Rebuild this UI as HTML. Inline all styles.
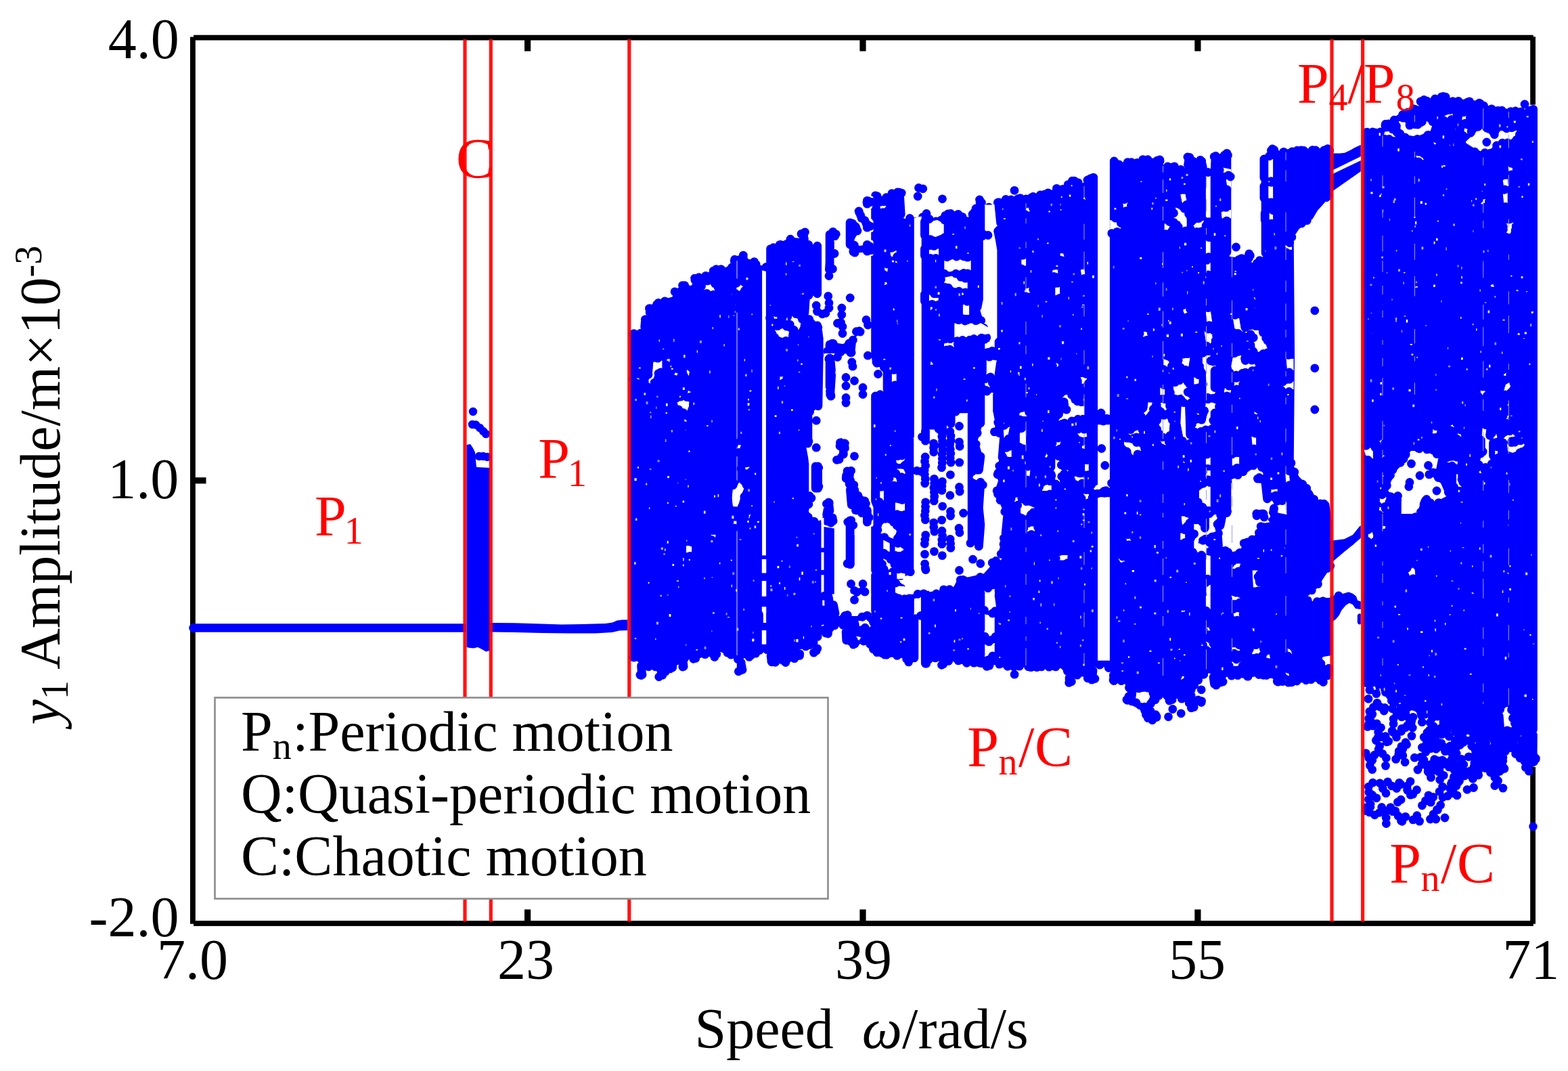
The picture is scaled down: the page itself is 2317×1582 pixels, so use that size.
<!DOCTYPE html>
<html lang="en"><head><meta charset="utf-8"><title>Bifurcation diagram</title>
<style>
html,body{margin:0;padding:0;background:#fff;}
svg{display:block;filter:blur(0.55px);}
text{font-family:"Liberation Serif","DejaVu Serif",serif;}
</style></head>
<body>
<svg width="2317" height="1582" viewBox="0 0 2317 1582">
<rect width="2317" height="1582" fill="#fff"/>
<g id="axes-frame">
<rect x="286" y="51.7" width="1979.8" height="7.8" fill="#000"/>
<rect x="286" y="1360" width="1979.8" height="7.9" fill="#000"/>
<rect x="281" y="54.5" width="7.8" height="1310.2" fill="#000"/>
<rect x="2261.2" y="54.3" width="7.8" height="1310.4" fill="#000"/>
<rect x="775.0" y="59" width="9.2" height="16.6" fill="#000"/>
<rect x="775.0" y="1343.4" width="9.2" height="17" fill="#000"/>
<rect x="1270.4" y="59" width="9.2" height="16.6" fill="#000"/>
<rect x="1270.4" y="1343.4" width="9.2" height="17" fill="#000"/>
<rect x="1765.3" y="59" width="9.2" height="16.6" fill="#000"/>
<rect x="1765.3" y="1343.4" width="9.2" height="17" fill="#000"/>
<rect x="288" y="705.2" width="16.5" height="9.2" fill="#000"/>
<rect x="2245" y="705.2" width="17" height="9.2" fill="#000"/>
</g>
<g id="scatter">
<path fill="#0000ff" d="M285 921.2L689 921.2L689 933.8L285 933.8Z"/>
<path fill="none" stroke="#0000ff" stroke-width="12.6" stroke-linecap="round" d="M285.5 927.5h0"/>
<path fill="#0000ff" d="M724 920L760 920.3L800 921.5L830 922.5L860 922L895 921L905 919.5L912 916.5L920 915.5L931 915.5L931 931L915 931.5L905 934L880 935.5L840 935.5L800 935L760 934L724 933.5ZM689.5 657L695 656L699 662L702 668L704 690L724 691L724 961L718 962.5L712 959L706 956L700 957.5L694 957L689.5 956Z"/>
<path fill="none" stroke="#0000ff" stroke-width="12.4" stroke-linecap="round" d="M699 608h0M698 627h0M703 627.5h0M709 632h0M714 637h0M718 641h0M708 674h0M714 674h0M720 675h0"/>
<path fill="#0000ff" stroke="#fff" stroke-width="6" stroke-linejoin="round" d="M930.5 488.8L946.2 486.2L948 467.5L953.8 465L955 451.2L970 442.5L980 438.8L991.2 436.2L992.5 427.5L1003.8 423.8L1007.5 416.2L1020 418.8L1023.8 406.2L1045 400L1055 391.2L1070 392.5L1078.8 388.8L1080 378.8L1092.5 377.5L1100 371.2L1107.5 380L1117.5 381.2L1127.5 395L1132.5 402.5L1132.5 363.8L1150 356.2L1167.5 347.5L1180 348.8L1183.8 340L1192.5 341.2L1195 356.2L1207.5 360L1215 366.2L1287.5 330L1287.5 285L1295 283.8L1305 287.5L1315 280L1330 277.5L1335 280L1337.5 320L1350 322.5L1362.5 320L1362.5 315L1370 316.2L1377.5 322.5L1387.5 316.2L1395 312.5L1405 308.8L1417.5 310L1430 317.5L1437.5 305L1447.5 292.5L1452.5 295L1455 305L1470 305L1470 295L1480 290L1499.2 287.5L1499 287.5L1514 287.5L1517.8 286.2L1554 277.5L1556.5 273.8L1571.5 272.5L1574 266.2L1581.5 261.2L1594 260L1599 267.5L1604 260L1611.5 257.5L1621.5 258.8L1640.2 240L1644 237.5L1661.5 236.2L1665.2 233.8L1684 233.8L1686.5 230L1719 231.2L1721.5 241.2L1731.5 237.5L1739 240L1749 246.2L1751.5 230L1756.5 226.2L1764 230L1767.8 233.8L1776.5 231.2L1781.5 237.5L1784 250L1789 252.5L1790.2 226.2L1804 223.8L1819 222.5L1819 376.2L1831.5 377.5L1844 370L1851.5 372.5L1851.5 385L1859 380L1864 377.5L1864 235L1869 232.5L1876.5 237.5L1876.5 217.5L1881.5 216.2L1889 220L1899 217.5L1911.5 217L1941.5 216.2L1968 215.8L1968 1000L1959 1011.2L1944 1010L1924 1011.2L1909 1013.8L1884 1012.5L1879 1005L1854 1002.5L1844 1005L1824 1003.8L1814 1002.5L1811.5 1010L1796.5 1017.5L1789 1015L1786.5 997.5L1774 1010L1764 1022.5L1767.8 1027.5L1781.5 1030L1781.5 1038.8L1769 1040L1770.2 1045L1764 1051.2L1754 1047.5L1751.5 1040L1739 1035L1734 1040L1724 1040L1719 1030L1709 1040L1699 1042.5L1706.5 1047.5L1714 1055L1711.5 1063.8L1696.5 1067.5L1684 1055L1679 1042.5L1674 1041.2L1664 1041.2L1659 1035L1661.5 1027.5L1664 1020L1659 1011.2L1640.2 1010L1639 993.8L1629 987.5L1621.5 987.5L1619 1008.8L1604 1007.5L1601.5 1002.5L1590.2 1002.5L1589 1010L1581.5 1013.8L1574 1007.5L1574 997.5L1566.5 990L1516.5 991.2L1514 988.8L1499 990L1499.2 990L1480 988.8L1470 985L1460 990L1447.5 988.8L1435 985L1420 983.8L1407.5 980L1397.5 985L1392.5 988.8L1387.5 980L1377.5 977.5L1370 983.8L1363.8 982.5L1362.5 975L1350 975L1348.8 980L1342.5 982.5L1332.5 975L1320 973.8L1300 973.8L1290 967.5L1280 955L1275 945L1268.8 952.5L1262.5 957.5L1255 952.5L1245 950L1243.8 930L1240 926.2L1232.5 935L1225 942.5L1215 940L1207.5 952.5L1212.5 960L1206.2 967.5L1200 957.5L1192.5 960L1182.5 962.5L1188.8 967.5L1182.5 976.2L1170 980L1163.8 983.8L1155 981.2L1145 983.8L1135 982.5L1132.5 966.2L1126.2 965L1122.5 967.5L1115 976.2L1101.2 975L1101.2 990L1095 996.2L1090 990L1090 980L1082.5 975L1075 971.2L1065 966.2L1057.5 976.2L1045 972.5L1035 975L1027.5 981.2L1020 976.2L1015 985L1008.8 991.2L1002.5 985L992.5 995L982.5 998.8L978.8 1003.8L973.8 1000L970 990L955 990L952.5 997.5L947.5 1003.8L942.5 997.5L941.2 980L930.5 975Z"/>
<path fill="none" stroke="#0000ff" stroke-width="12.8" stroke-linecap="round" d="M935 494.1h0M946.6 492.1h0M952.7 483L953.7 471.9M953.3 471.8h0M960.2 461.7L960.7 455.6M959.4 455.6h0M970.5 449.7h0M972.9 447.3h0M982.4 444.8h0M997.1 430.9h0M1005.7 430.2h0M1011.7 421.6h0M1008.5 421.6h0M1026.9 413.6h0M1026.6 411.1h0M1032.7 409.7h0M1042.9 407.4h0M1054.2 400.1h0M1058.2 397.7h0M1065.5 397.6h0M1081.4 395h0M1085.3 385.7L1085.6 383.3M1091.1 383.9h0M1098.3 379.7h0M1098.3 377.1h0M1114.5 386.6h0M1117.1 390.4h0M1122 398.5h0M1123 398h0M1138.6 398.7L1138.6 367.6M1142.8 365.7h0M1152.1 361.6h0M1153.4 361.4h0M1168 353.4h0M1168 353.2h0M1189.5 342.8h0M1184 345.5h0M1187.1 346L1188.4 353.5M1194.8 361.5h0M1210.1 369.1h0M1221.3 369.6h0M1225.7 368h0M1231.8 364.7h0M1238.1 361.1h0M1245.2 357.3h0M1257.2 352.3h0M1259.5 351.4h0M1265.1 347.6h0M1276.1 342.6h0M1278 342.3h0M1284.8 337.5h0M1293.6 326.2L1293.6 288.8M1294.2 289.6h0M1296.2 289.7h0M1309.5 291.7h0M1317.8 285.7h0M1326.2 284h0M1332.2 285.1h0M1329.2 284.2L1331.2 316.5M1343.4 327.9h0M1353.3 327.2h0M1369 315.5h0M1363.5 320.6h0M1371.3 326h0M1383 327h0M1396.8 318.4h0M1401 315.8h0M1404.8 315.5h0M1415.8 316.3h0M1422 320.3h0M1437 316.6h0M1439.8 313.4h0M1442.1 308h0M1450.4 299.3h0M1448.1 299h0M1449.6 305.5h0M1455.1 310.5h0M1465.8 310.1h0M1476.1 301.2L1476.1 298.8M1474.3 299.2h0M1486.2 294.5h0M1494 294.8h0M1499 281.3h0M1504.2 293.6h0M1507.6 292.6h0M1516.2 293.8h0M1524.4 291.6h0M1526.6 290.4h0M1537.2 288h0M1543.4 287.1h0M1548.7 284.9h0M1561.4 278.4h0M1562.5 279.5h0M1570.5 279.3h0M1578.2 272.6h0M1584.4 267.2h0M1587.4 267.1h0M1593.3 269.8h0M1606.9 266h0M1610.3 264.3h0M1611.5 263.7h0M1632.4 257.2h0M1636.3 252h0M1642.9 245.9h0M1645.5 244.3h0M1645.2 243.8h0M1653.4 242.9h0M1666.3 239.6h0M1671.8 239.6h0M1680.4 240.4h0M1688.8 235.6h0M1688.7 236.3h0M1696.1 235.7h0M1709.9 237.1h0M1714.2 237.7h0M1713.8 236h0M1725.5 245.9h0M1735.4 245.8h0M1744.8 250.3h0M1755.6 243.4L1756.9 234.7M1757.8 232.3h0M1754.9 232h0M1762.5 237.8h0M1775.8 238.4h0M1773.7 236.3h0M1776.3 242.5L1777.3 247.4M1783.8 256h0M1795.3 249L1796.2 230.4M1794.2 231.4h0M1809.2 229.2h0M1814.4 229.4h0M1812.9 226.3L1812.9 372.4M1830.7 383.3h0M1834.6 381.6h0M1845.8 374.8h0M1847.4 377.5h0M1845.4 376.3L1845.4 381.2M1857.4 388.8h0M1861.4 384.6h0M1870.1 373.7L1870.1 238.8M1868.5 238.4h0M1872.2 241.2h0M1882.6 233.7L1882.6 221.3M1878.4 222.3h0M1883.6 223.8h0M1896.8 224.4h0M1909.4 223.8h0M1916.8 222.2h0M1922.7 222h0M1926.7 222.5h0M1939.5 221.6h0M1944 221.8h0M1956.6 221.9h0M1964.7 222.2h0M1961.9 219.6L1961.9 996.2M1961.2 998.2h0M1955.4 1007.5h0M1952.5 1004.4h0M1951 1004.7h0M1937.3 1003.8h0M1929.9 1004.8h0M1916.3 1006h0M1908.5 1007.9h0M1903.8 1008.1h0M1895 1006.6h0M1887.3 1006.4h0M1888.4 1007.2h0M1871.5 997.5h0M1866.8 997.3h0M1860.3 996.5h0M1844.1 999.2h0M1843.5 999.2h0M1828.9 997.7h0M1819.8 998.1h0M1807.1 1007h0M1803.1 1008.2h0M1798.6 1009.3h0M1797.1 1012.2h0M1794.5 1010.3L1793.1 1000.4M1778.8 996.3h0M1770.6 1004.6h0M1764.7 1012.2h0M1760.2 1019h0M1760.1 1027.2h0M1770.6 1034.4h0M1775.6 1035.6h0M1770.4 1033.8h0M1763.9 1042.9h0M1760.3 1045.6h0M1764.2 1044.4h0M1757.2 1038.4h0M1746.3 1032.2h0M1732.1 1033.5h0M1727.9 1035h0M1724.5 1027.7h0M1712.4 1027.4h0M1707 1033.7h0M1700.8 1036.8h0M1699.9 1050h0M1709 1059.4h0M1707.7 1055.7h0M1709.1 1058.4h0M1696.3 1060.7h0M1697.5 1060.6h0M1693.4 1055.7h0M1684.2 1041.5h0M1676.3 1036.6h0M1672.1 1035.8h0M1664.9 1033.5h0M1665.7 1034.3h0M1667.8 1028.7h0M1668.5 1016h0M1657 1005.7h0M1645 1004.5h0M1646 1005.7L1645.4 997.1M1638.3 986.5h0M1625 982.2h0M1615 990.6L1613.4 1004.2M1618 1002.5h0M1607.2 1001.8h0M1607.3 1000.5h0M1591.9 997.1h0M1583 1007h0M1579.7 1008.4h0M1583.4 1006.7h0M1580.1 1003.7L1580.1 1001.3M1577.2 991.1h0M1560 984.9h0M1557.5 983.9h0M1550.2 985.2h0M1539 984.9h0M1532.2 985.6h0M1527.8 984.7h0M1523.4 985.7h0M1519.5 984.8h0M1506.3 984.2h0M1502.2 983.3h0M1499.1 996.2h0M1497.8 984.8h0M1488.9 984.3h0M1476.6 981.1h0M1462 983.1h0M1458.2 984.4h0M1438.9 979.1h0M1428.5 979.3h0M1427.6 977.6h0M1416.1 975.9h0M1401.6 976.4h0M1391.5 982.3h0M1393.9 981h0M1382.1 971.9h0M1372.4 974.2h0M1366.5 977.2h0M1368.7 980.2h0M1356.1 970h0M1342.6 977.9h0M1341.9 975.7h0M1339.6 973.2h0M1325.6 968.4h0M1310.2 967.3h0M1307.4 967.1h0M1295.9 963.7h0M1290.4 958.8h0M1285.7 951.5h0M1282.2 945.2h0M1265.8 947.1h0M1261 952.1h0M1263.2 950.9h0M1256.3 947h0M1250.8 945.8L1250.1 933.5M1245.7 923.3h0M1233.2 923.9h0M1223.5 936h0M1219.9 935h0M1208.1 940.4h0M1202.2 949.3h0M1205.7 961.3h0M1202.5 964.1h0M1207.8 958h0M1196.3 952.7h0M1190.7 954.9h0M1181.6 968.4h0M1181.8 965.8h0M1173.9 972.6h0M1160.9 978.5h0M1156.7 975.4h0M1145.7 978.3h0M1139.8 976.7h0M1140.4 977.8L1139.1 969.1M1133.5 959.6h0M1122.4 960.5h0M1116.8 965.1h0M1107.1 970.4h0M1095.2 978.8L1095.2 986.2M1091.3 991.8h0M1097.1 989.2h0M1096.1 986.2L1096.1 983.8M1090.3 973.6h0M1080.3 967.2h0M1075 964.2h0M1058.8 966.2h0M1055.9 970.5h0M1041.9 966.7h0M1027.8 972.4h0M1024.7 973.3h0M1009.2 981.6h0M1009.9 980.8h0M1010.2 984.4h0M993.8 986h0M990.2 987.9h0M983.2 992.2h0M973.7 999.8h0M978.9 997.3h0M976.9 991.7h0M968.5 984.9h0M958.5 984.8h0M948 991.4h0M945.9 996.9h0M949.1 996.5h0M948.3 993.2L947.6 983.4M935.4 970.7h0M936.6 971.2L936.6 492.6M1726.5 1058.8h0M1745.2 1053.8h0M1732.8 1047.5h0M1775.2 1037.5h0M1775.2 1018.8h0M1702.8 1063.8h0M1682.8 1040h0M1581.5 1007.5h0M1008.8 985h0M1095 990h0M947.5 997.5h0M977.5 997.5h0M1206.2 961.2h0M1262.5 951.2h0M1357.5 277.5h0M1356.2 290h0M1363.8 278.8h0M1392.5 293.8h0M1447.5 295h0M1461.2 306.2h0M1826.5 365h0M1880.2 220h0M1869 237.5h0"/>
<path fill="#0000ff" d="M1966 226.4L1980 226.5L1987 225.7L1995 222L2002 218L2014 212.5L2014 229.5L1966 253ZM1966 258.5L2014 235.5L2014 251L1966 284.5ZM1966.5 798.8L1986.5 796.2L1999 790L2009 777.5L2014.5 774L2014.5 791.5L1999 805L1986.5 815L1966.5 832ZM1966 880.7L1976.7 880.2L1984.8 876.7L1992.9 874.6L1998.9 876.7L2004 880.7L2006 886.8L2014.1 889.8L2014.1 900.4L2003 898.9L1998.9 892.9L1993.9 890.8L1988.8 893.9L1982.7 900.9L1978.7 909L1973.6 915.1L1966 920.2ZM2005.8 909L2007.2 906.8L2009.5 906.2L2011.6 907L2011.6 921.7L2009.5 922.4L2007.2 922L2005.8 919.7Z"/>
<path fill="#0000ff" stroke="#fff" stroke-width="6" stroke-linejoin="round" d="M2013.8 191.2L2020.5 190L2040.5 188.8L2041.8 178.8L2053 176.2L2063 167.5L2073 162.5L2088 155L2095.5 153.8L2098 145L2113 142.5L2123 140L2133 136.2L2140.5 137.5L2143 143.8L2163 143.8L2188 146.2L2191.8 150L2198 152.5L2208 156.2L2225.5 157.5L2245.5 158.8L2259.2 158L2271.8 157.5L2271.5 1081.6L2271.1 1130.1L2261.4 1130.1L2257.4 1109.9L2239.1 1113.9L2241.2 1101.8L2245.2 1085.6L2235.1 1079.6L2231.1 1065.4L2227 1047.2L2220.9 1053.3L2223 1079.6L2218.9 1085.6L2204.8 1095.7L2192.6 1099.8L2186.6 1093.7L2176.4 1087.7L2160.3 1081.6L2144.1 1077.5L2129.9 1071.5L2125.9 1065.4L2111.7 1059.3L2097.6 1061.4L2089.5 1053.3L2077.3 1049.2L2063.2 1047.2L2053.1 1041.1L2045 1031L2038.9 1020.9L2024.7 1013.8L2013.8 1012.8Z"/>
<path fill="none" stroke="#0000ff" stroke-width="12.8" stroke-linecap="round" d="M2021.7 196.6h0M2028.2 195h0M2032.1 195.9h0M2047 185.7L2047.3 183.3M2051.9 182.8h0M2060.2 177.2h0M2072.5 169.5h0M2080.2 165.8h0M2088.5 160.7h0M2091 161.4h0M2104.1 147.5h0M2099.1 150h0M2108.5 149.1h0M2120.5 146h0M2130.2 142.8h0M2132.6 142.5h0M2136.2 143.2h0M2146.7 149.6h0M2155.1 149.4h0M2168.6 150.8h0M2171.4 149.8h0M2185.8 152.2h0M2187.1 152.9h0M2192.4 156.1h0M2204.1 160.8h0M2213.2 163.4h0M2219.2 163.1h0M2232.5 164.6h0M2239.4 164h0M2247.2 165.2h0M2260.4 163.1h0M2265.6 161.3L2265.4 1077.7M2265.4 1085.4L2265 1126.2M2265.6 1124.3h0M2266.6 1125.2L2264.1 1112.5M2249.9 1105.9h0M2240.1 1108.5h0M2245.8 1111.2L2246.6 1106.6M2247.6 1101.6h0M2248.7 1094.4h0M2241.1 1075.9h0M2239.6 1076.1h0M2238.4 1068.2h0M2235.4 1060.9h0M2233.5 1048.5h0M2216.7 1048h0M2215.2 1057.6L2216.6 1076.2M2214.5 1081.9h0M2210 1085.2h0M2206.3 1087.6h0M2191.3 1093.3h0M2195.1 1094.3h0M2185.8 1086.7h0M2175.2 1081.1h0M2168.9 1078.4h0M2155.3 1074.2h0M2146.9 1072h0M2145.3 1071.2h0M2132.9 1066.8h0M2134.8 1068h0M2124.4 1058.2h0M2114.4 1053.8h0M2105.3 1055.1h0M2099.9 1054.5h0M2100.5 1057h0M2082.6 1044h0M2077.6 1043.1h0M2070.1 1041.8h0M2059.4 1038.6h0M2056.3 1034.9h0M2047.3 1022.5h0M2038.6 1014.5h0M2027.7 1008.4h0M2019.9 1007.4h0M2019.9 1009L2019.9 195.1M2253 154h0"/>
<path fill="none" stroke="#0000ff" stroke-width="12.4" stroke-linecap="round" d="M2265.5 1221h0"/>
<path fill="#ffffff" stroke="#fff" stroke-width="5" stroke-linejoin="round" d="M1213.8 330L1213.8 433.8L1196.2 442.5L1195 462.5L1201.2 467.5L1213.8 480L1216.2 500L1216.2 525.5L1216.2 525L1215 600L1200 612.5L1200 655L1191.2 661.2L1193.8 675L1195 685L1195 725L1202.5 732.5L1197.5 755L1202.5 765L1215 767.5L1232.5 775L1232.5 895L1240 907.5L1287.5 907.5L1287.5 850L1295 847.5L1287.5 842.5L1287.5 775L1287.5 675L1287.5 585L1305 575L1305 550L1290 537.5L1287.5 525L1287.5 525.5L1287.5 380L1287.5 330Z"/>
<path fill="none" stroke="#0000ff" stroke-width="12.8" stroke-linecap="round" d="M1207.7 363.2L1207.7 433.8M1190.2 442.1L1188.9 462.1M1207.7 480.8L1210.2 500.8M1210.2 500L1210.2 525.5M1210.2 524.9L1208.9 599.9M1193.9 612.5L1193.9 655M1185.2 662.3L1187.7 676.1M1187.7 675.8L1188.9 685.8M1188.9 685L1188.9 725M1226.4 775L1226.4 895M1293.6 907.5L1293.6 850M1293.6 842.5L1293.6 775M1293.6 775L1293.6 675M1293.6 675L1293.6 585M1311.1 575L1311.1 550M1296 536.3L1293.5 523.8M1293.6 525.5L1293.6 380M1293.6 380L1293.6 330M1204.5 430.8h0M1195 436.2h0M1195.9 471.7h0M1208.9 483.8h0M1222.8 525.1h0M1208.7 598.9h0M1196.6 608.3h0M1195 651.8h0M1199 735.6h0M1196.2 732.5h0M1195 744.8h0M1194.4 763.9h0M1202.9 770.1h0M1214.6 774.2h0M1223.8 776.7h0M1228.3 900.4h0M1245.2 914h0M1252 914.2h0M1273.7 914.4h0M1280.1 912.1h0M1295.3 840.7h0M1293.4 589.7h0M1300.6 582.7h0M1306.4 542.7h0M1296.1 536.2h0M1282.4 525.2h0"/>
<path fill="#0000ff" stroke="#fff" stroke-width="6" stroke-linejoin="round" d="M1220 342.5L1230 336.2L1238.8 342.5L1238.8 350L1232.5 353.8L1232.5 370L1238.8 376.2L1232.5 382.5L1231.2 402.5L1220 402.5Z"/>
<path fill="none" stroke="#0000ff" stroke-width="12.8" stroke-linecap="round" d="M1230.8 342.3h0M1235.3 345.8h0M1233.7 348.7h0M1232.4 347.1h0M1226.4 357.6L1226.4 366.2M1228.8 375.6h0M1233.1 374.5h0M1226.2 386L1225.4 398.3M1230.4 397.2h0M1226.1 398.7L1226.1 346.3"/>
<path fill="#0000ff" stroke="#fff" stroke-width="6" stroke-linejoin="round" d="M1250 325L1260 322.5L1270 330L1272.5 342.5L1265 355L1270 360L1287.5 357.5L1287.5 375L1270 376.2L1262.5 378.8L1255 375L1250 365Z"/>
<path fill="none" stroke="#0000ff" stroke-width="12.8" stroke-linecap="round" d="M1256.2 329.9h0M1259.9 330.2h0M1264.8 335L1265.8 339.9M1267 341h0M1262.4 362.2h0M1285.4 364h0M1281.4 361.3L1281.4 371.2M1286.9 369.6h0M1263.1 373.2h0M1260.8 371.6h0M1261.2 371.8h0M1256.1 361.2L1256.1 328.8"/>
<path fill="#0000ff" stroke="#fff" stroke-width="6" stroke-linejoin="round" d="M1263.8 310L1270 308.8L1287.5 327.5L1287.5 340L1277.5 337.5L1263.8 317.5Z"/>
<path fill="none" stroke="#0000ff" stroke-width="12.8" stroke-linecap="round" d="M1269.7 313.9h0M1271.6 318.1h0M1277.8 325.6h0M1281.4 331.3L1281.4 336.2M1285.8 334.1h0M1279.9 330.1h0M1273 322.1h0M1269.1 312h0"/>
<path fill="#0000ff" stroke="#fff" stroke-width="6" stroke-linejoin="round" d="M1276.2 293.8L1287.5 292.5L1287.5 305L1277.5 303.8Z"/>
<path fill="none" stroke="#0000ff" stroke-width="12.8" stroke-linecap="round" d="M1287.5 298.4h0M1281.4 296.3L1281.4 301.2M1280.9 298.8h0M1283.1 299.2L1282.8 296.8"/>
<path fill="#0000ff" stroke="#fff" stroke-width="6" stroke-linejoin="round" d="M1220 505L1230 502.5L1245 505L1255 500L1267.5 485L1275 490L1265 502.5L1262.5 525.5L1220 525.5Z"/>
<path fill="none" stroke="#0000ff" stroke-width="12.8" stroke-linecap="round" d="M1229.4 507.5h0M1231.3 507.5h0M1254.6 507.2h0M1260.4 502.2h0M1271.1 490.1h0M1265.4 489.7h0M1269.7 489h0M1258.5 505.7L1256.9 521M1258.2 520.8h0M1242.1 519.9h0M1235.8 519.4h0M1222.5 518.9h0M1226.1 521.7L1226.1 508.8M1225 407.5h0M1223.8 437.5h0M1225 447.5h0M1206.2 451.2h0M1207.5 460h0M1220 462.5h0M1225 455h0M1215 463.8h0M1256.2 440h0M1243.8 455h0M1243.8 465h0M1242.5 476.2h0M1237.5 477.5h0M1245 482.5h0M1245 492.5h0M1280 472.5h0M1282.5 480h0"/>
<path fill="#0000ff" stroke="#fff" stroke-width="6" stroke-linejoin="round" d="M1220 525L1232.5 525L1235 550L1232.5 587.5L1222.5 590L1220 575Z"/>
<path fill="none" stroke="#0000ff" stroke-width="12.8" stroke-linecap="round" d="M1224.8 530.3h0M1226.8 529.4L1228.5 546.8M1228.7 553.4L1226.7 583.3M1227.3 584.1h0M1227.9 585.2L1226.6 577.8M1226.1 571.2L1226.1 528.8"/>
<path fill="#0000ff" stroke="#fff" stroke-width="6" stroke-linejoin="round" d="M1232.5 655L1242.5 642.5L1252.5 650L1255 665L1250 675L1237.5 685L1231.2 677.5L1237.5 667.5Z"/>
<path fill="none" stroke="#0000ff" stroke-width="12.8" stroke-linecap="round" d="M1241.4 653.9h0M1248.4 655h0M1247.1 654.8L1248.4 662.2M1246.3 668.9h0M1246.4 671h0M1240.1 678.5h0M1236.5 679.3h0M1241 658.7h0"/>
<path fill="#0000ff" stroke="#fff" stroke-width="6" stroke-linejoin="round" d="M1202.5 685L1211.2 685L1211.2 725L1202.5 725Z"/>
<path fill="none" stroke="#0000ff" stroke-width="12.8" stroke-linecap="round" d="M1209.7 691h0M1205.2 688.8L1205.2 721.2M1209.9 718.6h0M1208.6 721.2L1208.6 688.8"/>
<path fill="#0000ff" stroke="#fff" stroke-width="6" stroke-linejoin="round" d="M1245 697.5L1255 690L1265 705L1270 725L1280 732.5L1287.5 750L1287.5 775L1275 765L1265 762.5L1252.5 750L1250 720L1243.8 710Z"/>
<path fill="none" stroke="#0000ff" stroke-width="12.8" stroke-linecap="round" d="M1257.6 695.4h0M1252 695.8h0M1255.5 702h0M1261.8 716.3h0M1262.9 723.8h0M1267.9 732h0M1277.8 740h0M1279.4 744h0M1281.4 753.8L1281.4 771.2M1284.2 764.4h0M1273.4 757.6h0M1264.5 754h0M1258.3 745.7L1256.4 723.3M1255.1 715.1h0M1250.2 706.8L1250.7 701.9"/>
<path fill="#0000ff" stroke="#fff" stroke-width="6" stroke-linejoin="round" d="M1220 737.5L1230 737.5L1232.5 757.5L1237.5 765L1235 775L1232.5 777.5L1217.5 775L1215 762.5Z"/>
<path fill="none" stroke="#0000ff" stroke-width="12.8" stroke-linecap="round" d="M1221.4 744.3h0M1224.4 742.1L1226 754.4M1230.3 764.8h0M1231.1 769.4h0M1227.8 772.3h0M1221.2 769.5h0M1222.7 770L1221.7 765.1M1221.7 759.9L1225.2 742.5"/>
<path fill="#0000ff" stroke="#fff" stroke-width="6" stroke-linejoin="round" d="M1250 765L1262.5 762.5L1267.5 775L1262.5 787.5L1262.5 837.5L1250 837.5Z"/>
<path fill="none" stroke="#0000ff" stroke-width="12.8" stroke-linecap="round" d="M1252.8 771.1h0M1257.7 768.6h0M1260.8 775.8h0M1256.4 791.3L1256.4 833.7M1252.1 832.5h0M1256.1 833.7L1256.1 768.8M1237.5 527.5h0M1258.8 535h0M1260 541.2h0M1250 557.5h0M1250 570h0M1262.5 562.5h0M1275 572.5h0M1275 582.5h0M1250 587.5h0M1250 595h0M1295 535h0M1297.5 552.5h0M1262.5 673.8h0M1206.2 661.2h0M1206.2 621.2h0M1257.5 862.5h0M1275 862.5h0M1262.5 872.5h0M1275 872.5h0M1262.5 885h0"/>
<path fill="#ffffff" d="M1213.5 765h4v44.2h-4zM1213.5 815.8h4v26.1h-4zM1213.5 849.3h4v50.7h-4z"/>
<path fill="#ffffff" stroke="#fff" stroke-width="5" stroke-linejoin="round" d="M1230 880L1287.5 880L1287.5 902.5L1275 905L1252.5 902.5L1240 905L1237.5 892.5L1231.2 890Z"/>
<path fill="none" stroke="#0000ff" stroke-width="12.8" stroke-linecap="round" d="M1293.6 880L1293.6 902.5M1234 906.2L1231.5 893.7M1225.2 890.8L1223.9 880.8M1266.1 874.5h0M1278 874.2h0M1281.4 909.1h0M1273.9 911.1h0M1252.3 908.5h0M1248.5 909.5h0M1230.4 896.5h0M1262.5 886.2h0"/>
<path fill="#ffffff" stroke="#fff" stroke-width="0.8" stroke-linejoin="round" d="M1125.8 400L1132.2 400L1132.2 820L1125.8 820Z"/>
<path fill="none" stroke="#0000ff" stroke-width="12.8" stroke-linecap="round" d="M1138.3 400L1138.3 820M1119.7 820L1119.7 400M1132.2 394.4h0"/>
<path fill="#ffffff" d="M1125.8 826h6.5v20.5h-6.5zM1125.8 858h6.5v23.1h-6.5zM1125.8 896.3h6.5v22.4h-6.5zM1125.8 930.9h6.5v20.9h-6.5z"/>
<path fill="#b4b4ff" d="M1088.4 385h1.2v583h-1.2z"/>
<path fill="#ffffff" stroke="#fff" stroke-width="1" stroke-linejoin="round" d="M1350.5 322.5L1362 320L1362 525.5L1350.5 525.5Z"/>
<path fill="none" stroke="#0000ff" stroke-width="12.8" stroke-linecap="round" d="M1368.1 320L1368.1 525.5M1344.4 525.5L1344.4 322.5"/>
<path fill="#ffffff" stroke="#fff" stroke-width="1" stroke-linejoin="round" d="M1350.5 525L1362 525L1362 650L1380 652.5L1380 665L1362.5 667.5L1361.2 687.5L1350.5 695Z"/>
<path fill="none" stroke="#0000ff" stroke-width="12.8" stroke-linecap="round" d="M1368.1 525L1368.1 650M1386.1 652.5L1386.1 665M1368.6 667.9L1367.3 687.9M1344.4 695L1344.4 525M1373.2 647.8h0M1372.9 670.8h0M1363.7 692.2h0"/>
<path fill="#ffffff" stroke="#fff" stroke-width="1" stroke-linejoin="round" d="M1350.5 705L1362 710L1363 825L1350.5 825Z"/>
<path fill="none" stroke="#0000ff" stroke-width="12.8" stroke-linecap="round" d="M1368.1 709.9L1369.1 824.9M1344.4 825L1344.4 705M1355 702.3h0M1360.1 828.7h0"/>
<path fill="#ffffff" stroke="#fff" stroke-width="5" stroke-linejoin="round" d="M1350.5 880L1361.2 880L1361.2 905L1350.5 905Z"/>
<path fill="none" stroke="#0000ff" stroke-width="12.8" stroke-linecap="round" d="M1367.3 880L1367.3 905M1344.4 905L1344.4 880"/>
<path fill="#ffffff" stroke="#fff" stroke-width="5" stroke-linejoin="round" d="M1357 915L1361.2 915L1361.2 980L1357 980Z"/>
<path fill="none" stroke="#0000ff" stroke-width="12.8" stroke-linecap="round" d="M1367.3 915L1367.3 980M1350.9 971.9L1350.9 915M1360.7 909.4h0"/>
<path fill="#ffffff" stroke="#fff" stroke-width="5" stroke-linejoin="round" d="M1350 648.8L1360.9 651.2L1373.6 651.2L1373.6 637L1386.2 637L1386.2 640.3L1398.7 640.3L1398.7 625.7L1411.2 625.7L1411.2 612.8L1430.1 612.8L1430.1 812.6L1411.4 840.9L1409.4 867.2L1360.9 873.2L1350 873.2Z"/>
<path fill="none" stroke="#0000ff" stroke-width="12.8" stroke-linecap="round" d="M1367.5 651.2L1367.5 637M1392.6 640.3L1392.6 625.7M1405.1 625.7L1405.1 612.8M1436.2 612.8L1436.2 812.6M1417.5 841.3L1415.5 867.6M1343.9 873.2L1343.9 648.8M1362.5 645.3h0M1391.4 637.8h0M1387 633.5h0M1403.7 620.3h0M1412.1 608.2h0M1432.9 818.6h0M1407.6 872.7h0M1383.6 877h0M1367.9 877.3h0M1350 878.2h0M1367.2 675h0M1366.5 681.5h0M1367.6 688h0M1366.2 694.5h0M1366.3 701h0M1367.3 707.5h0M1366.7 714h0M1367.6 741.8h0M1367.5 748.3h0M1367.3 754.8h0M1366.4 761.3h0M1367.3 767.8h0M1367.7 790.3h0M1366.9 796.8h0M1366.3 803.3h0M1366.5 818.6h0M1366.6 832.8h0M1367.3 839.3h0M1379.6 654.8h0M1379.6 661.3h0M1379.7 667.8h0M1380.4 707.4h0M1380.6 713.9h0M1379.9 720.4h0M1380.4 726.9h0M1380.7 733.4h0M1380.2 739.9h0M1379.7 772.1h0M1379.8 778.6h0M1380.8 785.1h0M1380.4 814.6h0M1391.9 645.1h0M1392.5 651.6h0M1391.6 658.1h0M1393 664.6h0M1392.1 671.1h0M1392.3 677.6h0M1392.3 684.1h0M1391.5 690.6h0M1392.4 711.4h0M1391.9 717.9h0M1391.8 724.4h0M1392.7 747.8h0M1391.6 768.1h0M1391.9 784.2h0M1392.6 790.7h0M1391.8 797.2h0M1391.9 803.7h0M1392.3 820.6h0M1403.9 637.6h0M1405 644.1h0M1405.1 650.6h0M1403.6 657.1h0M1404.3 663.6h0M1404.8 670.1h0M1404.2 676.6h0M1405.1 683.1h0M1404.4 701.3h0M1403.9 731.7h0M1404.5 755.5h0M1404.6 762h0M1404.1 796.4h0M1404.6 802.9h0M1404.8 809.4h0M1417.5 629.5h0M1417.5 652.8h0M1418.1 659.3h0M1417.8 683.1h0M1417.5 719.5h0M1418.2 726h0M1417 780.2h0M1418 786.7h0M1423.6 758h0M1354.8 695.3h0M1360.9 696.3h0M1435.7 825.7h0M1447.8 831.8h0M1466 831.8h0M1461 849h0M1417.5 846.9h0M1413.5 851h0M1421.6 851h0"/>
<path fill="#ffffff" stroke="#fff" stroke-width="5" stroke-linejoin="round" d="M1325 857.5L1350 850L1365 850L1395 832.5L1420 825L1432.5 807.5L1452.5 807.5L1477.5 800L1470 825L1452.5 845L1430 850L1415 850L1407.5 865L1382.5 867.5L1350 875L1345 870Z"/>
<path fill="none" stroke="#0000ff" stroke-width="12.8" stroke-linecap="round" d="M1331.1 850.3h0M1345.3 844.7h0M1367.9 841.7h0M1434 802.2h0M1445.6 801.4h0M1454.1 800.8h0M1473.8 796h0M1482.9 803.8h0M1475.3 823.7h0M1470.6 832h0M1448.4 852.5h0M1423.2 856.4h0M1419.2 856.6h0M1403.1 870.7h0M1394.5 870.9h0M1364.9 876.8h0M1341.5 874.2h0M1332 869h0M1327.7 866.4h0M1437.5 826.2h0M1448.8 832.5h0M1466.2 831.2h0M1461.2 848.8h0M1417.5 842.5h0"/>
<path fill="#ffffff" stroke="#fff" stroke-width="5" stroke-linejoin="round" d="M1455 305L1470 305L1472.5 330L1468.8 342.5L1471.2 355L1473.8 370L1473.8 505L1465 505L1450 455L1452.5 442.5L1452.5 355L1457.5 347.5L1455 340Z"/>
<path fill="none" stroke="#0000ff" stroke-width="12.8" stroke-linecap="round" d="M1476.1 304.4L1478.6 329.4M1474.7 341.3L1477.2 353.8M1477.3 354L1479.8 369M1479.8 370L1479.8 505M1444 453.8L1446.5 441.3M1446.4 442.5L1446.4 355M1448.9 340L1448.9 305M1476.7 339.3h0M1470.3 511.6h0M1457.8 498.6h0M1455.8 494.9h0M1453.6 484.4h0M1449.7 473.5h0M1452.6 345.7h0M1451.4 348.9h0M1460 347.5h0"/>
<path fill="#ffffff" stroke="#fff" stroke-width="5" stroke-linejoin="round" d="M1455 582.5L1467.5 582.5L1467.5 607.5L1470 620L1465 642.5L1477.5 645L1475 675L1467.5 700L1472.5 710L1467.5 725L1477.5 750L1482.5 762.5L1480 787.5L1470 812.5L1477.5 825L1452.5 807.5L1455 775L1452.5 750L1455 712.5L1440 705L1452.5 695L1455 675L1447.5 650L1455 625L1455 600Z"/>
<path fill="none" stroke="#0000ff" stroke-width="12.8" stroke-linecap="round" d="M1473.6 582.5L1473.6 607.5M1473.5 606.3L1476 618.8M1483.6 645.5L1481.1 675.5M1488.6 763.1L1486.1 788.1M1446.4 807L1448.9 774.5M1448.9 775.6L1446.4 750.6M1446.4 749.6L1448.9 712.1M1446.4 694.2L1448.9 674.2M1448.9 625L1448.9 600M1448.9 600L1448.9 582.5M1458.4 578h0M1474.7 624.1h0M1469.4 637.9h0M1476.7 688.3h0M1475 698.5h0M1474 700.8h0M1473.1 724.9h0M1474.4 729.8h0M1478 738.8h0M1484.7 755.7h0M1483.3 795h0M1479.2 818.3h0M1471.6 828.5h0M1452.3 716.3h0M1443 694.2h0M1442.2 656.1h0M1444.2 639.6h0"/>
<path fill="#ffffff" stroke="#fff" stroke-width="5" stroke-linejoin="round" d="M1457.5 532.5L1472.5 535L1470 552.5L1457.5 550Z"/>
<path fill="none" stroke="#0000ff" stroke-width="12.8" stroke-linecap="round" d="M1478.5 535.9L1476 553.4M1451.4 550L1451.4 532.5M1462 527.1h0M1463.6 556.8h0"/>
<path fill="#ffffff" stroke="#fff" stroke-width="5" stroke-linejoin="round" d="M1455 875L1470 872.5L1472.5 900L1457.5 897.5Z"/>
<path fill="none" stroke="#0000ff" stroke-width="12.8" stroke-linecap="round" d="M1476.1 871.9L1478.6 899.4M1451.4 898.2L1448.9 875.7M1459.9 868.8h0M1467.5 904.1h0"/>
<path fill="#ffffff" stroke="#fff" stroke-width="5" stroke-linejoin="round" d="M1455 880L1470 880L1472.5 897.5L1460 900L1455 895Z"/>
<path fill="none" stroke="#0000ff" stroke-width="12.8" stroke-linecap="round" d="M1476 879.1L1478.5 896.6M1448.9 895L1448.9 880M1470.4 902.7h0M1454.4 901.3h0"/>
<path fill="#ffffff" stroke="#fff" stroke-width="5" stroke-linejoin="round" d="M1455 910L1470 912.5L1470 935L1460 937.5L1455 930Z"/>
<path fill="none" stroke="#0000ff" stroke-width="12.8" stroke-linecap="round" d="M1476.1 912.5L1476.1 935M1448.9 930L1448.9 910M1466.5 906h0M1471.1 940.4h0M1455.1 940.1h0"/>
<path fill="#ffffff" stroke="#fff" stroke-width="5" stroke-linejoin="round" d="M1455 955L1470 952.5L1470 962.5L1455 967.5Z"/>
<path fill="none" stroke="#0000ff" stroke-width="12.8" stroke-linecap="round" d="M1476.1 952.5L1476.1 962.5M1448.9 967.5L1448.9 955M1461.5 947.9h0M1466.7 969h0"/>
<path fill="#ffffff" stroke="#fff" stroke-width="1.6" stroke-linejoin="round" d="M1621.8 234L1640.2 234L1640.2 612L1621.8 612Z"/>
<path fill="none" stroke="#0000ff" stroke-width="12.8" stroke-linecap="round" d="M1646.3 238L1646.3 612M1615.7 612L1615.7 262.1M1635.4 618.2h0"/>
<path fill="#ffffff" stroke="#fff" stroke-width="1.6" stroke-linejoin="round" d="M1621.8 628L1640.2 628L1640.2 720L1621.8 720Z"/>
<path fill="none" stroke="#0000ff" stroke-width="12.8" stroke-linecap="round" d="M1646.3 628L1646.3 720M1615.7 720L1615.7 628M1630.4 622h0"/>
<path fill="#ffffff" stroke="#fff" stroke-width="1.6" stroke-linejoin="round" d="M1621.8 735L1640.2 735L1640.2 975L1621.8 975Z"/>
<path fill="none" stroke="#0000ff" stroke-width="12.8" stroke-linecap="round" d="M1646.3 735L1646.3 975M1615.7 975L1615.7 735M1632.4 728.1h0M1627.8 662.5h0M1632.8 687.5h0M1627 610h0"/>
<path fill="#ffffff" stroke="#fff" stroke-width="5" stroke-linejoin="round" d="M1821.5 710L1836.5 705L1851.5 695L1859 692.5L1864 700L1856.5 702.5L1854 710L1864 715L1866.5 737.5L1876.5 741.2L1889 747.5L1901.5 745L1901.5 757.5L1889 755L1876.5 750L1874 765L1876.5 768.8L1861.5 771.2L1859 780L1851.5 790L1844 795L1834 800L1831.5 810L1821.5 812.5L1814 807.5L1806.5 805L1805.2 790L1809 777.5L1811.5 765L1819 757.5L1819 715Z"/>
<path fill="none" stroke="#0000ff" stroke-width="12.8" stroke-linecap="round" d="M1870.1 714.3L1872.6 736.8M1907.6 745L1907.6 757.5M1882.5 751L1880 766M1800.4 805.5L1799.2 790.5M1803 776.3L1805.5 763.8M1812.9 757.5L1812.9 715M1829.1 701.7h0M1837 696.8h0M1852.2 687.6h0M1864.5 690.3h0M1863.5 707.5h0M1860.8 705.5h0M1858.4 707.1h0M1872.2 734.2h0M1887.3 740.1h0M1894.7 739.6h0M1882.2 759.5h0M1881 764.2h0M1863.1 777.6h0M1865.5 778.3h0M1860.4 786.8h0M1850.3 796.9h0M1843 801h0M1838.2 802.4h0M1832 816.3h0M1814.5 815.6h0M1810.7 813.4h0M1800.5 787.9h0M1813.6 755.2h0M1814 710.9h0"/>
<path fill="#0000ff" stroke="#fff" stroke-width="6" stroke-linejoin="round" d="M1851.5 757.5L1859 750L1869 753.8L1874 762.5L1864 767.5L1854 768.8Z"/>
<path fill="none" stroke="#0000ff" stroke-width="12.8" stroke-linecap="round" d="M1857.7 758.8h0M1864.3 759h0M1868 763.9h0M1867 759h0M1857 761.8h0M1856.7 758.7h0"/>
<path fill="#ffffff" stroke="#fff" stroke-width="5" stroke-linejoin="round" d="M1972 287L1949 312.5L1941.5 325L1921.5 340L1911.5 355L1911.5 362.5L1912.8 525.5L1912.8 525L1911.5 680L1914 687.5L1921.5 702.5L1931.5 712.5L1941.5 725L1946.5 735L1959 740L1964 745L1967 765L1972 766.2Z"/>
<path fill="none" stroke="#0000ff" stroke-width="12.8" stroke-linecap="round" d="M1905.4 362.5L1906.7 525.5M1906.7 525L1905.4 680M1958 745.9L1961 765.9M1963.1 289.3h0M1959.8 291.6h0M1931.3 325.7h0M1923.4 330h0M1908.9 350.2h0M1905.2 357.1h0M1908 683.9h0M1912.8 697.2h0M1924.8 715.2h0M1930.7 721.2h0M1941.5 737.3h0M1950.9 743.8h0M1956.5 744.2h0M1942.8 458.8h0M1942.8 543.8h0M1942.8 605h0"/>
<path fill="#ffffff" stroke="#fff" stroke-width="5" stroke-linejoin="round" d="M1972 836.2L1966.5 842.5L1956.5 857.5L1949 870L1934 882.5L1941.5 886.2L1949 881.2L1972 880Z"/>
<path fill="none" stroke="#0000ff" stroke-width="12.8" stroke-linecap="round" d="M1965.7 836.1h0M1961.4 839.5h0M1947.4 862.6h0M1938.3 871.9h0M1932.3 886.9h0M1946.4 888.6h0M1954.9 887.9h0M1970.8 885.8h0M1978.1 880h0"/>
<path fill="#ffffff" stroke="#fff" stroke-width="5" stroke-linejoin="round" d="M1956.5 972.5L1972 970L1972 982.5L1959 980Z"/>
<path fill="none" stroke="#0000ff" stroke-width="12.8" stroke-linecap="round" d="M1963.7 987.2h0M1951.8 980.1h0"/>
<path fill="#ffffff" stroke="#fff" stroke-width="0" stroke-linejoin="round" d="M1040 422.5L1047.5 418.8L1057.5 423.8L1057.5 430L1040 430Z"/>
<path fill="none" stroke="#0000ff" stroke-width="12.8" stroke-linecap="round" d="M1045.5 414.9h0M1056.4 419h0M1061.2 424.8h0M1054.4 435.1h0M1044.3 433.4h0M1036.6 422.8h0"/>
<path fill="#ffffff" stroke="#fff" stroke-width="0" stroke-linejoin="round" d="M1092.5 420L1100 422.5L1092.5 430L1087.5 427.5Z"/>
<path fill="none" stroke="#0000ff" stroke-width="12.8" stroke-linecap="round" d="M1100.2 417.1h0M1100.7 429.1h0M1086.2 433.1h0M1088.7 418h0"/>
<path fill="#ffffff" stroke="#fff" stroke-width="0" stroke-linejoin="round" d="M1077.5 432.5L1087.5 436.2L1080 437.5Z"/>
<path fill="none" stroke="#0000ff" stroke-width="12.8" stroke-linecap="round" d="M1081.9 428.4h0M1083.8 440.8h0M1074.7 437.8h0"/>
<path fill="#ffffff" stroke="#fff" stroke-width="0" stroke-linejoin="round" d="M1082.5 447.5L1090 450L1085 452.5Z"/>
<path fill="none" stroke="#0000ff" stroke-width="12.8" stroke-linecap="round" d="M1086.8 443.9h0M1091 455.5h0M1081.1 453.9h0"/>
<path fill="#ffffff" stroke="#fff" stroke-width="0" stroke-linejoin="round" d="M1170 385L1177.5 383.8L1175 388.8L1168.8 388.8Z"/>
<path fill="none" stroke="#0000ff" stroke-width="12.8" stroke-linecap="round" d="M1170.8 379.8h0M1179.2 388.8h0M1174.1 392.9h0M1164.5 387.3h0"/>
<path fill="#ffffff" stroke="#fff" stroke-width="0" stroke-linejoin="round" d="M1181.2 432.5L1188.8 431.2L1187.5 436.2L1181.2 437Z"/>
<path fill="none" stroke="#0000ff" stroke-width="12.8" stroke-linecap="round" d="M1182.9 427.6h0M1193.7 433.6h0M1183.2 440.4h0M1175.7 435.1h0"/>
<path fill="#ffffff" stroke="#fff" stroke-width="0" stroke-linejoin="round" d="M1145 487.5L1157.5 485L1166.2 490L1165 500L1155 498.8L1146.2 495Z"/>
<path fill="none" stroke="#0000ff" stroke-width="12.8" stroke-linecap="round" d="M1172.3 490.8L1171.1 500.8M1149.1 481.6h0M1162.3 482.1h0M1161.3 503.4h0M1144.9 498.5h0M1141 493h0"/>
<path fill="#ffffff" stroke="#fff" stroke-width="0" stroke-linejoin="round" d="M1168.8 466.2L1177.5 470L1185 477.5L1180 487.5L1172.5 480L1167.5 472.5Z"/>
<path fill="none" stroke="#0000ff" stroke-width="12.8" stroke-linecap="round" d="M1176.3 463.6h0M1185.4 471.5h0M1189.1 481h0M1173.2 487.5h0M1167.3 479.3h0M1163.8 468h0"/>
<path fill="#ffffff" stroke="#fff" stroke-width="0" stroke-linejoin="round" d="M1142.5 466.2L1150 466.2L1148.8 471.2L1142.5 471.2Z"/>
<path fill="none" stroke="#0000ff" stroke-width="12.8" stroke-linecap="round" d="M1147.2 461.9h0M1154.5 470.5h0M1145.8 476.8h0M1137.5 469.7h0"/>
<path fill="#ffffff" stroke="#fff" stroke-width="0" stroke-linejoin="round" d="M1315 372.5L1325 370L1325 387.5L1317.5 385Z"/>
<path fill="none" stroke="#0000ff" stroke-width="12.8" stroke-linecap="round" d="M1331.1 370L1331.1 387.5M1311.5 386.2L1309 373.7M1317.7 366.3h0M1316.2 389.3h0"/>
<path fill="#ffffff" stroke="#fff" stroke-width="0" stroke-linejoin="round" d="M1305 395L1312.5 395L1312.5 401.2L1305 401.2Z"/>
<path fill="none" stroke="#0000ff" stroke-width="12.8" stroke-linecap="round" d="M1311.3 390.2h0M1317.7 400.2h0M1305 404.8h0M1301 396.8h0"/>
<path fill="#ffffff" stroke="#fff" stroke-width="0" stroke-linejoin="round" d="M1305 415L1312.5 415L1312.5 421.2L1305 421.2Z"/>
<path fill="none" stroke="#0000ff" stroke-width="12.8" stroke-linecap="round" d="M1308.4 410.4h0M1316.5 416.2h0M1311.9 425.9h0M1301.1 418.2h0"/>
<path fill="#ffffff" stroke="#fff" stroke-width="0" stroke-linejoin="round" d="M1300 305L1310 302.5L1307.5 310L1300 310Z"/>
<path fill="none" stroke="#0000ff" stroke-width="12.8" stroke-linecap="round" d="M1307.3 297.9h0M1312.6 310.9h0M1304.8 313.6h0M1294.7 308.3h0"/>
<path fill="#ffffff" stroke="#fff" stroke-width="0" stroke-linejoin="round" d="M1372.5 327.5L1385 325L1395 330L1395 345L1382.5 350L1372.5 347.5Z"/>
<path fill="none" stroke="#0000ff" stroke-width="12.8" stroke-linecap="round" d="M1401.1 330L1401.1 345M1366.4 347.5L1366.4 327.5M1373.2 323.5h0M1395.6 325h0M1396.2 350.5h0M1374.9 353.6h0"/>
<path fill="#ffffff" stroke="#fff" stroke-width="0" stroke-linejoin="round" d="M1372.5 367.5L1387.5 367.5L1387.5 377.5L1372.5 377.5Z"/>
<path fill="none" stroke="#0000ff" stroke-width="12.8" stroke-linecap="round" d="M1393.6 367.5L1393.6 377.5M1366.4 377.5L1366.4 367.5M1374 362.6h0M1380.1 363.4h0M1382.8 381.5h0M1374.8 381.3h0"/>
<path fill="#ffffff" stroke="#fff" stroke-width="0" stroke-linejoin="round" d="M1395 385L1410 382.5L1435 385L1435 400L1420 398.8L1410 402.5L1395 400Z"/>
<path fill="none" stroke="#0000ff" stroke-width="12.8" stroke-linecap="round" d="M1441.1 385L1441.1 400M1388.9 400L1388.9 385M1399.5 379.8h0M1402.5 378.2h0M1413.4 379h0M1424.6 378.9h0M1429.7 380.1h0M1429.9 403.9h0M1424.1 403.5h0M1412 406.2h0M1407.5 406.8h0M1395.3 404.1h0"/>
<path fill="#ffffff" stroke="#fff" stroke-width="0" stroke-linejoin="round" d="M1395 410L1407.5 407.5L1430 417.5L1430 427.5L1410 425L1395 417.5Z"/>
<path fill="none" stroke="#0000ff" stroke-width="12.8" stroke-linecap="round" d="M1436.1 417.5L1436.1 427.5M1412.5 404.2h0M1419.8 409.1h0M1426.4 411.1h0M1426.5 432h0M1417 430.2h0M1401.5 425.2h0M1397.6 424.6h0M1390.4 413.1h0"/>
<path fill="#ffffff" stroke="#fff" stroke-width="0" stroke-linejoin="round" d="M1372.5 435L1387.5 440L1387.5 445L1372.5 445Z"/>
<path fill="none" stroke="#0000ff" stroke-width="12.8" stroke-linecap="round" d="M1366.4 445L1366.4 435M1380.4 433.8h0M1384.4 433.7h0M1392.9 441.7h0M1387.3 449.8h0M1377.3 449.4h0"/>
<path fill="#ffffff" stroke="#fff" stroke-width="0" stroke-linejoin="round" d="M1422.5 450L1432.5 450L1432.5 465L1422.5 465Z"/>
<path fill="none" stroke="#0000ff" stroke-width="12.8" stroke-linecap="round" d="M1438.6 450L1438.6 465M1416.4 465L1416.4 450M1429.2 445.3h0M1422.7 470.6h0"/>
<path fill="#ffffff" stroke="#fff" stroke-width="0" stroke-linejoin="round" d="M1410 477.5L1450 477.5L1462.5 485L1465 492.5L1435 497.5L1410 500Z"/>
<path fill="none" stroke="#0000ff" stroke-width="12.8" stroke-linecap="round" d="M1403.9 500L1403.9 477.5M1416.6 472.7h0M1426 474h0M1429.2 472.7h0M1441.9 473.6h0M1443.1 473.2h0M1452 500.2h0M1450.5 499.1h0M1439.1 500.5h0M1432.9 502.2h0M1422.3 502.5h0M1414.5 503.6h0"/>
<path fill="#ffffff" stroke="#fff" stroke-width="0" stroke-linejoin="round" d="M1395 505L1410 505L1410 512.5L1395 512.5Z"/>
<path fill="none" stroke="#0000ff" stroke-width="12.8" stroke-linecap="round" d="M1396.9 500.7h0M1404.1 500.6h0M1415.3 508.4h0M1403.6 516.2h0M1398.6 516.8h0M1389.5 506h0"/>
<path fill="#ffffff" stroke="#fff" stroke-width="0" stroke-linejoin="round" d="M1455 505L1470 505L1470 515L1455 515Z"/>
<path fill="none" stroke="#0000ff" stroke-width="12.8" stroke-linecap="round" d="M1476.1 505L1476.1 515M1448.9 515L1448.9 505M1455.1 501.3h0M1466 518.5h0M1460.2 520.5h0"/>
<path fill="#ffffff" stroke="#fff" stroke-width="0" stroke-linejoin="round" d="M1322.5 382.5L1326.2 382.5L1326.2 390L1322.5 390Z"/>
<path fill="none" stroke="#0000ff" stroke-width="12.8" stroke-linecap="round" d="M1325.7 379h0M1330.2 383.1h0M1322.8 394.1h0M1317.1 385.1h0"/>
<path fill="#ffffff" stroke="#fff" stroke-width="0" stroke-linejoin="round" d="M965 535L978.8 532.5L978.8 545L970 547.5L966.2 557.5L960 570L956.2 566.2L963.8 550Z"/>
<path fill="none" stroke="#0000ff" stroke-width="12.8" stroke-linecap="round" d="M984.9 532.5L984.9 545M957.7 549.5L958.9 534.5M972 529.2h0M976.4 549.9h0M973 551.6h0M967 565.3h0M955.8 570.8h0M952.3 563.8h0M958 553.2h0"/>
<path fill="#ffffff" stroke="#fff" stroke-width="0" stroke-linejoin="round" d="M997.5 592.5L1012.5 590L1020 595L1015 607.5L1007.5 602.5L1000 597.5Z"/>
<path fill="none" stroke="#0000ff" stroke-width="12.8" stroke-linecap="round" d="M999.6 588h0M1005.9 586h0M1014.9 586.5h0M1024.3 596.8h0M1009.6 609.6h0M1002.6 604.9h0M995.2 597.9h0"/>
<path fill="#ffffff" stroke="#fff" stroke-width="0" stroke-linejoin="round" d="M1010 617.5L1016.2 617.5L1016.2 623.8L1010 623.8Z"/>
<path fill="none" stroke="#0000ff" stroke-width="12.8" stroke-linecap="round" d="M1014.7 614h0M1020.2 619.1h0M1013.6 629h0M1005.1 622h0"/>
<path fill="#ffffff" stroke="#fff" stroke-width="0" stroke-linejoin="round" d="M1013.8 806.2L1022.5 806.2L1022.5 816.2L1013.8 816.2Z"/>
<path fill="none" stroke="#0000ff" stroke-width="12.8" stroke-linecap="round" d="M1028.6 806.2L1028.6 816.2M1007.6 816.2L1007.6 806.2M1022.4 801h0M1019.7 821.5h0"/>
<path fill="#ffffff" stroke="#fff" stroke-width="0" stroke-linejoin="round" d="M1082.5 722.5L1092.5 712.5L1100 720L1095 732.5L1090 750L1082.5 747.5L1081.2 735Z"/>
<path fill="none" stroke="#0000ff" stroke-width="12.8" stroke-linecap="round" d="M1076.4 748.1L1075.2 735.6M1075.2 734.4L1076.4 721.9M1083.2 716.8h0M1084.4 713.9h0M1102.9 716.1h0M1100 733.6h0M1099.8 733.9h0M1096.2 748.7h0M1087.8 754.7h0"/>
<path fill="#ffffff" stroke="#fff" stroke-width="0" stroke-linejoin="round" d="M1081.2 767.5L1088.8 767.5L1088.8 777.5L1082.5 775Z"/>
<path fill="none" stroke="#0000ff" stroke-width="12.8" stroke-linecap="round" d="M1094.8 767.5L1094.8 777.5M1086.9 763.3h0M1084.7 779.8h0M1078.1 770.1h0"/>
<path fill="#ffffff" stroke="#fff" stroke-width="0" stroke-linejoin="round" d="M1012.5 545L1022.5 550L1017.5 555Z"/>
<path fill="none" stroke="#0000ff" stroke-width="12.8" stroke-linecap="round" d="M1023 544.8h0M1024.5 553.2h0M1008.6 547.5h0"/>
<path fill="#ffffff" stroke="#fff" stroke-width="0" stroke-linejoin="round" d="M1100 687.5L1107.5 690L1105 697.5L1100 695Z"/>
<path fill="none" stroke="#0000ff" stroke-width="12.8" stroke-linecap="round" d="M1102.9 683.9h0M1108.9 697.5h0M1101.1 699.4h0M1095.1 692.2h0"/>
<path fill="#ffffff" stroke="#fff" stroke-width="0" stroke-linejoin="round" d="M1150 555L1158.8 555L1158.8 561.2L1150 561.2Z"/>
<path fill="none" stroke="#0000ff" stroke-width="12.8" stroke-linecap="round" d="M1154.3 550.1h0M1162.4 559.9h0M1157.3 565.9h0M1146.2 559.1h0"/>
<path fill="#ffffff" stroke="#fff" stroke-width="0" stroke-linejoin="round" d="M940 556.2L946.2 557.5L945 562.5L940 561.2Z"/>
<path fill="none" stroke="#0000ff" stroke-width="12.8" stroke-linecap="round" d="M944.6 552.5h0M950.6 561.6h0M941 566.1h0M935.1 559.6h0"/>
<path fill="#ffffff" stroke="#fff" stroke-width="0" stroke-linejoin="round" d="M995 547.5L1003.8 552.5L1002.5 557.5L996.2 553.8Z"/>
<path fill="none" stroke="#0000ff" stroke-width="12.8" stroke-linecap="round" d="M999.8 544.5h0M1006.9 554.6h0M997.6 560.4h0M990.9 550.8h0"/>
<path fill="#ffffff" stroke="#fff" stroke-width="0" stroke-linejoin="round" d="M1015 576.2L1021.2 576.2L1021.2 581.2L1015 581.2Z"/>
<path fill="none" stroke="#0000ff" stroke-width="12.8" stroke-linecap="round" d="M1020.7 571.8h0M1026.3 577.4h0M1019.3 586.5h0M1010.4 577.8h0"/>
<path fill="#ffffff" stroke="#fff" stroke-width="0" stroke-linejoin="round" d="M1010 632.5L1015 632.5L1015 637.5L1010 637.5Z"/>
<path fill="none" stroke="#0000ff" stroke-width="12.8" stroke-linecap="round" d="M1011.7 628.8h0M1020.2 636.3h0M1011.1 641.4h0M1005.3 634.8h0"/>
<path fill="#ffffff" stroke="#fff" stroke-width="0" stroke-linejoin="round" d="M985 702.5L991.2 701.2L990 706.2L985 707.5Z"/>
<path fill="none" stroke="#0000ff" stroke-width="12.8" stroke-linecap="round" d="M988.9 697h0M994.9 707.1h0M986.5 712.3h0M980 703.2h0"/>
<path fill="#ffffff" stroke="#fff" stroke-width="0" stroke-linejoin="round" d="M1010 705L1016.2 705L1016.2 710L1010 710Z"/>
<path fill="none" stroke="#0000ff" stroke-width="12.8" stroke-linecap="round" d="M1011.6 701.6h0M1020.3 706.3h0M1015.4 714.5h0M1006 708.6h0"/>
<path fill="#ffffff" stroke="#fff" stroke-width="0" stroke-linejoin="round" d="M1090 655L1095 655L1095 663.8L1090 663.8Z"/>
<path fill="none" stroke="#0000ff" stroke-width="12.8" stroke-linecap="round" d="M1094.4 651.2h0M1099.7 662.5h0M1091.3 668.3h0M1084.9 655.7h0"/>
<path fill="#ffffff" stroke="#fff" stroke-width="0" stroke-linejoin="round" d="M1105 760L1110 760L1110 766.2L1105 766.2Z"/>
<path fill="none" stroke="#0000ff" stroke-width="12.8" stroke-linecap="round" d="M1105.3 754.5h0M1113.9 764.9h0M1108.1 771.3h0M1100.4 763.1h0"/>
<path fill="#ffffff" stroke="#fff" stroke-width="0" stroke-linejoin="round" d="M1050 788.8L1057.5 790L1058.8 795L1051.2 793.8Z"/>
<path fill="none" stroke="#0000ff" stroke-width="12.8" stroke-linecap="round" d="M1052.6 783.6h0M1063.4 793.5h0M1051.4 797.4h0M1045.7 794.5h0"/>
<path fill="#ffffff" stroke="#fff" stroke-width="0" stroke-linejoin="round" d="M1178.8 546.2L1183.8 546.2L1183.8 551.2L1178.8 551.2Z"/>
<path fill="none" stroke="#0000ff" stroke-width="12.8" stroke-linecap="round" d="M1183.1 542.7h0M1187.2 546.6h0M1178.8 556.2h0M1174.2 547.3h0"/>
<path fill="#ffffff" stroke="#fff" stroke-width="0" stroke-linejoin="round" d="M1322.5 677.5L1337.5 677.5L1337.5 685L1322.5 685Z"/>
<path fill="none" stroke="#0000ff" stroke-width="12.8" stroke-linecap="round" d="M1326.5 673.7h0M1332.7 673h0M1341.8 682.8h0M1336.9 689.5h0M1322.7 689.6h0M1318.4 682.7h0"/>
<path fill="#ffffff" stroke="#fff" stroke-width="0" stroke-linejoin="round" d="M1322.5 692.5L1337.5 692.5L1337.5 700L1322.5 700Z"/>
<path fill="none" stroke="#0000ff" stroke-width="12.8" stroke-linecap="round" d="M1336.9 687.2h0M1342 692.7h0M1332.4 704.7h0M1323 703.6h0M1319 692.8h0"/>
<path fill="#ffffff" stroke="#fff" stroke-width="0" stroke-linejoin="round" d="M1317.5 705L1325 705L1325 712.5L1317.5 712.5Z"/>
<path fill="none" stroke="#0000ff" stroke-width="12.8" stroke-linecap="round" d="M1324 699.5h0M1330.2 705.2h0M1321.1 717.2h0M1314.1 706.4h0"/>
<path fill="#ffffff" stroke="#fff" stroke-width="0" stroke-linejoin="round" d="M1322.5 742.5L1337.5 742.5L1337.5 755L1322.5 755Z"/>
<path fill="none" stroke="#0000ff" stroke-width="12.8" stroke-linecap="round" d="M1343.6 742.5L1343.6 755M1316.4 755L1316.4 742.5M1328.5 737h0M1333.1 738.4h0M1337.4 760.1h0M1325.6 759.6h0"/>
<path fill="#ffffff" stroke="#fff" stroke-width="0" stroke-linejoin="round" d="M1300 725L1306.2 722.5L1306.2 740L1300 737.5Z"/>
<path fill="none" stroke="#0000ff" stroke-width="12.8" stroke-linecap="round" d="M1312.3 722.5L1312.3 740M1293.9 737.5L1293.9 725M1302.6 719.2h0M1299.3 741.3h0"/>
<path fill="#ffffff" stroke="#fff" stroke-width="0" stroke-linejoin="round" d="M1317.5 550L1325 552.5L1325 565L1317.5 565Z"/>
<path fill="none" stroke="#0000ff" stroke-width="12.8" stroke-linecap="round" d="M1331.1 552.5L1331.1 565M1311.4 565L1311.4 550M1320.8 546.4h0M1322.5 568.9h0"/>
<path fill="#ffffff" stroke="#fff" stroke-width="0" stroke-linejoin="round" d="M1305 770L1320 775L1325 785L1320 797.5L1310 790L1300 787.5Z"/>
<path fill="none" stroke="#0000ff" stroke-width="12.8" stroke-linecap="round" d="M1308.4 766.3h0M1320.3 771.1h0M1325.2 776.2h0M1326.4 795.3h0M1316.2 801h0M1306.8 793.6h0M1296.9 783.1h0M1300.9 768.9h0"/>
<path fill="#ffffff" stroke="#fff" stroke-width="0" stroke-linejoin="round" d="M1305 797.5L1315 802.5L1315 815L1305 812.5Z"/>
<path fill="none" stroke="#0000ff" stroke-width="12.8" stroke-linecap="round" d="M1321.1 802.5L1321.1 815M1298.9 812.5L1298.9 797.5M1306.1 817.1h0"/>
<path fill="#ffffff" stroke="#fff" stroke-width="0" stroke-linejoin="round" d="M1322.5 807.5L1337.5 807.5L1337.5 815L1322.5 815Z"/>
<path fill="none" stroke="#0000ff" stroke-width="12.8" stroke-linecap="round" d="M1326.9 802.5h0M1336.1 804.1h0M1341 810.4h0M1336.4 818.9h0M1322.8 820.4h0"/>
<path fill="#ffffff" stroke="#fff" stroke-width="0" stroke-linejoin="round" d="M1305 825L1315 830L1320 845L1310 840Z"/>
<path fill="none" stroke="#0000ff" stroke-width="12.8" stroke-linecap="round" d="M1316.2 826.3h0M1321.8 833.4h0M1324 843.2h0M1317 848h0M1306.2 840.7h0M1303.5 833.4h0"/>
<path fill="#ffffff" stroke="#fff" stroke-width="0" stroke-linejoin="round" d="M1325 845L1337.5 847.5L1337.5 855L1325 855Z"/>
<path fill="none" stroke="#0000ff" stroke-width="12.8" stroke-linecap="round" d="M1318.9 855L1318.9 845M1327.4 840.8h0"/>
<path fill="#ffffff" stroke="#fff" stroke-width="0" stroke-linejoin="round" d="M1322.5 865L1350 867.5L1350 877.5L1332.5 880L1322.5 875Z"/>
<path fill="none" stroke="#0000ff" stroke-width="12.8" stroke-linecap="round" d="M1316.4 875L1316.4 865M1323.6 861h0M1356.1 877.5h0M1343.8 884h0M1336.7 884.7h0M1328.1 883.9h0"/>
<path fill="#ffffff" stroke="#fff" stroke-width="0" stroke-linejoin="round" d="M1455 565L1462.5 565L1462.5 572.5L1455 572.5Z"/>
<path fill="none" stroke="#0000ff" stroke-width="12.8" stroke-linecap="round" d="M1455.2 559.9h0M1466.3 565.4h0M1457 576.4h0M1449.8 570.9h0"/>
<path fill="#ffffff" stroke="#fff" stroke-width="0" stroke-linejoin="round" d="M1373.8 532.5L1378.8 532.5L1378.8 540L1373.8 540Z"/>
<path fill="none" stroke="#0000ff" stroke-width="12.8" stroke-linecap="round" d="M1377 528.1h0M1382.8 532.6h0M1377.4 544.8h0M1369 536.5h0"/>
<path fill="#ffffff" stroke="#fff" stroke-width="0" stroke-linejoin="round" d="M1482.5 635L1492.5 630L1490 642.5L1483.8 647.5Z"/>
<path fill="none" stroke="#0000ff" stroke-width="12.8" stroke-linecap="round" d="M1498.5 631.2L1496 643.7M1476.8 639.8L1476.4 635.6M1483.7 628.4h0M1490.3 648.2h0"/>
<path fill="#ffffff" stroke="#fff" stroke-width="0" stroke-linejoin="round" d="M1485 667.5L1495 665L1495 675L1486.2 675Z"/>
<path fill="none" stroke="#0000ff" stroke-width="12.8" stroke-linecap="round" d="M1501.1 665L1501.1 675M1487 661.4h0M1486.8 680.3h0M1481.6 674.5h0"/>
<path fill="#ffffff" stroke="#fff" stroke-width="0" stroke-linejoin="round" d="M1514 305L1521.5 305L1521.5 312.5L1514 312.5Z"/>
<path fill="none" stroke="#0000ff" stroke-width="12.8" stroke-linecap="round" d="M1516.2 301.2h0M1526.2 306.8h0M1514.4 316.5h0M1509.8 307.3h0"/>
<path fill="#ffffff" stroke="#fff" stroke-width="0" stroke-linejoin="round" d="M1564 300L1570.2 300L1570.2 305L1564 305Z"/>
<path fill="none" stroke="#0000ff" stroke-width="12.8" stroke-linecap="round" d="M1567.1 294.6h0M1573.7 301.9h0M1568.6 309.7h0M1560.4 302.7h0"/>
<path fill="#ffffff" stroke="#fff" stroke-width="0" stroke-linejoin="round" d="M1599 290L1605.2 290L1605.2 296.2L1599 296.2Z"/>
<path fill="none" stroke="#0000ff" stroke-width="12.8" stroke-linecap="round" d="M1602 285.2h0M1609.6 291.8h0M1600.3 300.2h0M1595 291.3h0"/>
<path fill="#ffffff" stroke="#fff" stroke-width="0" stroke-linejoin="round" d="M1509 382.5L1516.5 380L1516.5 392.5L1509 392.5Z"/>
<path fill="none" stroke="#0000ff" stroke-width="12.8" stroke-linecap="round" d="M1522.6 380L1522.6 392.5M1502.9 392.5L1502.9 382.5M1511.4 377.1h0M1509.4 397h0"/>
<path fill="#ffffff" stroke="#fff" stroke-width="0" stroke-linejoin="round" d="M1514 425L1522.8 425L1522.8 432.5L1514 432.5Z"/>
<path fill="none" stroke="#0000ff" stroke-width="12.8" stroke-linecap="round" d="M1516.5 419.7h0M1526.6 427.6h0M1515.5 437.7h0M1509.1 425.6h0"/>
<path fill="#ffffff" stroke="#fff" stroke-width="0" stroke-linejoin="round" d="M1559 425L1566.5 422.5L1566.5 435L1559 436.2Z"/>
<path fill="none" stroke="#0000ff" stroke-width="12.8" stroke-linecap="round" d="M1572.6 422.5L1572.6 435M1552.9 436.2L1552.9 425M1562.7 418.3h0M1566 440.3h0"/>
<path fill="#ffffff" stroke="#fff" stroke-width="0" stroke-linejoin="round" d="M1552.8 397.5L1565.2 398.8L1565.2 403.8L1552.8 402.5Z"/>
<path fill="none" stroke="#0000ff" stroke-width="12.8" stroke-linecap="round" d="M1556.3 392.4h0M1569.4 401.3h0M1557.1 408.4h0M1549.2 399.3h0"/>
<path fill="#ffffff" stroke="#fff" stroke-width="0" stroke-linejoin="round" d="M1596.5 397.5L1602.8 397.5L1604 407.5L1597.8 407.5Z"/>
<path fill="none" stroke="#0000ff" stroke-width="12.8" stroke-linecap="round" d="M1608.8 396.7L1610.1 406.7M1591.7 408.3L1590.4 398.3M1597.2 391.9h0M1602.1 411.3h0"/>
<path fill="#ffffff" stroke="#fff" stroke-width="0" stroke-linejoin="round" d="M1565.2 373.8L1572.8 373.8L1572.8 378.8L1565.2 378.8Z"/>
<path fill="none" stroke="#0000ff" stroke-width="12.8" stroke-linecap="round" d="M1570.9 368.2h0M1577.7 374.4h0M1566.2 383.8h0M1560.6 374.4h0"/>
<path fill="#ffffff" stroke="#fff" stroke-width="0" stroke-linejoin="round" d="M1640.2 325L1651.5 327.5L1656.5 337.5L1640.2 340Z"/>
<path fill="none" stroke="#0000ff" stroke-width="12.8" stroke-linecap="round" d="M1648.4 322.2h0M1656.4 329.5h0M1650.6 342.4h0M1642.8 344.6h0"/>
<path fill="#ffffff" stroke="#fff" stroke-width="0" stroke-linejoin="round" d="M1659 298.8L1666.5 298.8L1666.5 306.2L1659 306.2Z"/>
<path fill="none" stroke="#0000ff" stroke-width="12.8" stroke-linecap="round" d="M1661.4 294.7h0M1671.4 303.6h0M1664 311.7h0M1653.5 304.1h0"/>
<path fill="#ffffff" stroke="#fff" stroke-width="0" stroke-linejoin="round" d="M1744 287.5L1751.5 285L1754 297.5L1746.5 300Z"/>
<path fill="none" stroke="#0000ff" stroke-width="12.8" stroke-linecap="round" d="M1757.5 283.8L1760 296.3M1740.5 301.2L1738 288.7M1749.6 280.3h0M1753.3 302.5h0"/>
<path fill="#ffffff" stroke="#fff" stroke-width="0" stroke-linejoin="round" d="M1736.5 305L1744 310L1751.5 315L1754 325L1754 337.5L1746.5 337.5L1744 327.5L1731.5 322.5L1739 315Z"/>
<path fill="none" stroke="#0000ff" stroke-width="12.8" stroke-linecap="round" d="M1760.1 325L1760.1 337.5M1739.7 300.8h0M1750.3 308.2h0M1756.5 315.9h0M1751.5 341.1h0M1741.2 335.1h0M1734.4 328.3h0M1730.1 317.6h0M1734.5 314.8h0"/>
<path fill="#ffffff" stroke="#fff" stroke-width="0" stroke-linejoin="round" d="M1720.2 330L1729 332.5L1726.5 340L1720.2 340Z"/>
<path fill="none" stroke="#0000ff" stroke-width="12.8" stroke-linecap="round" d="M1714.2 340L1714.2 330M1728.2 327.5h0M1731.8 341.2h0M1723.1 345.6h0"/>
<path fill="#ffffff" stroke="#fff" stroke-width="0" stroke-linejoin="round" d="M1761.5 332.5L1771.5 327.5L1779 325L1776.5 335L1764 338.8Z"/>
<path fill="none" stroke="#0000ff" stroke-width="12.8" stroke-linecap="round" d="M1761.1 327h0M1771.2 322.7h0M1782.1 333.4h0M1768.3 342.5h0M1758.8 337.5h0"/>
<path fill="#ffffff" stroke="#fff" stroke-width="0" stroke-linejoin="round" d="M1781.5 260L1789 260L1789 325L1781.5 320Z"/>
<path fill="none" stroke="#0000ff" stroke-width="12.8" stroke-linecap="round" d="M1795.1 260L1795.1 325M1775.4 320L1775.4 260M1785.1 254.5h0M1786.6 327.7h0"/>
<path fill="#ffffff" stroke="#fff" stroke-width="0" stroke-linejoin="round" d="M1781.5 355L1789 355L1789 375L1781.5 375Z"/>
<path fill="none" stroke="#0000ff" stroke-width="12.8" stroke-linecap="round" d="M1795.1 355L1795.1 375M1775.4 375L1775.4 355M1786.7 350.6h0M1785.8 379.7h0"/>
<path fill="#ffffff" stroke="#fff" stroke-width="0" stroke-linejoin="round" d="M1781.5 390L1789 387.5L1789 402.5L1782.8 402.5Z"/>
<path fill="none" stroke="#0000ff" stroke-width="12.8" stroke-linecap="round" d="M1795.1 387.5L1795.1 402.5M1776.7 403.1L1775.4 390.6M1783 384.4h0M1785.2 406h0"/>
<path fill="#ffffff" stroke="#fff" stroke-width="0" stroke-linejoin="round" d="M1804 310L1819 310L1819 322.5L1805.2 322.5Z"/>
<path fill="none" stroke="#0000ff" stroke-width="12.8" stroke-linecap="round" d="M1799.2 323.1L1797.9 310.6M1805 306.5h0M1811.6 306.4h0M1812.6 326.1h0"/>
<path fill="#ffffff" stroke="#fff" stroke-width="0" stroke-linejoin="round" d="M1806.5 247.5L1819 250L1819 255L1806.5 255Z"/>
<path fill="none" stroke="#0000ff" stroke-width="12.8" stroke-linecap="round" d="M1815.2 258.9h0M1802.2 251.2h0"/>
<path fill="#ffffff" stroke="#fff" stroke-width="0" stroke-linejoin="round" d="M1811.5 265L1819 265L1819 277.5L1812.8 275Z"/>
<path fill="none" stroke="#0000ff" stroke-width="12.8" stroke-linecap="round" d="M1806.7 275.8L1805.4 265.8M1818.2 261h0M1812.9 279.8h0"/>
<path fill="#ffffff" stroke="#fff" stroke-width="0" stroke-linejoin="round" d="M1745.2 455L1751.5 455L1757.8 462.5L1751.5 465Z"/>
<path fill="none" stroke="#0000ff" stroke-width="12.8" stroke-linecap="round" d="M1748 450.6h0M1758.7 456.9h0M1754.6 468.5h0M1742.3 458.5h0"/>
<path fill="#ffffff" stroke="#fff" stroke-width="0" stroke-linejoin="round" d="M1689 490L1696.5 490L1696.5 497.5L1689 497.5Z"/>
<path fill="none" stroke="#0000ff" stroke-width="12.8" stroke-linecap="round" d="M1695.7 484.5h0M1701.4 493h0M1694.3 502.5h0M1684.1 492.6h0"/>
<path fill="#ffffff" stroke="#fff" stroke-width="0" stroke-linejoin="round" d="M1781.5 460L1789 457.5L1791.5 475L1782.8 475Z"/>
<path fill="none" stroke="#0000ff" stroke-width="12.8" stroke-linecap="round" d="M1795 456.6L1797.5 474.1M1776.7 475.5L1775.4 460.5M1785.2 454.7h0M1786.8 480.6h0"/>
<path fill="#ffffff" stroke="#fff" stroke-width="0" stroke-linejoin="round" d="M1779 487.5L1794 492.5L1789 507.5L1781.5 505Z"/>
<path fill="none" stroke="#0000ff" stroke-width="12.8" stroke-linecap="round" d="M1775.5 505.9L1773 488.4M1785.4 486h0M1793.5 488.1h0M1797.5 495.5h0M1796.1 503.2h0M1783 511h0"/>
<path fill="#ffffff" stroke="#fff" stroke-width="0" stroke-linejoin="round" d="M1821.5 470L1831.5 470L1834 485L1859 487.5L1864 495L1874 515L1859 520L1851.5 507.5L1854 495L1834 490L1824 485Z"/>
<path fill="none" stroke="#0000ff" stroke-width="12.8" stroke-linecap="round" d="M1837.5 469L1840 484M1845.5 506.3L1848 493.8M1818 486L1815.5 471M1825.4 465.3h0M1840.8 480.6h0M1844.9 481.1h0M1855.8 481.6h0M1866.3 491.1h0M1870.7 499.5h0M1873.1 503.2h0M1877.6 510.1h0M1873.5 520.6h0M1866.9 522.4h0M1852.2 519.6h0M1848.1 509.9h0M1852.3 498.8h0M1835.8 495.8h0M1829.4 492.4h0"/>
<path fill="#ffffff" stroke="#fff" stroke-width="0" stroke-linejoin="round" d="M1851.5 437.5L1856.5 437.5L1856.5 445L1851.5 445Z"/>
<path fill="none" stroke="#0000ff" stroke-width="12.8" stroke-linecap="round" d="M1851.6 433.3h0M1860.6 438.6h0M1851.8 448.9h0M1847.9 444.1h0"/>
<path fill="#ffffff" stroke="#fff" stroke-width="0" stroke-linejoin="round" d="M1851.5 452.5L1857.8 452.5L1856.5 457.5L1851.5 457.5Z"/>
<path fill="none" stroke="#0000ff" stroke-width="12.8" stroke-linecap="round" d="M1856.1 448.5h0M1860.2 456.8h0M1852.2 461.4h0M1847.4 454h0"/>
<path fill="#ffffff" stroke="#fff" stroke-width="0" stroke-linejoin="round" d="M1874 235L1881.5 235L1881.5 262.5L1874 262.5Z"/>
<path fill="none" stroke="#0000ff" stroke-width="12.8" stroke-linecap="round" d="M1887.6 235L1887.6 262.5M1867.9 262.5L1867.9 235M1875.6 230.6h0M1878.2 267.7h0"/>
<path fill="#ffffff" stroke="#fff" stroke-width="0" stroke-linejoin="round" d="M1874 275L1881.5 275L1881.5 295L1874 292.5Z"/>
<path fill="none" stroke="#0000ff" stroke-width="12.8" stroke-linecap="round" d="M1887.6 275L1887.6 295M1867.9 292.5L1867.9 275M1878.6 269.4h0M1878.3 299h0"/>
<path fill="#ffffff" stroke="#fff" stroke-width="0" stroke-linejoin="round" d="M1875.2 315L1881.5 315L1881.5 325L1875.2 325Z"/>
<path fill="none" stroke="#0000ff" stroke-width="12.8" stroke-linecap="round" d="M1887.6 315L1887.6 325M1869.2 325L1869.2 315M1881.3 310.8h0M1878.8 330.2h0"/>
<path fill="#ffffff" stroke="#fff" stroke-width="0" stroke-linejoin="round" d="M1899 362.5L1909 362.5L1909 368.8L1899 368.8Z"/>
<path fill="none" stroke="#0000ff" stroke-width="12.8" stroke-linecap="round" d="M1905.8 358.7h0M1900.3 372.6h0M1894 367.3h0"/>
<path fill="#ffffff" stroke="#fff" stroke-width="0" stroke-linejoin="round" d="M1596.5 557.5L1609 555L1606.5 562.5L1599 567.5Z"/>
<path fill="none" stroke="#0000ff" stroke-width="12.8" stroke-linecap="round" d="M1604.5 552.3h0M1612.1 560.6h0M1608.5 566.2h0M1592.4 562.8h0"/>
<path fill="#ffffff" stroke="#fff" stroke-width="0" stroke-linejoin="round" d="M1566.5 585L1579 582.5L1584 595L1594 597.5L1602.8 600L1602.8 615L1586.5 616.2L1579 620L1564 621.2L1571.5 610L1581.5 607.5L1576.5 592.5Z"/>
<path fill="none" stroke="#0000ff" stroke-width="12.8" stroke-linecap="round" d="M1608.8 600L1608.8 615M1567.1 581.4h0M1583.6 583.2h0M1592 592.8h0M1597.8 593.8h0M1600.1 619.2h0M1592.8 619.2h0M1583.8 622h0M1573 624.9h0M1569.6 626.2h0M1564.6 611.6h0M1575.5 604.6h0M1576 605.1h0M1572.8 597.6h0M1572.2 593.6h0"/>
<path fill="#ffffff" stroke="#fff" stroke-width="0" stroke-linejoin="round" d="M1504 610L1516.5 607.5L1517.8 615L1505.2 615Z"/>
<path fill="none" stroke="#0000ff" stroke-width="12.8" stroke-linecap="round" d="M1503.4 604.9h0M1520.6 609h0M1507.3 619.9h0M1500.1 612.3h0"/>
<path fill="#ffffff" stroke="#fff" stroke-width="0" stroke-linejoin="round" d="M1506.5 640L1516.5 635L1516.5 657.5L1506.5 655Z"/>
<path fill="none" stroke="#0000ff" stroke-width="12.8" stroke-linecap="round" d="M1522.6 635L1522.6 657.5M1500.4 655L1500.4 640M1509.6 632.5h0M1506.1 660.3h0"/>
<path fill="#ffffff" stroke="#fff" stroke-width="0" stroke-linejoin="round" d="M1591.5 640L1606.5 637.5L1606.5 645L1594 647.5Z"/>
<path fill="none" stroke="#0000ff" stroke-width="12.8" stroke-linecap="round" d="M1592.4 634.2h0M1602.2 634.1h0M1612.1 641.4h0M1594.8 650.8h0M1588.5 646.1h0"/>
<path fill="#ffffff" stroke="#fff" stroke-width="0" stroke-linejoin="round" d="M1559 652.5L1567.8 652.5L1567.8 658.8L1559 658.8Z"/>
<path fill="none" stroke="#0000ff" stroke-width="12.8" stroke-linecap="round" d="M1563.9 647h0M1572.5 657.3h0M1566.2 663.2h0M1555.1 654.5h0"/>
<path fill="#ffffff" stroke="#fff" stroke-width="0" stroke-linejoin="round" d="M1596.5 657.5L1604 655L1602.8 665L1596.5 665Z"/>
<path fill="none" stroke="#0000ff" stroke-width="12.8" stroke-linecap="round" d="M1610.1 655.8L1608.8 665.8M1599.3 652.2h0M1598.8 668.4h0M1592.6 660.1h0"/>
<path fill="#ffffff" stroke="#fff" stroke-width="0" stroke-linejoin="round" d="M1542.8 667.5L1552.8 672.5L1551.5 677.5L1544 675Z"/>
<path fill="none" stroke="#0000ff" stroke-width="12.8" stroke-linecap="round" d="M1552.2 667.6h0M1555.6 676.2h0M1547.9 681.8h0M1539.6 669.9h0"/>
<path fill="#ffffff" stroke="#fff" stroke-width="0" stroke-linejoin="round" d="M1559 677.5L1565.2 677.5L1566.5 690L1579 695L1579 700L1566.5 700L1566.5 715L1559 715L1559 700L1552.8 697.5L1559 690Z"/>
<path fill="none" stroke="#0000ff" stroke-width="12.8" stroke-linecap="round" d="M1571.3 676.9L1572.6 689.4M1572.6 700L1572.6 715M1552.9 715L1552.9 700M1552.9 690L1552.9 677.5M1564 673.8h0M1568.3 686.7h0M1583.1 699.8h0M1568.7 703.8h0M1561.9 720.5h0M1553.9 702.5h0M1550.5 692.4h0"/>
<path fill="#ffffff" stroke="#fff" stroke-width="0" stroke-linejoin="round" d="M1602.8 685L1609 685L1609 696.2L1602.8 696.2Z"/>
<path fill="none" stroke="#0000ff" stroke-width="12.8" stroke-linecap="round" d="M1615.1 685L1615.1 696.2M1596.7 696.2L1596.7 685M1605.8 679.5h0M1607.3 701.7h0"/>
<path fill="#ffffff" stroke="#fff" stroke-width="0" stroke-linejoin="round" d="M1516.5 692.5L1522.8 695L1521.5 705L1516.5 702.5Z"/>
<path fill="none" stroke="#0000ff" stroke-width="12.8" stroke-linecap="round" d="M1528.8 695.8L1527.6 705.8M1510.4 702.5L1510.4 692.5M1518.3 689.1h0M1517.7 709h0"/>
<path fill="#ffffff" stroke="#fff" stroke-width="0" stroke-linejoin="round" d="M1587.8 703.8L1602.8 703.8L1602.8 710L1587.8 711.2Z"/>
<path fill="none" stroke="#0000ff" stroke-width="12.8" stroke-linecap="round" d="M1595.1 698.9h0M1598.1 698.8h0M1607.2 704.1h0M1599.1 713.8h0M1588.2 715.4h0M1583 710.1h0"/>
<path fill="#ffffff" stroke="#fff" stroke-width="0" stroke-linejoin="round" d="M1539 717.5L1554 715L1554 725L1540.2 725Z"/>
<path fill="none" stroke="#0000ff" stroke-width="12.8" stroke-linecap="round" d="M1560.1 715L1560.1 725M1539.6 712.8h0M1551.5 710.7h0M1551.4 730h0M1535.7 719.1h0"/>
<path fill="#ffffff" stroke="#fff" stroke-width="0" stroke-linejoin="round" d="M1601.5 728.8L1609 728.8L1609 737.5L1601.5 737.5Z"/>
<path fill="none" stroke="#0000ff" stroke-width="12.8" stroke-linecap="round" d="M1605 723.5h0M1614.1 735.3h0M1608.6 742.7h0M1598 736.1h0"/>
<path fill="#ffffff" stroke="#fff" stroke-width="0" stroke-linejoin="round" d="M1507.8 742.5L1516.5 745L1529 750L1524 755L1514 762.5L1507.8 757.5Z"/>
<path fill="none" stroke="#0000ff" stroke-width="12.8" stroke-linecap="round" d="M1501.7 757.5L1501.7 742.5M1516.6 740.6h0M1519 740.3h0M1526.9 757h0M1523.4 760.2h0M1509.7 765.3h0"/>
<path fill="#ffffff" stroke="#fff" stroke-width="0" stroke-linejoin="round" d="M1516.5 777.5L1529 777.5L1529 785L1516.5 785Z"/>
<path fill="none" stroke="#0000ff" stroke-width="12.8" stroke-linecap="round" d="M1518.6 772.9h0M1533.6 778.6h0M1524.1 789.4h0M1512.7 780.4h0"/>
<path fill="#ffffff" stroke="#fff" stroke-width="0" stroke-linejoin="round" d="M1565.2 820L1579 820L1579 827.5L1565.2 827.5Z"/>
<path fill="none" stroke="#0000ff" stroke-width="12.8" stroke-linecap="round" d="M1565.4 814.6h0M1583.6 822.9h0M1577.2 831.7h0M1560.3 824.7h0"/>
<path fill="#ffffff" stroke="#fff" stroke-width="0" stroke-linejoin="round" d="M1614 720L1634 710L1639 717.5L1619 725Z"/>
<path fill="none" stroke="#0000ff" stroke-width="12.8" stroke-linecap="round" d="M1612.5 716.3h0M1642.5 713.6h0M1634.2 724.7h0M1631.6 725.3h0M1621.3 729.1h0M1610.3 723.7h0"/>
<path fill="#ffffff" stroke="#fff" stroke-width="0" stroke-linejoin="round" d="M1560.2 536.2L1566.5 535L1566.5 541.2L1560.2 542.5Z"/>
<path fill="none" stroke="#0000ff" stroke-width="12.8" stroke-linecap="round" d="M1565.5 531.4h0M1570.2 538.5h0M1567 546h0M1555.5 540.5h0"/>
<path fill="#ffffff" stroke="#fff" stroke-width="0" stroke-linejoin="round" d="M1561.5 851.2L1566.5 851.2L1566.5 856.2L1561.5 856.2Z"/>
<path fill="none" stroke="#0000ff" stroke-width="12.8" stroke-linecap="round" d="M1563.7 846h0M1570.7 852.6h0M1565.6 861.5h0M1557.4 853.5h0"/>
<path fill="#ffffff" stroke="#fff" stroke-width="0" stroke-linejoin="round" d="M1499 732.5L1504 732.5L1504 741.2L1499 741.2Z"/>
<path fill="none" stroke="#0000ff" stroke-width="12.8" stroke-linecap="round" d="M1499 729.1h0M1509.6 734.9h0M1503.7 746.2h0M1494 737h0"/>
<path fill="#ffffff" stroke="#fff" stroke-width="0" stroke-linejoin="round" d="M1719 530L1731.5 535L1724 542.5L1719 540Z"/>
<path fill="none" stroke="#0000ff" stroke-width="12.8" stroke-linecap="round" d="M1712.9 540L1712.9 530M1732.3 530.7h0M1731.4 540.9h0M1719.5 545.7h0"/>
<path fill="#ffffff" stroke="#fff" stroke-width="0" stroke-linejoin="round" d="M1746.5 530L1759 527.5L1756.5 542.5L1749 542.5L1745.2 537.5Z"/>
<path fill="none" stroke="#0000ff" stroke-width="12.8" stroke-linecap="round" d="M1765 528.5L1762.5 543.5M1755.2 522.6h0M1751.9 546.3h0M1744.4 542.7h0M1741.1 532.4h0"/>
<path fill="#ffffff" stroke="#fff" stroke-width="0" stroke-linejoin="round" d="M1776.5 525L1789 525L1784 537.5L1799 540L1801.5 545L1789 547.5L1789 572.5L1799 575L1794 582.5L1782.8 582.5L1781.5 550L1776.5 537.5Z"/>
<path fill="none" stroke="#0000ff" stroke-width="12.8" stroke-linecap="round" d="M1795.1 547.5L1795.1 572.5M1776.7 582.7L1775.4 550.2M1770.4 537.5L1770.4 525M1777.2 521.4h0M1791.5 532.7h0M1789 533h0M1793.1 534.1h0M1802.7 539.6h0M1801.6 549.6h0M1796.3 569h0M1802.5 578.6h0M1784.1 587.1h0M1772.6 541h0"/>
<path fill="#ffffff" stroke="#fff" stroke-width="0" stroke-linejoin="round" d="M1821.5 527.5L1834 525L1839 537.5L1854 535L1856.5 540L1846.5 545L1834 545L1831.5 550L1821.5 550L1819 540Z"/>
<path fill="none" stroke="#0000ff" stroke-width="12.8" stroke-linecap="round" d="M1813 538.8L1815.5 526.3M1824.1 521.8h0M1839.5 529.6h0M1840.2 532.5h0M1849.7 532.1h0M1859.9 535.8h0M1850.4 547.6h0M1840.2 550.2h0M1835.7 551.6h0M1826.7 554.2h0M1817.2 550.6h0"/>
<path fill="#ffffff" stroke="#fff" stroke-width="0" stroke-linejoin="round" d="M1731.5 570L1749 565L1757.8 570L1751.5 577.5L1759 590L1751.5 592.5L1746.5 582.5L1734 585L1732.8 577.5Z"/>
<path fill="none" stroke="#0000ff" stroke-width="12.8" stroke-linecap="round" d="M1736.4 564.7h0M1742.7 561.9h0M1754.9 563.7h0M1755.2 579.1h0M1758.6 580.7h0M1760.4 581.8h0M1760.1 594.8h0M1745 590.2h0M1735.6 588.9h0M1729.4 579.7h0M1727.6 573.3h0"/>
<path fill="#ffffff" stroke="#fff" stroke-width="0" stroke-linejoin="round" d="M1714 572.5L1721.5 572.5L1721.5 585L1714 585Z"/>
<path fill="none" stroke="#0000ff" stroke-width="12.8" stroke-linecap="round" d="M1727.6 572.5L1727.6 585M1707.9 585L1707.9 572.5M1719.9 568.6h0M1717 589.4h0"/>
<path fill="#ffffff" stroke="#fff" stroke-width="0" stroke-linejoin="round" d="M1764 557.5L1771.5 557.5L1771.5 567.5L1764 567.5Z"/>
<path fill="none" stroke="#0000ff" stroke-width="12.8" stroke-linecap="round" d="M1757.9 567.5L1757.9 557.5M1770.9 553.6h0M1777.6 567.5h0M1770.9 572.9h0"/>
<path fill="#ffffff" stroke="#fff" stroke-width="0" stroke-linejoin="round" d="M1809 572.5L1819 575L1819 582.5L1809 580Z"/>
<path fill="none" stroke="#0000ff" stroke-width="12.8" stroke-linecap="round" d="M1816.2 570.1h0M1824.1 581.8h0M1813.1 584.8h0M1803.7 572.9h0"/>
<path fill="#ffffff" stroke="#fff" stroke-width="0" stroke-linejoin="round" d="M1821.5 562.5L1831.5 562.5L1831.5 570L1821.5 570Z"/>
<path fill="none" stroke="#0000ff" stroke-width="12.8" stroke-linecap="round" d="M1827 558.4h0M1836.6 568.1h0M1827.3 574.9h0M1817.8 566.5h0"/>
<path fill="#ffffff" stroke="#fff" stroke-width="0" stroke-linejoin="round" d="M1696.5 592.5L1702.8 595L1699 607.5L1691.5 615L1690.2 610L1695.2 602.5Z"/>
<path fill="none" stroke="#0000ff" stroke-width="12.8" stroke-linecap="round" d="M1689.2 601.7L1690.4 591.7M1699.5 588.1h0M1704.4 604.3h0M1701.6 612.7h0M1686.5 615.6h0M1689.1 602.6h0"/>
<path fill="#ffffff" stroke="#fff" stroke-width="0" stroke-linejoin="round" d="M1714 595L1721.5 595L1726.5 605L1721.5 607.5L1715.2 600Z"/>
<path fill="none" stroke="#0000ff" stroke-width="12.8" stroke-linecap="round" d="M1720.6 589.5h0M1728.5 599.6h0M1726.8 610.2h0M1715.3 608.2h0M1709.3 597.9h0"/>
<path fill="#ffffff" stroke="#fff" stroke-width="0" stroke-linejoin="round" d="M1781.5 595L1789 592.5L1797.8 597.5L1796.5 605L1789 610L1789 622.5L1791.5 627.5L1784 630L1769 635L1764 630L1766.5 625L1781.5 621.2L1784 607.5L1780.2 600Z"/>
<path fill="none" stroke="#0000ff" stroke-width="12.8" stroke-linecap="round" d="M1795.1 610L1795.1 622.5M1775.5 620.2L1778 606.4M1785.1 589.6h0M1792.4 588.5h0M1801.5 600.5h0M1798.1 609.7h0M1792.8 621.1h0M1791.5 633.1h0M1781.7 634.8h0M1774.6 637.4h0M1765.5 638.2h0M1761.4 626.7h0M1765.8 619.9h0M1773 618.8h0M1779.7 606.7h0M1775.3 596.9h0"/>
<path fill="#ffffff" stroke="#fff" stroke-width="0" stroke-linejoin="round" d="M1766.5 610L1772.8 610L1772.8 615L1766.5 615Z"/>
<path fill="none" stroke="#0000ff" stroke-width="12.8" stroke-linecap="round" d="M1772.3 604.7h0M1777.9 610.6h0M1769.3 618.6h0M1762.8 612.9h0"/>
<path fill="#ffffff" stroke="#fff" stroke-width="0" stroke-linejoin="round" d="M1745.2 600L1751.5 600L1752.8 642.5L1759 647.5L1754 652.5L1747.8 645L1744 625Z"/>
<path fill="none" stroke="#0000ff" stroke-width="12.8" stroke-linecap="round" d="M1757.6 599.8L1758.8 642.3M1741.8 646.1L1738 626.1M1737.9 624.7L1739.2 599.7M1748.9 594.6h0M1760.5 642.5h0M1758.6 654.8h0M1747.4 651.3h0"/>
<path fill="#ffffff" stroke="#fff" stroke-width="0" stroke-linejoin="round" d="M1714 620L1724 617.5L1729 625L1727.8 640L1721.5 643.8L1715.2 637.5L1712.8 627.5Z"/>
<path fill="none" stroke="#0000ff" stroke-width="12.8" stroke-linecap="round" d="M1735.1 625.5L1733.8 640.5M1719.9 613.4h0M1732.3 620.5h0M1728.6 643.5h0M1712.6 640.6h0M1709.6 634h0M1709.6 621h0"/>
<path fill="#ffffff" stroke="#fff" stroke-width="0" stroke-linejoin="round" d="M1664 640L1682.8 635L1684 640L1666.5 645Z"/>
<path fill="none" stroke="#0000ff" stroke-width="12.8" stroke-linecap="round" d="M1670.7 634.7h0M1672.9 632.1h0M1688 635.1h0M1679.3 645.8h0M1674.7 647.3h0M1661.6 643.2h0"/>
<path fill="#ffffff" stroke="#fff" stroke-width="0" stroke-linejoin="round" d="M1659 647.5L1664 652.5L1674 655L1684 660L1689 665L1679 667.5L1674 672.5L1669 665L1661.5 657.5Z"/>
<path fill="none" stroke="#0000ff" stroke-width="12.8" stroke-linecap="round" d="M1663.2 645.3h0M1665.4 647.1h0M1679.5 653.5h0M1691.6 662.2h0M1682.1 672.3h0M1681.1 670.8h0M1665 668.7h0M1665.1 667h0M1655 652.2h0"/>
<path fill="#ffffff" stroke="#fff" stroke-width="0" stroke-linejoin="round" d="M1714 650L1722.8 650L1722.8 657.5L1714 657.5Z"/>
<path fill="none" stroke="#0000ff" stroke-width="12.8" stroke-linecap="round" d="M1717.8 645.6h0M1727.2 652.8h0M1716.5 661.6h0M1710.5 656.4h0"/>
<path fill="#ffffff" stroke="#fff" stroke-width="0" stroke-linejoin="round" d="M1781.5 675L1789 673.8L1789 687.5L1781.5 686.2Z"/>
<path fill="none" stroke="#0000ff" stroke-width="12.8" stroke-linecap="round" d="M1795.1 673.8L1795.1 687.5M1775.4 686.2L1775.4 675M1783.6 671.1h0M1784.9 692.4h0"/>
<path fill="#ffffff" stroke="#fff" stroke-width="0" stroke-linejoin="round" d="M1820.2 675L1831.5 675L1831.5 687.5L1820.2 687.5Z"/>
<path fill="none" stroke="#0000ff" stroke-width="12.8" stroke-linecap="round" d="M1837.6 675L1837.6 687.5M1814.2 687.5L1814.2 675M1820.6 670.9h0M1828 691.2h0"/>
<path fill="#ffffff" stroke="#fff" stroke-width="0" stroke-linejoin="round" d="M1746.5 680L1752.8 680L1752.8 685L1746.5 685Z"/>
<path fill="none" stroke="#0000ff" stroke-width="12.8" stroke-linecap="round" d="M1751.7 675.8h0M1756.2 680.5h0M1751.3 690h0M1742.7 684.6h0"/>
<path fill="#ffffff" stroke="#fff" stroke-width="0" stroke-linejoin="round" d="M1781.5 695L1789 695L1789 705L1781.5 703.8Z"/>
<path fill="none" stroke="#0000ff" stroke-width="12.8" stroke-linecap="round" d="M1795.1 695L1795.1 705M1784.9 708.6h0M1777.5 696.8h0"/>
<path fill="#ffffff" stroke="#fff" stroke-width="0" stroke-linejoin="round" d="M1771.5 725L1781.5 717.5L1789 716.2L1789 750L1781.5 747.5L1771.5 737.5Z"/>
<path fill="none" stroke="#0000ff" stroke-width="12.8" stroke-linecap="round" d="M1795.1 716.2L1795.1 750M1765.4 737.5L1765.4 725M1777.9 714.3h0M1787.9 712.6h0M1785.9 754.4h0M1776.9 749.1h0M1770.4 741.8h0"/>
<path fill="#ffffff" stroke="#fff" stroke-width="0" stroke-linejoin="round" d="M1745.2 762.5L1756.5 762.5L1756.5 772.5L1746.5 775Z"/>
<path fill="none" stroke="#0000ff" stroke-width="12.8" stroke-linecap="round" d="M1762.6 762.5L1762.6 772.5M1740.4 775.6L1739.2 763.1M1755 758h0M1754.6 777.1h0"/>
<path fill="#ffffff" stroke="#fff" stroke-width="0" stroke-linejoin="round" d="M1744 787.5L1751.5 787.5L1751.5 797.5L1744 797.5Z"/>
<path fill="none" stroke="#0000ff" stroke-width="12.8" stroke-linecap="round" d="M1757.6 787.5L1757.6 797.5M1737.9 797.5L1737.9 787.5M1751.1 782.8h0M1751 801.4h0"/>
<path fill="#ffffff" stroke="#fff" stroke-width="0" stroke-linejoin="round" d="M1664 793.8L1671.5 793.8L1671.5 800L1664 800Z"/>
<path fill="none" stroke="#0000ff" stroke-width="12.8" stroke-linecap="round" d="M1666.6 789.8h0M1675.8 794.1h0M1668.5 804.6h0M1659.1 799.9h0"/>
<path fill="#ffffff" stroke="#fff" stroke-width="0" stroke-linejoin="round" d="M1652.8 825L1664 827.5L1664 832.5L1654 830Z"/>
<path fill="none" stroke="#0000ff" stroke-width="12.8" stroke-linecap="round" d="M1659.2 822.1h0M1668.1 827.8h0M1662 835.6h0M1648.8 831.2h0"/>
<path fill="#ffffff" stroke="#fff" stroke-width="0" stroke-linejoin="round" d="M1764 772.5L1771.5 772.5L1776.5 782.5L1786.5 780L1786.5 765L1799 757.5L1799 765L1794 775L1796.5 785L1784 790L1774 795L1770.2 802.5L1781.5 802.5L1787.8 810L1781.5 817.5L1771.5 817.5L1764 810L1764 800L1769 790L1764 782.5Z"/>
<path fill="none" stroke="#0000ff" stroke-width="12.8" stroke-linecap="round" d="M1780.4 780L1780.4 765M1757.9 810L1757.9 800M1757.9 782.5L1757.9 772.5M1767.3 767.9h0M1776.6 771.2h0M1780.4 777.2h0M1787 758.7h0M1795.8 753.6h0M1803.6 761h0M1801 772.6h0M1799 774.3h0M1791 793h0M1781.1 796.2h0M1777.5 798.3h0M1778.7 798h0M1787.5 801.4h0M1790.2 814.9h0M1773.7 821.5h0M1762.6 815.7h0M1764.6 788.6h0M1763.2 788.7h0"/>
<path fill="#ffffff" stroke="#fff" stroke-width="0" stroke-linejoin="round" d="M1781.5 820L1789 820L1789 852.5L1781.5 850Z"/>
<path fill="none" stroke="#0000ff" stroke-width="12.8" stroke-linecap="round" d="M1795.1 820L1795.1 852.5M1775.4 850L1775.4 820M1788.1 814.5h0M1784.4 855.2h0"/>
<path fill="#ffffff" stroke="#fff" stroke-width="0" stroke-linejoin="round" d="M1781.5 865L1789 863.8L1789 885L1782.8 885Z"/>
<path fill="none" stroke="#0000ff" stroke-width="12.8" stroke-linecap="round" d="M1795.1 863.8L1795.1 885M1776.7 885.4L1775.4 865.4M1781.6 860.8h0M1786 889.4h0"/>
<path fill="#ffffff" stroke="#fff" stroke-width="0" stroke-linejoin="round" d="M1746.5 902.5L1754 902.5L1754 908.8L1746.5 908.8Z"/>
<path fill="none" stroke="#0000ff" stroke-width="12.8" stroke-linecap="round" d="M1753.6 897.1h0M1757.9 907.7h0M1750.6 913.6h0M1740.9 906.6h0"/>
<path fill="#ffffff" stroke="#fff" stroke-width="0" stroke-linejoin="round" d="M1821.5 832.5L1832.8 832.5L1832.8 840L1821.5 840Z"/>
<path fill="none" stroke="#0000ff" stroke-width="12.8" stroke-linecap="round" d="M1821.7 828.9h0M1838 838h0M1830.1 843.9h0M1817.5 833.3h0"/>
<path fill="#ffffff" stroke="#fff" stroke-width="0" stroke-linejoin="round" d="M1850.2 842.5L1861.5 842.5L1861.5 847.5L1855.2 848.8L1855.2 860L1862.8 861.2L1861.5 867.5L1851.5 867.5Z"/>
<path fill="none" stroke="#0000ff" stroke-width="12.8" stroke-linecap="round" d="M1861.3 848.8L1861.3 860M1845.4 867.8L1844.2 842.8M1861.1 837h0M1866.5 844.9h0M1859.1 852.1h0M1860.9 856.8h0M1868 863.3h0M1859.2 873h0"/>
<path fill="#ffffff" stroke="#fff" stroke-width="0" stroke-linejoin="round" d="M1819 880L1834 881.2L1832.8 886.2L1820.2 886.2Z"/>
<path fill="none" stroke="#0000ff" stroke-width="12.8" stroke-linecap="round" d="M1826.4 875.3h0M1833 876.5h0M1838.2 886.2h0M1832.2 889.8h0M1814.4 884.3h0"/>
<path fill="#ffffff" stroke="#fff" stroke-width="0" stroke-linejoin="round" d="M1819 905L1834 906.2L1832.8 912.5L1820.2 911.2Z"/>
<path fill="none" stroke="#0000ff" stroke-width="12.8" stroke-linecap="round" d="M1822.8 900.4h0M1832.1 901.9h0M1839.2 907.7h0M1822.3 915.9h0M1814.9 909.4h0"/>
<path fill="#ffffff" stroke="#fff" stroke-width="0" stroke-linejoin="round" d="M1875.2 808.8L1881.5 808.8L1881.5 815L1875.2 815Z"/>
<path fill="none" stroke="#0000ff" stroke-width="12.8" stroke-linecap="round" d="M1875.9 805.3h0M1885.4 810.3h0M1878.9 819.9h0M1871.8 810.8h0"/>
<path fill="#ffffff" stroke="#fff" stroke-width="0" stroke-linejoin="round" d="M1896.5 807.5L1901.5 807.5L1901.5 812.5L1896.5 812.5Z"/>
<path fill="none" stroke="#0000ff" stroke-width="12.8" stroke-linecap="round" d="M1899.5 802.5h0M1905.6 809.3h0M1898.2 816h0M1891.6 807.9h0"/>
<path fill="#ffffff" stroke="#fff" stroke-width="0" stroke-linejoin="round" d="M1851.5 607.5L1859 610L1859 613.8L1851.5 612.5Z"/>
<path fill="none" stroke="#0000ff" stroke-width="12.8" stroke-linecap="round" d="M1859.3 604.3h0M1863.4 613.7h0M1853.6 617.7h0M1847.3 609.4h0"/>
<path fill="#ffffff" stroke="#fff" stroke-width="0" stroke-linejoin="round" d="M1849 645L1856.5 645L1856.5 657.5L1850.2 657.5Z"/>
<path fill="none" stroke="#0000ff" stroke-width="12.8" stroke-linecap="round" d="M1862.6 645L1862.6 657.5M1844.2 658.1L1842.9 645.6M1855.2 640.2h0M1852.8 662.8h0"/>
<path fill="#ffffff" stroke="#fff" stroke-width="0" stroke-linejoin="round" d="M1899 700L1905.2 700L1906.5 712.5L1900.2 715Z"/>
<path fill="none" stroke="#0000ff" stroke-width="12.8" stroke-linecap="round" d="M1911.3 699.4L1912.6 711.9M1894.2 715.5L1892.9 700.5M1905.2 695.6h0M1905.3 716.7h0"/>
<path fill="#ffffff" stroke="#fff" stroke-width="0" stroke-linejoin="round" d="M1876.5 722.5L1889 722.5L1889 727.5L1876.5 727.5Z"/>
<path fill="none" stroke="#0000ff" stroke-width="12.8" stroke-linecap="round" d="M1880.9 716.9h0M1893.9 723.9h0M1885.2 731.8h0M1872.2 724.5h0"/>
<path fill="#ffffff" stroke="#fff" stroke-width="0" stroke-linejoin="round" d="M1900.2 530L1911.5 530L1911.5 547.5L1901.5 545Z"/>
<path fill="none" stroke="#0000ff" stroke-width="12.8" stroke-linecap="round" d="M1895.4 545.5L1894.2 530.5M1904.1 524.4h0M1905.2 550h0"/>
<path fill="#ffffff" stroke="#fff" stroke-width="0" stroke-linejoin="round" d="M1895.2 570L1911.5 562.5L1911.5 575L1899 575Z"/>
<path fill="none" stroke="#0000ff" stroke-width="12.8" stroke-linecap="round" d="M1895.5 564h0M1905.4 560.3h0M1904.8 578.5h0M1893.8 576.7h0"/>
<path fill="#ffffff" stroke="#fff" stroke-width="0" stroke-linejoin="round" d="M1215 885L1218.8 885L1218.8 897.5L1215 897.5Z"/>
<path fill="none" stroke="#0000ff" stroke-width="12.8" stroke-linecap="round" d="M1224.8 885L1224.8 897.5M1208.9 897.5L1208.9 885M1217.6 880.3h0M1216 901h0"/>
<path fill="#ffffff" stroke="#fff" stroke-width="0" stroke-linejoin="round" d="M1127.5 907.5L1132.5 907.5L1132.5 920L1127.5 920Z"/>
<path fill="none" stroke="#0000ff" stroke-width="12.8" stroke-linecap="round" d="M1138.6 907.5L1138.6 920M1121.4 920L1121.4 907.5"/>
<path fill="#ffffff" stroke="#fff" stroke-width="0" stroke-linejoin="round" d="M1267.5 917.5L1280 915L1287.5 922.5L1285 930L1280 922.5L1270 925Z"/>
<path fill="none" stroke="#0000ff" stroke-width="12.8" stroke-linecap="round" d="M1274.4 911.3h0M1290.5 919.1h0M1289.1 931.2h0M1278.3 927.2h0M1278.1 927.9h0M1263.2 921.7h0"/>
<path fill="#ffffff" stroke="#fff" stroke-width="0" stroke-linejoin="round" d="M1265 940L1275 941.2L1272.5 946.2L1266.2 945Z"/>
<path fill="none" stroke="#0000ff" stroke-width="12.8" stroke-linecap="round" d="M1274.6 935.7h0M1276.2 947h0M1261.3 945.6h0"/>
<path fill="#ffffff" stroke="#fff" stroke-width="0" stroke-linejoin="round" d="M1212.5 922.5L1217.5 922.5L1217.5 927.5L1212.5 927.5Z"/>
<path fill="none" stroke="#0000ff" stroke-width="12.8" stroke-linecap="round" d="M1212.5 917.4h0M1222.7 926.9h0M1215.3 931h0M1207.9 927.3h0"/>
<path fill="#ffffff" stroke="#fff" stroke-width="0" stroke-linejoin="round" d="M1781.5 880L1789 880L1789 900L1781.5 897.5Z"/>
<path fill="none" stroke="#0000ff" stroke-width="12.8" stroke-linecap="round" d="M1795.1 880L1795.1 900M1775.4 897.5L1775.4 880M1782.4 902.2h0"/>
<path fill="#ffffff" stroke="#fff" stroke-width="0" stroke-linejoin="round" d="M1781.5 925L1789 925L1789 932.5L1781.5 932.5Z"/>
<path fill="none" stroke="#0000ff" stroke-width="12.8" stroke-linecap="round" d="M1785.8 920.7h0M1793 927.1h0M1786.4 937.6h0M1778.1 931.1h0"/>
<path fill="#ffffff" stroke="#fff" stroke-width="0" stroke-linejoin="round" d="M1781.5 947.5L1789 950L1789 957.5L1781.5 955Z"/>
<path fill="none" stroke="#0000ff" stroke-width="12.8" stroke-linecap="round" d="M1788.9 944.1h0M1792.8 950.5h0M1782.9 960.5h0M1777.6 952.8h0"/>
<path fill="#ffffff" stroke="#fff" stroke-width="0" stroke-linejoin="round" d="M1820.2 902.5L1832.8 905L1832.8 911.2L1820.2 910Z"/>
<path fill="none" stroke="#0000ff" stroke-width="12.8" stroke-linecap="round" d="M1822.8 899.5h0M1837 907.6h0M1828.3 916.1h0M1816.8 909.2h0"/>
<path fill="#ffffff" stroke="#fff" stroke-width="0" stroke-linejoin="round" d="M1820.2 956.2L1832.8 956.2L1832.8 961.2L1820.2 961.2Z"/>
<path fill="none" stroke="#0000ff" stroke-width="12.8" stroke-linecap="round" d="M1831.2 952.7h0M1837.7 957.4h0M1823.7 965.2h0M1814.8 956.4h0"/>
<path fill="#ffffff" stroke="#fff" stroke-width="0" stroke-linejoin="round" d="M1820.2 977.5L1832.8 977.5L1832.8 983.8L1820.2 983.8Z"/>
<path fill="none" stroke="#0000ff" stroke-width="12.8" stroke-linecap="round" d="M1827 974h0M1836.3 983.2h0M1832.2 989.1h0M1816.1 983.2h0"/>
<path fill="#ffffff" stroke="#fff" stroke-width="0" stroke-linejoin="round" d="M1850.2 957.5L1862.8 957.5L1862.8 966.2L1850.2 966.2Z"/>
<path fill="none" stroke="#0000ff" stroke-width="12.8" stroke-linecap="round" d="M1855.7 952.7h0M1867.3 958.3h0M1857.2 971.4h0M1846.3 959.1h0"/>
<path fill="#ffffff" stroke="#fff" stroke-width="0" stroke-linejoin="round" d="M1849 927.5L1856.5 925L1854 933.8L1849 935Z"/>
<path fill="none" stroke="#0000ff" stroke-width="12.8" stroke-linecap="round" d="M1853.9 922.3h0M1859.9 931.1h0M1851.5 938.4h0M1845 931.4h0"/>
<path fill="#ffffff" stroke="#fff" stroke-width="0" stroke-linejoin="round" d="M1869 967.5L1879 966.2L1876.5 972.5L1870.2 972.5Z"/>
<path fill="none" stroke="#0000ff" stroke-width="12.8" stroke-linecap="round" d="M1869.3 962.5h0M1882.3 967.9h0M1871.2 977.8h0M1865.4 968.5h0"/>
<path fill="#ffffff" stroke="#fff" stroke-width="0" stroke-linejoin="round" d="M1899 957.5L1911.5 960L1909 966.2L1901.5 963.8Z"/>
<path fill="none" stroke="#0000ff" stroke-width="12.8" stroke-linecap="round" d="M1911.5 956.1h0M1914.5 962.1h0M1903 969h0M1896.5 961.1h0"/>
<path fill="#ffffff" stroke="#fff" stroke-width="0" stroke-linejoin="round" d="M1745.2 997.5L1751.5 997.5L1751.5 1003.8L1745.2 1003.8Z"/>
<path fill="none" stroke="#0000ff" stroke-width="12.8" stroke-linecap="round" d="M1749 992.7h0M1755.2 1002.7h0M1750.6 1008.2h0M1740.4 998.3h0"/>
<path fill="#ffffff" stroke="#fff" stroke-width="0" stroke-linejoin="round" d="M1745.2 901.2L1751.5 901.2L1751.5 906.2L1745.2 906.2Z"/>
<path fill="none" stroke="#0000ff" stroke-width="12.8" stroke-linecap="round" d="M1748.3 895.8h0M1756.7 905.4h0M1749.3 909.8h0M1739.7 903.9h0"/>
<path fill="#ffffff" stroke="#fff" stroke-width="0" stroke-linejoin="round" d="M1679 1022.5L1699 1021.2L1699 1030L1694 1040L1684 1037.5L1677.8 1032.5Z"/>
<path fill="none" stroke="#0000ff" stroke-width="12.8" stroke-linecap="round" d="M1671.7 1031.7L1672.9 1021.7M1683 1016.9h0M1696.2 1016.1h0M1703.8 1023.6h0M1700.5 1039.2h0M1691.4 1044.1h0M1678.9 1038h0"/>
<path fill="#ffffff" stroke="#fff" stroke-width="0" stroke-linejoin="round" d="M1899 993.8L1906.5 993.8L1906.5 998.8L1899 998.8Z"/>
<path fill="none" stroke="#0000ff" stroke-width="12.8" stroke-linecap="round" d="M1905.1 988.7h0M1910.9 996h0M1900.6 1003.4h0M1894.6 998h0"/>
<path fill="#9c9cff" d="M1515.5 300h1v7.5h-1zM1515.5 322.3h1v7.9h-1zM1515.5 357.2h1v9.3h-1zM1515.5 409.6h1v20.6h-1zM1515.5 474.9h1v19.3h-1zM1515.5 510.6h1v12.6h-1zM1515.5 566.8h1v20h-1zM1515.5 622.7h1v21.2h-1zM1515.5 655.8h1v10.8h-1zM1515.5 693.8h1v26.3h-1zM1515.5 767.8h1v20.2h-1zM1515.5 808.4h1v7.1h-1zM1515.5 847.9h1v15.8h-1zM1515.5 910.9h1v11h-1zM1515.5 940.1h1v6.4h-1zM1515.5 957.6h1v25.4h-1zM1718 245h1v9.7h-1zM1718 265.3h1v19.8h-1zM1718 305h1v20.7h-1zM1718 372.2h1v23.9h-1zM1718 417.3h1v20.6h-1zM1718 459.5h1v24.2h-1zM1718 504h1v26.9h-1zM1718 568h1v27.4h-1zM1718 619.3h1v28.9h-1zM1718 681.5h1v12.2h-1zM1718 729.5h1v13.5h-1zM1718 757.5h1v7h-1zM1718 798.9h1v11.8h-1zM1718 824.7h1v24.6h-1zM1718 865h1v24.1h-1zM1718 910h1v14.7h-1zM1718 972.1h1v25.9h-1zM1820 380h1v29.5h-1zM1820 443.7h1v28.4h-1zM1820 507h1v20h-1zM1820 549.9h1v15.1h-1zM1820 597.8h1v11.9h-1zM1820 645.4h1v26.7h-1zM1820 711h1v11.4h-1zM1820 733.5h1v14.8h-1zM1820 775.7h1v26.3h-1zM1820 833.9h1v18.4h-1zM1820 886.5h1v19.3h-1zM1820 942.9h1v19.4h-1zM1899.5 225h1v11.7h-1zM1899.5 251.6h1v16.6h-1zM1899.5 313.6h1v28.7h-1zM1899.5 364.1h1v19.8h-1zM1899.5 414.6h1v16.9h-1zM1899.5 448.6h1v24.9h-1zM1899.5 487h1v11.5h-1zM1899.5 519.6h1v10.9h-1zM1899.5 548.2h1v7.9h-1zM1899.5 587.1h1v10.1h-1zM1899.5 632.9h1v20.4h-1zM1899.5 688.3h1v17.5h-1zM1899.5 740.3h1v13.1h-1zM1899.5 782h1v22.5h-1zM1899.5 823.1h1v23.6h-1zM1899.5 880.1h1v29.4h-1zM1899.5 944.2h1v19.2h-1zM1899.5 1004.1h1v0.9h-1zM1601.5 275h1v16.4h-1zM1601.5 330.8h1v23.3h-1zM1601.5 371.4h1v28.9h-1zM1601.5 449.6h1v17.9h-1zM1601.5 517.3h1v20.9h-1zM1601.5 563.6h1v8.1h-1zM1601.5 582.4h1v20.2h-1zM1601.5 641.3h1v20.8h-1zM1601.5 703.4h1v16.5h-1zM1601.5 759.6h1v20.5h-1zM1601.5 815.4h1v19.2h-1zM1601.5 871.3h1v19.4h-1zM1601.5 904.3h1v22.2h-1zM1601.5 964.7h1v16.3h-1zM1782 260h1v17.5h-1zM1782 294.2h1v18.3h-1zM1782 336.8h1v10h-1zM1782 392.3h1v10.3h-1zM1782 441.1h1v10.1h-1zM1782 481.8h1v29.9h-1zM1782 525.3h1v26.6h-1zM1782 562.1h1v29.5h-1zM1782 637.9h1v16.8h-1zM1782 690.2h1v17h-1zM1782 723.8h1v14.5h-1zM1782 766h1v26.9h-1zM1782 807.4h1v18.9h-1zM1782 855.2h1v19.3h-1zM1782 916.2h1v20.4h-1zM1782 959.5h1v28.9h-1z"/>
<path fill="#ffffff" stroke="#fff" stroke-width="2" stroke-linejoin="round" d="M2068 180L2075.5 181.2L2080.5 190L2093 191.2L2103 187.5L2108 180L2115.5 185L2113 192.5L2098 198.8L2088 200L2075.5 197.5L2070.5 190Z"/>
<path fill="none" stroke="#0000ff" stroke-width="12.8" stroke-linecap="round" d="M2073.2 174.1h0M2083.7 184.1h0M2083 185.1h0M2095.1 184h0M2101.4 179.7h0M2116.9 179.8h0M2110 199.3h0M2094.4 205.5h0M2076.2 202.9h0M2068.7 197.3h0M2063.5 186.2h0"/>
<path fill="#ffffff" stroke="#fff" stroke-width="4" stroke-linejoin="round" d="M2168 210L2188 191.2L2195.5 195L2203 198.8L2213 202.5L2218 195L2225.5 196.2L2240.5 195L2238 200L2230.5 205L2220.5 203.8L2208 210L2203 217.5L2188 221.2L2178 216.2Z"/>
<path fill="none" stroke="#0000ff" stroke-width="12.8" stroke-linecap="round" d="M2173 196.3h0M2184.1 187.3h0M2196.8 189h0M2199.6 190.1h0M2205.2 193.4h0M2208.3 198.8h0M2226.3 189.8h0M2233.8 188.7h0M2245.3 198.9h0M2241 206.3h0M2227.7 210.9h0M2219.9 211.2h0M2211.6 215h0M2194.1 225.7h0M2179.2 224.2h0M2196.8 210h0"/>
<path fill="#ffffff" stroke="#fff" stroke-width="3" stroke-linejoin="round" d="M2085.5 667.5L2105.5 667.5L2125.5 677.5L2123 690L2105.5 697.5L2128 715L2135.5 732.5L2120.5 740L2100.5 732.5L2093 757.5L2070.5 757.5L2070.5 735L2053 725L2060.5 700L2075.5 685Z"/>
<path fill="none" stroke="#0000ff" stroke-width="12.8" stroke-linecap="round" d="M2131.5 678.7L2129 691.2M2064.4 757.5L2064.4 735M2095.5 661.9h0M2097.3 662.8h0M2108.6 663.9h0M2123.2 670.7h0M2111.8 700.9h0M2117.4 697.9h0M2125.3 705.5h0M2140.2 727.1h0M2125.9 742.6h0M2113.7 742.7h0M2105.3 741.6h0M2104 744.7h0M2099.4 756.3h0M2091.6 763.6h0M2064.8 738.5h0M2055.1 733.6h0M2049.3 717.3h0M2054.6 701.9h0M2058.1 693.9h0M2069.2 683.4h0M2074.1 677.8h0M2077.2 671.4h0M2085.5 685h0M2110.5 687.5h0M2083 712.5h0M2098 702.5h0M2123 725h0M2108 737.5h0M2081.8 718.8h0M2065.5 732.5h0"/>
<path fill="#ffffff" stroke="#fff" stroke-width="0" stroke-linejoin="round" d="M2043 192.5L2060.5 195L2061.8 202.5L2044.2 200Z"/>
<path fill="none" stroke="#0000ff" stroke-width="12.8" stroke-linecap="round" d="M2047.9 188.1h0M2057.8 190.9h0M2064.1 195.4h0M2052.7 205.5h0M2045.9 205.1h0M2039.8 194.8h0"/>
<path fill="#ffffff" stroke="#fff" stroke-width="0" stroke-linejoin="round" d="M2134.2 171.2L2146.8 166.2L2148 170L2138 176.2Z"/>
<path fill="none" stroke="#0000ff" stroke-width="12.8" stroke-linecap="round" d="M2142.1 162.6h0M2152.3 166.5h0M2144.8 176.5h0M2133.7 178h0"/>
<path fill="#ffffff" stroke="#fff" stroke-width="0" stroke-linejoin="round" d="M2159.2 171.2L2168 170L2168 176.2L2160.5 177.5Z"/>
<path fill="none" stroke="#0000ff" stroke-width="12.8" stroke-linecap="round" d="M2162.6 165.9h0M2172.3 174h0M2164.9 182.2h0M2154.5 173.3h0"/>
<path fill="#ffffff" stroke="#fff" stroke-width="0" stroke-linejoin="round" d="M2145.5 186.2L2153 188.8L2155.5 193.8L2148 191.2Z"/>
<path fill="none" stroke="#0000ff" stroke-width="12.8" stroke-linecap="round" d="M2150.9 183.9h0M2158.2 190.3h0M2149.9 196.9h0M2143.8 191.9h0"/>
<path fill="#ffffff" stroke="#fff" stroke-width="0" stroke-linejoin="round" d="M2163 190L2171.8 188.8L2168 197.5L2163 195Z"/>
<path fill="none" stroke="#0000ff" stroke-width="12.8" stroke-linecap="round" d="M2170.2 184.8h0M2174.1 194.4h0M2161.9 200.2h0M2157.5 191.4h0"/>
<path fill="#ffffff" stroke="#fff" stroke-width="0" stroke-linejoin="round" d="M2228 243.8L2234.2 247.5L2238 253.8L2229.2 253.8Z"/>
<path fill="none" stroke="#0000ff" stroke-width="12.8" stroke-linecap="round" d="M2223.2 254.5L2221.9 244.5M2233.3 241.3h0M2241.1 250.5h0M2233.5 258h0"/>
<path fill="#ffffff" stroke="#fff" stroke-width="0" stroke-linejoin="round" d="M2253 250L2259.2 252.5L2258 255L2253 253.8Z"/>
<path fill="none" stroke="#0000ff" stroke-width="12.8" stroke-linecap="round" d="M2256.4 246.6h0M2263.9 255.3h0M2253.1 257.9h0M2249.4 250.4h0"/>
<path fill="#ffffff" stroke="#fff" stroke-width="0" stroke-linejoin="round" d="M2220.5 266.2L2228 262.5L2229.2 275L2221.8 276.2Z"/>
<path fill="none" stroke="#0000ff" stroke-width="12.8" stroke-linecap="round" d="M2234.1 261.9L2235.3 274.4M2215.7 277L2214.4 267M2225.4 258.4h0M2223.6 279.8h0"/>
<path fill="#ffffff" stroke="#fff" stroke-width="0" stroke-linejoin="round" d="M2243 272.5L2248 275L2245.5 280L2241.8 278.8Z"/>
<path fill="none" stroke="#0000ff" stroke-width="12.8" stroke-linecap="round" d="M2245.4 268.9h0M2249.6 280.9h0M2243.7 283.6h0M2237.9 274.2h0"/>
<path fill="#ffffff" stroke="#fff" stroke-width="0" stroke-linejoin="round" d="M2220.5 286.2L2228 285L2228 300L2221.8 300Z"/>
<path fill="none" stroke="#0000ff" stroke-width="12.8" stroke-linecap="round" d="M2234.1 285L2234.1 300M2215.7 300.6L2214.4 286.8M2222.8 280.3h0M2224.4 305.3h0"/>
<path fill="#ffffff" stroke="#fff" stroke-width="0" stroke-linejoin="round" d="M2185.5 300L2195.5 292.5L2195.5 297.5L2190.5 303.8Z"/>
<path fill="none" stroke="#0000ff" stroke-width="12.8" stroke-linecap="round" d="M2185.7 294.1h0M2200.4 297.3h0M2194.2 306.2h0M2183.8 304.7h0"/>
<path fill="#ffffff" stroke="#fff" stroke-width="0" stroke-linejoin="round" d="M2188 280L2195.5 280L2195.5 283.8L2188 283.8Z"/>
<path fill="none" stroke="#0000ff" stroke-width="12.8" stroke-linecap="round" d="M2192.1 276h0M2199.7 281.7h0M2194.4 287.7h0M2183.4 283.6h0"/>
<path fill="#ffffff" stroke="#fff" stroke-width="0" stroke-linejoin="round" d="M2225.5 330L2238 328.8L2235.5 335L2231.8 345L2224.2 345L2225.5 337.5Z"/>
<path fill="none" stroke="#0000ff" stroke-width="12.8" stroke-linecap="round" d="M2230 324.1h0M2240.1 334.4h0M2239.1 340.3h0M2224.6 349.9h0M2221.5 338.9h0M2221.4 334.7h0"/>
<path fill="#ffffff" stroke="#fff" stroke-width="0" stroke-linejoin="round" d="M2036.8 286.2L2041.8 285L2043 292.5L2038 291.2Z"/>
<path fill="none" stroke="#0000ff" stroke-width="12.8" stroke-linecap="round" d="M2036.5 281.9h0M2046.9 290.3h0M2039.5 297.3h0M2032 289h0"/>
<path fill="#ffffff" stroke="#fff" stroke-width="0" stroke-linejoin="round" d="M2091.8 230L2104.2 231.2L2104.2 236.2L2091.8 235Z"/>
<path fill="none" stroke="#0000ff" stroke-width="12.8" stroke-linecap="round" d="M2103.8 226.9h0M2108.5 231.6h0M2096.1 238.9h0M2087.4 234.6h0"/>
<path fill="#ffffff" stroke="#fff" stroke-width="0" stroke-linejoin="round" d="M2116.8 210L2124.2 210L2124.2 213.8L2116.8 213.8Z"/>
<path fill="none" stroke="#0000ff" stroke-width="12.8" stroke-linecap="round" d="M2123.1 205.2h0M2128.2 212.5h0M2121.1 219.3h0M2112.7 212.7h0"/>
<path fill="#ffffff" stroke="#fff" stroke-width="0" stroke-linejoin="round" d="M2135.5 276.2L2139.2 276.2L2139.2 281.2L2135.5 281.2Z"/>
<path fill="none" stroke="#0000ff" stroke-width="12.8" stroke-linecap="round" d="M2136.8 272.3h0M2144.7 279.6h0M2138 286.2h0M2130.6 277.8h0"/>
<path fill="#ffffff" stroke="#fff" stroke-width="0" stroke-linejoin="round" d="M2078 418.8L2083 417.5L2083 422.5L2078 422.5Z"/>
<path fill="none" stroke="#0000ff" stroke-width="12.8" stroke-linecap="round" d="M2077.3 415h0M2087 418.4h0M2082.9 427.1h0M2074.4 421.9h0"/>
<path fill="#ffffff" stroke="#fff" stroke-width="0" stroke-linejoin="round" d="M2089.2 420L2095.5 422.5L2096.8 427.5L2090.5 426.2Z"/>
<path fill="none" stroke="#0000ff" stroke-width="12.8" stroke-linecap="round" d="M2091.1 416.8h0M2100.8 422.7h0M2092.7 431h0M2085.3 422h0"/>
<path fill="#ffffff" stroke="#fff" stroke-width="0" stroke-linejoin="round" d="M2201.8 418.8L2209.2 418.8L2209.2 423.8L2201.8 423.8Z"/>
<path fill="none" stroke="#0000ff" stroke-width="12.8" stroke-linecap="round" d="M2202.5 414.4h0M2212.8 419.5h0M2202.2 429.3h0M2197 420.1h0"/>
<path fill="#ffffff" stroke="#fff" stroke-width="0" stroke-linejoin="round" d="M2185.5 426.2L2190.5 426.2L2190.5 431.2L2185.5 431.2Z"/>
<path fill="none" stroke="#0000ff" stroke-width="12.8" stroke-linecap="round" d="M2186.4 421.4h0M2194 429.6h0M2189.9 436.3h0M2180.4 429.8h0"/>
<path fill="#ffffff" stroke="#fff" stroke-width="0" stroke-linejoin="round" d="M2041.8 447.5L2046.8 447.5L2046.8 451.2L2041.8 451.2Z"/>
<path fill="none" stroke="#0000ff" stroke-width="12.8" stroke-linecap="round" d="M2043.2 443.2h0M2050.2 447.7h0M2042.4 455.8h0M2036.9 449.2h0"/>
<path fill="#ffffff" stroke="#fff" stroke-width="0" stroke-linejoin="round" d="M2024.2 485L2028 490L2031.8 492.5L2025.5 493.8Z"/>
<path fill="none" stroke="#0000ff" stroke-width="12.8" stroke-linecap="round" d="M2029.7 484.3h0M2032.8 488.2h0M2031.3 497.2h0M2021.4 489.6h0"/>
<path fill="#ffffff" stroke="#fff" stroke-width="0" stroke-linejoin="round" d="M2015.5 665L2023 660L2029.2 665L2029.2 675L2038 677.5L2044.2 670L2048 671.2L2043 677.5L2038 680L2029.2 678.8L2018 672.5Z"/>
<path fill="none" stroke="#0000ff" stroke-width="12.8" stroke-linecap="round" d="M2035.3 665L2035.3 675M2018.8 658.3h0M2032.2 661.3h0M2037.5 671.6h0M2036.6 671.3h0M2047.3 666.8h0M2048.5 679.1h0M2041.1 682.4h0M2029.2 683.5h0M2021.4 679.3h0"/>
<path fill="#ffffff" stroke="#fff" stroke-width="0" stroke-linejoin="round" d="M2038 650L2043 648.8L2043 657.5L2038 657.5Z"/>
<path fill="none" stroke="#0000ff" stroke-width="12.8" stroke-linecap="round" d="M2037 645.3h0M2046.8 654.4h0M2042.1 662h0M2034 656.3h0"/>
<path fill="#ffffff" stroke="#fff" stroke-width="0" stroke-linejoin="round" d="M2043 625L2048 625L2048 631.2L2043 631.2Z"/>
<path fill="none" stroke="#0000ff" stroke-width="12.8" stroke-linecap="round" d="M2043.8 621.5h0M2052 629.2h0M2045.9 635.7h0M2038.6 627.2h0"/>
<path fill="#ffffff" stroke="#fff" stroke-width="0" stroke-linejoin="round" d="M2115.5 633.8L2124.2 633.8L2124.2 641.2L2116.8 640Z"/>
<path fill="none" stroke="#0000ff" stroke-width="12.8" stroke-linecap="round" d="M2122 629.7h0M2129.3 639.2h0M2122.5 646.1h0M2111.1 635.9h0"/>
<path fill="#ffffff" stroke="#fff" stroke-width="0" stroke-linejoin="round" d="M2143 626.2L2149.2 625L2149.2 631.2L2143 631.2Z"/>
<path fill="none" stroke="#0000ff" stroke-width="12.8" stroke-linecap="round" d="M2142.6 622h0M2152.7 625.7h0M2143.9 636h0M2137.8 630.8h0"/>
<path fill="#ffffff" stroke="#fff" stroke-width="0" stroke-linejoin="round" d="M2153 638.8L2160.5 638.8L2159.2 645L2153 645Z"/>
<path fill="none" stroke="#0000ff" stroke-width="12.8" stroke-linecap="round" d="M2158.3 634.9h0M2164.2 639.6h0M2153.3 648.5h0M2147.9 640.4h0"/>
<path fill="#ffffff" stroke="#fff" stroke-width="0" stroke-linejoin="round" d="M2138 681.2L2154.2 680L2155.5 687.5L2150.5 687.5L2148 683.8L2138 685Z"/>
<path fill="none" stroke="#0000ff" stroke-width="12.8" stroke-linecap="round" d="M2138.2 675.9h0M2153.2 675.4h0M2159.9 684.8h0M2151.7 692h0M2145.7 688.2h0M2140.7 689.4h0M2132.6 684h0"/>
<path fill="#ffffff" stroke="#fff" stroke-width="0" stroke-linejoin="round" d="M2151.8 697.5L2154.2 697.5L2155.5 712.5L2160.5 713.8L2160.5 720L2153 721.2L2151.8 712.5Z"/>
<path fill="none" stroke="#0000ff" stroke-width="12.8" stroke-linecap="round" d="M2160.3 697L2161.6 712M2145.7 712.5L2145.7 697.5M2152.6 694h0M2159.9 707.9h0M2165.6 718.3h0M2156.2 725.1h0M2148.5 719.4h0"/>
<path fill="#ffffff" stroke="#fff" stroke-width="0" stroke-linejoin="round" d="M2190.5 630L2196.8 632.5L2195.5 642.5L2205.5 645L2211.8 635L2215.5 637.5L2210.5 650L2200.5 653.8L2200.5 670L2203 677.5L2198 687.5L2190.5 685L2185.5 680L2188 672.5L2194.2 670L2194.2 650L2189.2 645Z"/>
<path fill="none" stroke="#0000ff" stroke-width="12.8" stroke-linecap="round" d="M2202.8 633.3L2201.6 643.3M2206.6 653.8L2206.6 670M2188.2 670L2188.2 650M2183.2 644.5L2184.4 629.5M2195.5 627.6h0M2204.6 639.6h0M2207.4 635.3h0M2215.7 632.8h0M2217.7 641.3h0M2211.2 653.4h0M2206.4 673.1h0M2204.3 685.1h0M2195.1 690.5h0M2185.4 686.5h0M2181.7 676.4h0M2191.2 667.1h0M2186.9 650h0"/>
<path fill="#ffffff" stroke="#fff" stroke-width="0" stroke-linejoin="round" d="M2221.8 647.5L2228 641.2L2238 640L2243 645L2235.5 647.5L2230.5 650L2230.5 655L2238 657.5L2248 655L2253 650L2253 657.5L2245.5 665L2235.5 668.8L2228 667.5L2226.8 657.5Z"/>
<path fill="none" stroke="#0000ff" stroke-width="12.8" stroke-linecap="round" d="M2221.9 668.3L2220.7 658.3M2223.5 637.9h0M2231.1 636.8h0M2241.3 638h0M2239.5 650.7h0M2233.5 653.6h0M2234 651.6h0M2238.3 653.3h0M2246.8 650.9h0M2246.4 648.8h0M2257.8 653.5h0M2249.1 667.3h0M2246 668.6h0M2228.7 673.2h0M2220.9 653.8h0"/>
<path fill="#ffffff" stroke="#fff" stroke-width="0" stroke-linejoin="round" d="M2209.2 665L2215.5 665L2215.5 671.2L2209.2 671.2Z"/>
<path fill="none" stroke="#0000ff" stroke-width="12.8" stroke-linecap="round" d="M2212.4 659.9h0M2219.3 668.5h0M2215 675.6h0"/>
<path fill="#ffffff" stroke="#fff" stroke-width="0" stroke-linejoin="round" d="M2183 695L2189.2 692.5L2189.2 701.2L2184.2 700Z"/>
<path fill="none" stroke="#0000ff" stroke-width="12.8" stroke-linecap="round" d="M2182.4 691.3h0M2194 694.4h0M2186.2 704.8h0M2179.3 697.5h0"/>
<path fill="#ffffff" stroke="#fff" stroke-width="0" stroke-linejoin="round" d="M2223 695L2228 695L2228 702.5L2223 702.5Z"/>
<path fill="none" stroke="#0000ff" stroke-width="12.8" stroke-linecap="round" d="M2227.1 691.4h0M2233.5 697.6h0M2227 706.9h0M2219.4 698.6h0"/>
<path fill="#ffffff" stroke="#fff" stroke-width="0" stroke-linejoin="round" d="M2190.5 710L2196.8 711.2L2196.8 716.2L2190.5 716.2Z"/>
<path fill="none" stroke="#0000ff" stroke-width="12.8" stroke-linecap="round" d="M2194.6 706.1h0M2200.8 714.2h0M2196.4 721.5h0M2186.5 715.2h0"/>
<path fill="#ffffff" stroke="#fff" stroke-width="0" stroke-linejoin="round" d="M2220.5 552.5L2228 550L2228 558.8L2221.8 558.8Z"/>
<path fill="none" stroke="#0000ff" stroke-width="12.8" stroke-linecap="round" d="M2219.5 547.1h0M2231.6 553.6h0M2222 562.6h0M2216.4 556.3h0"/>
<path fill="#ffffff" stroke="#fff" stroke-width="0" stroke-linejoin="round" d="M2223 566.2L2231.8 565L2231.8 571.2L2226.8 578.8L2221.8 577.5L2221.8 570Z"/>
<path fill="none" stroke="#0000ff" stroke-width="12.8" stroke-linecap="round" d="M2224.2 561.3h0M2236.7 565.2h0M2232.1 580.2h0M2224.1 582.9h0M2217.1 572.8h0M2218.6 568h0"/>
<path fill="#ffffff" stroke="#fff" stroke-width="0" stroke-linejoin="round" d="M2240.5 572.5L2246.8 573.8L2246.8 578.8L2240.5 577.5Z"/>
<path fill="none" stroke="#0000ff" stroke-width="12.8" stroke-linecap="round" d="M2244.8 569.7h0M2250.5 578.5h0M2242.2 581.3h0M2236.4 575.7h0"/>
<path fill="#ffffff" stroke="#fff" stroke-width="0" stroke-linejoin="round" d="M2186.8 572.5L2195.5 578.8L2191.8 587.5L2188 582.5Z"/>
<path fill="none" stroke="#0000ff" stroke-width="12.8" stroke-linecap="round" d="M2181.9 583.3L2180.7 573.3M2190.9 571.2h0M2197.3 584.5h0M2184.8 585.8h0"/>
<path fill="#ffffff" stroke="#fff" stroke-width="0" stroke-linejoin="round" d="M2225.5 596.2L2231.8 595L2230.5 600L2225.5 602.5Z"/>
<path fill="none" stroke="#0000ff" stroke-width="12.8" stroke-linecap="round" d="M2226.7 590.9h0M2236.2 598h0M2231.6 604.3h0M2221.5 598h0"/>
<path fill="#ffffff" stroke="#fff" stroke-width="0" stroke-linejoin="round" d="M2225.5 612.5L2230.5 612.5L2229.2 620L2225.5 620Z"/>
<path fill="none" stroke="#0000ff" stroke-width="12.8" stroke-linecap="round" d="M2229.5 607.8h0M2234.4 618.8h0M2226.7 625.4h0M2220.9 615h0"/>
<path fill="#ffffff" stroke="#fff" stroke-width="0" stroke-linejoin="round" d="M2040.5 700L2048 702.5L2046.8 707.5L2041.8 706.2Z"/>
<path fill="none" stroke="#0000ff" stroke-width="12.8" stroke-linecap="round" d="M2048.8 698.5h0M2051.3 706h0M2042.7 710h0M2036.8 703.2h0"/>
<path fill="#ffffff" stroke="#fff" stroke-width="0" stroke-linejoin="round" d="M2038 735L2048 733.8L2049.2 742.5L2041.8 745L2038 741.2Z"/>
<path fill="none" stroke="#0000ff" stroke-width="12.8" stroke-linecap="round" d="M2042.2 730.8h0M2052.8 741.8h0M2046.2 748.5h0M2035.9 747h0M2032.8 738.5h0"/>
<path fill="#ffffff" stroke="#fff" stroke-width="0" stroke-linejoin="round" d="M2036.8 748.8L2043 750L2044.2 757.5L2038 756.2Z"/>
<path fill="none" stroke="#0000ff" stroke-width="12.8" stroke-linecap="round" d="M2047.1 750.9h0M2037.7 760.2h0M2032 750.4h0"/>
<path fill="#ffffff" stroke="#fff" stroke-width="0" stroke-linejoin="round" d="M2041.8 777.5L2049.2 776.2L2049.2 780L2043 785Z"/>
<path fill="none" stroke="#0000ff" stroke-width="12.8" stroke-linecap="round" d="M2047.6 771h0M2053.3 779.9h0M2047.1 786.9h0M2036.8 779.1h0"/>
<path fill="#ffffff" stroke="#fff" stroke-width="0" stroke-linejoin="round" d="M2021.8 787.5L2028 786.2L2030.5 796.2L2025.5 798.8L2021.8 795Z"/>
<path fill="none" stroke="#0000ff" stroke-width="12.8" stroke-linecap="round" d="M2021.4 782.7h0M2035.2 794.6h0M2031.7 799.9h0M2020.5 799.5h0"/>
<path fill="#ffffff" stroke="#fff" stroke-width="0" stroke-linejoin="round" d="M2080.5 843.8L2090.5 836.2L2091.8 850L2081.8 850Z"/>
<path fill="none" stroke="#0000ff" stroke-width="12.8" stroke-linecap="round" d="M2096.6 835.7L2097.8 849.4M2079 839.2h0M2088.1 854.6h0M2076.5 850.9h0"/>
<path fill="#ffffff" stroke="#fff" stroke-width="0" stroke-linejoin="round" d="M2091.8 825L2096.8 825L2096.8 830L2091.8 830Z"/>
<path fill="none" stroke="#0000ff" stroke-width="12.8" stroke-linecap="round" d="M2095.4 820.8h0M2100.3 829.7h0M2093.5 835.5h0M2087.3 829.1h0"/>
<path fill="#ffffff" stroke="#fff" stroke-width="0" stroke-linejoin="round" d="M2108 826.2L2111.8 826.2L2111.8 831.2L2108 831.2Z"/>
<path fill="none" stroke="#0000ff" stroke-width="12.8" stroke-linecap="round" d="M2110.1 821.4h0M2116.4 827.2h0M2111.4 834.8h0M2103.9 829.2h0"/>
<path fill="#ffffff" stroke="#fff" stroke-width="0" stroke-linejoin="round" d="M2120.5 848.8L2124.2 848.8L2124.2 853.8L2120.5 853.8Z"/>
<path fill="none" stroke="#0000ff" stroke-width="12.8" stroke-linecap="round" d="M2120.8 843.9h0M2129.7 851.9h0M2121.9 858h0M2115.7 850.8h0"/>
<path fill="#ffffff" stroke="#fff" stroke-width="0" stroke-linejoin="round" d="M2171.8 873.8L2178 872.5L2178 878.8L2173 878.8Z"/>
<path fill="none" stroke="#0000ff" stroke-width="12.8" stroke-linecap="round" d="M2177 868.9h0M2182.6 873h0M2174.5 882.9h0M2168.3 875.2h0"/>
<path fill="#ffffff" stroke="#fff" stroke-width="0" stroke-linejoin="round" d="M2226.8 772.5L2231.8 771.2L2231.8 778.8L2226.8 778.8Z"/>
<path fill="none" stroke="#0000ff" stroke-width="12.8" stroke-linecap="round" d="M2228.5 768.4h0M2235.4 776.6h0M2231.1 783.3h0M2222.4 777h0"/>
<path fill="#ffffff" stroke="#fff" stroke-width="0" stroke-linejoin="round" d="M2226.8 845L2231.8 845L2231.8 850L2226.8 850Z"/>
<path fill="none" stroke="#0000ff" stroke-width="12.8" stroke-linecap="round" d="M2230 839.6h0M2235.6 846.8h0M2229.9 853.9h0M2221.5 847.9h0"/>
<path fill="#9c9cff" d="M2042.5 200h1v16.5h-1zM2042.5 259.1h1v17.3h-1zM2042.5 309.6h1v12.1h-1zM2042.5 348.1h1v23.4h-1zM2042.5 384.9h1v16.9h-1zM2042.5 421.9h1v13h-1zM2042.5 458.4h1v10.8h-1zM2042.5 502.2h1v7h-1zM2042.5 528.7h1v12.3h-1zM2042.5 558.3h1v26h-1zM2042.5 621.8h1v27.3h-1zM2042.5 664.4h1v10.5h-1zM2042.5 697.4h1v18.2h-1zM2042.5 759h1v26h-1zM2042.5 829.4h1v6.4h-1zM2042.5 846.9h1v14.1h-1zM2042.5 888.2h1v6.2h-1zM2042.5 918.3h1v9.1h-1zM2042.5 972.3h1v11h-1zM2090 170h1v10.2h-1zM2090 224.1h1v8.7h-1zM2090 260.4h1v11.3h-1zM2090 291.6h1v29.9h-1zM2090 360h1v23.7h-1zM2090 407.9h1v29.5h-1zM2090 485.9h1v21.3h-1zM2090 526.3h1v7.2h-1zM2090 565.2h1v17.7h-1zM2191.3 160h1v30h-1zM2191.3 232.6h1v11.8h-1zM2191.3 293.8h1v20.7h-1zM2191.3 326.1h1v11h-1zM2191.3 385.4h1v25.1h-1zM2191.3 450.1h1v21.9h-1zM2191.3 482.9h1v28.5h-1zM2191.3 533.3h1v24.5h-1zM2191.3 589.4h1v17.7h-1zM2191.3 638.2h1v28h-1zM2191.3 709.6h1v15.5h-1zM2191.3 769.2h1v10.2h-1zM2191.3 803.4h1v13.7h-1zM2191.3 829h1v15.6h-1zM2191.3 854.7h1v29.2h-1zM2191.3 926.6h1v17.5h-1zM2191.3 956.6h1v12.3h-1zM2191.3 1009.8h1v13h-1zM2191.3 1036.6h1v3.4h-1zM2228.8 165h1v9h-1zM2228.8 199.1h1v19.4h-1zM2228.8 258.3h1v15.8h-1zM2228.8 323.7h1v12.1h-1zM2228.8 375.8h1v7.9h-1zM2228.8 430.3h1v19.1h-1zM2228.8 466.3h1v25.6h-1zM2228.8 537.2h1v9.1h-1zM2228.8 591.6h1v29h-1zM2228.8 644.9h1v25h-1zM2228.8 708.7h1v19.6h-1zM2228.8 753.8h1v13.5h-1zM2228.8 809.9h1v24.8h-1zM2228.8 882.5h1v7.6h-1zM2228.8 923h1v22.9h-1zM2228.8 964.6h1v6.5h-1zM2228.8 1016.8h1v24.7h-1z"/>
<path fill="none" stroke="#0000ff" stroke-width="12.8" stroke-linecap="round" d="M2240.2 1089.1h0M2236 1096.4h0M2248.7 1103.8h0M2202.4 1135h0M2206.4 1142.5h0M2041.7 1192.5h0M2038.4 1200.3h0M2048.2 1208.1h0M2247.8 1112.9h0M2253.8 1119h0M2039 1156.8h0M2087.9 1059.3h0M2079.6 1167.1h0M2084.3 1174.2h0M2070.1 1181.2h0M2265.5 1116.3h0M2135.5 1109.6h0M2192.9 1121.7h0M2188.4 1128.9h0M2259.2 1111.1h0M2108.3 1097.3h0M2114.3 1103.2h0M2054.8 1192.6h0M2048.3 1198.2h0M2265.6 1120.4h0M2166.2 1140.2h0M2115.8 1100.6h0M2122.1 1106.3h0M2204.4 1105.9h0M2200.7 1113.5h0M2028.5 1156.2h0M2022.3 1162.1h0M2156.7 1079h0M2131.4 1123h0M2137.7 1128.7h0M2118.8 1134.4h0M2194.4 1114.7h0M2161.7 1082.3h0M2208.1 1106.1h0M2019.3 1192.6h0M2020.8 1073.4h0M2206.3 1118.7h0M2202.3 1126.2h0M2214.5 1133.6h0M2057.3 1046.8h0M2059.1 1069.3h0M2057.9 1198.7h0M2255.8 1110.4h0M2250.7 1117.2h0M2250.7 1107.1h0M2226.6 1081.2h0M2033.4 1093.6h0M2103.7 1128.9h0M2110.1 1134.5h0M2233.9 1089.2h0M2229.6 1096.5h0M2136 1126.2h0M2141.2 1132.9h0M2125.4 1139.6h0M2189.1 1102.5h0M2193.7 1109.7h0M2193.7 1112.3h0M2197.3 1120h0M2215.7 1088h0M2076.9 1074.6h0M2070.6 1080.3h0M2151.8 1094.4h0M2147.6 1121.1h0M2143 1128.3h0M2142.5 1104.4h0M2147.4 1111.4h0M2067.2 1109.6h0M2072.9 1115.9h0M2155.9 1090.9h0M2162.4 1096.4h0M2143 1102h0M2104.1 1122.7h0M2108.7 1129.9h0M2095 1137h0M2036.7 1081.4h0M2041.4 1088.5h0M2246.1 1119.7h0M2188.2 1109.9h0M2191.6 1117.7h0M2129.3 1078.1h0M2124.1 1084.8h0M2156.5 1153.5h0M2152.1 1160.7h0M2117.8 1177.5h0M2114.2 1185.2h0M2193.6 1124.6h0M2198.1 1131.8h0M2184.4 1138.9h0M2195.4 1132.6h0M2046.1 1045.4h0M2076.8 1206.4h0M2071.8 1213.3h0M2187.3 1105.7h0M2093.5 1166.7h0M2087.9 1173.1h0M2230.3 1097.6h0M2236.1 1103.9h0M2068.9 1048.2h0M2064 1055.2h0M2059.1 1062.1h0M2047.3 1087.7h0M2051.7 1095h0M2038.6 1102.3h0M2171.1 1094.2h0M2174.7 1101.9h0M2025 1064.4h0M2028.5 1072.1h0M2235 1088h0M2087.3 1075h0M2200.4 1113.8h0M2194.6 1120h0M2211.9 1126.2h0M2143.5 1110.5h0M2148.7 1117.2h0M2100.9 1129.3h0M2085 1069h0M2099.1 1118.5h0M2159.7 1121.4h0M2162.8 1129.3h0M2022 1032.3h0M2058.7 1081.8h0M2063.5 1088.9h0M2049.2 1095.9h0M2137 1107.9h0M2185.7 1101.2h0M2179.6 1107.1h0M2197.9 1113h0M2145.1 1121.9h0M2168.2 1144.2h0M2211.3 1125.5h0M2205.3 1131.5h0M2139.2 1175.8h0M2155.2 1130.7h0M2159.3 1126.9h0M2155.8 1134.6h0M2114.5 1148.4h0M2179.8 1142.5h0M2176.4 1150.3h0M2084 1154.3h0M2079.2 1161.2h0M2230.8 1089.1h0M2235.8 1096h0M2220.7 1102.9h0M2148.2 1147.7h0M2145.1 1155.7h0M2208.6 1101h0M2213.4 1108h0M2199.2 1115.1h0M2241.1 1090h0M2234.6 1095.5h0M2204.8 1127.3h0M2198.9 1133.4h0M2158.4 1089.6h0M2120.7 1083.8h0M2115.3 1090.4h0M2130.2 1074.8h0M2124.7 1081.3h0M2141.2 1087.8h0M2050.6 1154.8h0M2056.5 1160.9h0M2205.7 1138.1h0M2209.6 1145.7h0M2213.5 1153.2h0M2265.6 1115.8h0M2131.6 1162.1h0M2127.1 1169.3h0M2186.9 1097.1h0M2190.1 1105h0M2180.5 1112.9h0M2124.5 1196.1h0M2152.2 1113h0M2113.5 1210h0M2199.2 1130.8h0M2144 1164.4h0M2148.1 1171.8h0M2043.3 1164.6h0M2048 1171.7h0M2034 1178.8h0M2025 1191.6h0M2018.9 1197.6h0M2230.1 1080.2h0M2235.1 1087.1h0M2179.2 1138.4h0M2184.7 1144.9h0M2236.6 1095.8h0M2230.4 1101.6h0M2220.6 1132h0M2216.2 1139.3h0M2029.6 1069.1h0M2211.9 1156.1h0M2193.3 1128.5h0M2109 1082h0M2104.2 1089h0M2118.7 1096h0M2244.6 1112h0M2101.4 1104.1h0M2106.8 1110.7h0M2157.3 1100.4h0M2151 1106h0M2144.6 1111.6h0M2152.9 1129.9h0M2149 1137.5h0M2027.7 1174.2h0M2022.4 1180.8h0M2269.3 1121.2h0M2263 1126.8h0M2039.1 1044h0M2045.1 1050h0M2081.9 1060.6h0M2232.4 1094.2h0M2236 1101.9h0M2189.6 1127.8h0M2194.7 1134.5h0M2065.4 1184.8h0M2113.7 1143.7h0M2069.9 1158.6h0M2063.8 1164.5h0M2067.7 1156.3h0M2170.2 1117.8h0M2023.9 1019.2h0M2244 1111.3h0M2119.6 1121.7h0M2115.1 1128.9h0M2227.1 1078.9h0M2222.4 1085.9h0M2217.7 1093h0M2207.8 1093.4h0M2178.5 1088.6h0M2222.5 1086.9h0M2228.1 1093.3h0M2066.8 1113.9h0M2062.7 1121.4h0M2142.6 1164.7h0M2148 1171.2h0M2131.8 1177.8h0M2266.6 1121.8h0M2198.7 1109h0M2133.3 1145.3h0M2127.7 1151.7h0M2144.4 1158.1h0M2226.5 1095.8h0M2188.8 1113h0M2183.8 1119.9h0M2178.8 1126.7h0M2257.9 1125.8h0M2254.3 1133.5h0M2183 1106.7h0M2156.9 1143.7h0M2198.6 1120.5h0M2194 1127.7h0M2085.8 1065h0M2080.1 1071.2h0M2125.6 1097h0M2131.4 1103.3h0M2123 1126.9h0M2117.2 1133.1h0M2216 1107.9h0M2261.7 1123.3h0M2209.8 1091.4h0M2071.1 1076.5h0M2195.7 1097.6h0M2199 1105.5h0M2025.1 1188h0M2022 1195.9h0M2031.4 1203.8h0M2198 1113.1h0M2033.8 1024.7h0M2129.8 1097.8h0M2135.5 1104.1h0M2252.5 1124.1h0M2215.1 1102.6h0M2176.1 1091.4h0M2259.1 1115.5h0M2236.5 1086.1h0M2231 1092.6h0M2202.4 1141h0M2230.5 1097.1h0M2234 1104.9h0M2027.8 1055.1h0M2269.3 1120h0M2198.9 1114.9h0M2193.4 1121.3h0M2022.9 1170.3h0M2217.3 1115.9h0M2116.3 1060.6h0M2250.8 1119.1h0M2235.1 1086.6h0M2231.7 1094.3h0M2228.2 1102.1h0M2138.5 1078.4h0M2150.4 1093.9h0M2155.6 1100.7h0M2265.4 1115h0M2047.5 1131.1h0M2267.8 1118.7h0M2262.9 1125.6h0M2179.3 1118.9h0M2184.3 1125.8h0M2220.1 1102.2h0M2224.4 1109.6h0M2211.5 1116.9h0M2201.3 1120.9h0M2206.1 1127.9h0M2035 1038.3h0M2029.4 1044.7h0M2023.8 1051.1h0M2113.3 1067.4h0M2250.9 1109.2h0M2110.2 1140h0M2232.7 1094.9h0M2237.1 1102.2h0M2224 1109.5h0M2111.3 1175.9h0M2106.4 1182.9h0M2101.4 1189.8h0M2078.6 1099.7h0M2073 1106.1h0M2111.7 1103h0M2090.3 1119.2h0M2239.6 1113.5h0M2152.2 1132.2h0M2157.6 1138.7h0M2163 1145.3h0M2086 1087.1h0M2077 1096.7h0M2070.9 1102.6h0M2018.4 1112.6h0M2022.8 1119.8h0M2213.6 1127.9h0M2209.8 1135.5h0M2037.1 1107h0M2042.8 1113.3h0M2048.4 1119.7h0M2110.9 1174.8h0M2114.3 1182.5h0M2181.4 1090.2h0M2158.8 1139.4h0M2164.1 1146h0M2124.7 1123.7h0M2131 1129.4h0M2158.3 1082.9h0M2161.9 1090.6h0M2192.1 1103.5h0M2222.4 1081.9h0M2226 1089.6h0M2215.4 1097.3h0M2155.3 1154.9h0M2149 1160.6h0M2168 1166.3h0M2178.2 1132.3h0M2172.7 1138.7h0M2127.2 1138.9h0M2222.9 1135.4h0M2128.6 1189.2h0M2123.4 1195.9h0M2118.1 1202.6h0M2093.8 1204.7h0M2088 1210.9h0M2242.4 1082.9h0M2076.1 1125.8h0M2118.4 1073h0M2112.2 1078.8h0M2130.7 1084.7h0M2031.3 1115.1h0M2027.8 1122.9h0M2024.3 1130.6h0M2101.3 1066.7h0M2119.4 1098.9h0M2114.3 1105.7h0M2027.7 1136.7h0M2220.8 1123.9h0M2214.6 1129.7h0M2208.4 1135.5h0M2153 1174.9h0M2034.4 1068.9h0M2040.5 1074.8h0M2061.8 1197.9h0M2066.1 1205.2h0M2070.5 1212.5h0M2192.5 1119.1h0M2150.8 1081.3h0M2156.1 1088h0M2262.1 1114.8h0M2076.9 1052.6h0M2071.3 1058.9h0M2265.5 1115.2h0M2259.9 1121.6h0M2048.4 1216.5h0M2097.6 1213.1h0M2121.8 1210h0M2135 1208h0M2023.7 1199.9h0M2177.5 1163.5h0M2208.8 1148.3h0M2208.8 1160.5h0M2220.9 1164.1h0M2259.4 1139.2h0M2220.9 1119h0M2208.8 1129.1h0M2196.7 1128.1h0M2035.9 1089.7h0M2057.1 1079.6h0M2022.7 1061.4h0M2022.7 1069.4h0"/>
<path fill="#8c8cff" d="M1199.8 858h2.8v3.7h-2.8zM1105.5 604h2.8v2.4h-2.8zM1051.1 931.3h1.3v2.2h-1.3zM1204.5 840.9h2.8v2.4h-2.8zM1173.2 944.4h1.9v3.3h-1.9zM1107.3 779.3h2.3v2.8h-2.3zM982.7 648.8h2v4.3h-2zM1082.3 845.2h2.9v3.8h-2.9zM1013 951.4h1.3v2.9h-1.3zM985.6 878.2h2.3v1.6h-2.3zM954.5 593h3v4.3h-3zM1162.9 877.7h1.5v3.4h-1.5zM1051.7 852h1.6v1.7h-1.6zM1161.1 515.3h2.9v3.6h-2.9zM1178.6 508.6h2v1.6h-2zM994.6 500.6h2.2v4.5h-2.2zM1040.6 955h3v3.9h-3zM959.7 691.9h2.7v2.4h-2.7zM1177.8 530.8h2v3.1h-2zM979.1 514.6h2.2v1.9h-2.2zM1098 898.9h2.2v3.1h-2.2zM1013.9 797.5h1.7v2.6h-1.7zM1194.2 496.7h1.4v1.7h-1.4zM1180.1 390.7h2.9v3.1h-2.9zM1112.3 932.9h1.3v3.2h-1.3zM969.2 600.6h1.4v3.4h-1.4zM1072.6 905h1.9v3.8h-1.9zM1033.9 503.1h3.1v3.8h-3.1zM1083.5 465.2h1.9v1.7h-1.9zM1001.1 712.8h1.2v1.7h-1.2zM1160.4 403.4h2.5v3h-2.5zM970.1 584.7h2.5v2.6h-2.5zM1105.1 722.2h3.1v4h-3.1zM960 608.2h2.5v2.1h-2.5zM980.2 817.3h2.8v2.5h-2.8zM971.5 679.4h3.2v3.1h-3.2zM1085.7 459.2h1.5v3h-1.5zM1076.2 465.8h1.3v4.2h-1.3zM1165.8 835.4h1.9v3.6h-1.9zM1137.2 449.9h2.1v1.9h-2.1zM1051.1 620.6h1.9v3.5h-1.9zM1292 902.1h2.2v2.4h-2.2zM1324.9 472.5h1.7v3.7h-1.7zM1343.5 331.5h2v3.6h-2zM1325.7 477h1.3v2.2h-1.3zM1381.4 422.5h2.7v3.5h-2.7zM1374.5 454.8h2v3.5h-2zM1383.1 573.8h1.8v3.9h-1.8zM1445.8 904.9h1.9v2.3h-1.9zM1416.5 943.5h2.9v2.8h-2.9zM1475.4 919.4h1.4v2.7h-1.4zM1378.4 884.4h3v3.8h-3zM1433.6 897.8h1.5v2.8h-1.5zM1421 942.3h2.1v2.2h-2.1zM1408.2 959.2h3.1v2.6h-3.1zM1540 621.4h2v1.6h-2zM1598.8 944.3h2.7v2.8h-2.7zM1567.5 528.6h1.2v3.1h-1.2zM1612.2 838.5h2v2.2h-2zM1519.1 572.1h2.8v3.2h-2.8zM1484.9 864.1h1.6v3.8h-1.6zM1552.5 300.8h2.5v3.4h-2.5zM1493.2 779.4h2.2v4h-2.2zM1600.5 588.7h1.9v3.4h-1.9zM1556.8 890.9h1.7v4.3h-1.7zM1505.1 552.7h2v2.5h-2zM1578.2 438.5h2v3.7h-2zM1600 435.8h2.9v2.4h-2.9zM1559.3 749h2.1v2.9h-2.1zM1598.2 452.5h2.2v2.5h-2.2zM1596.9 838h2.4v3.6h-2.4zM1607.5 769.9h2.9v2.7h-2.9zM1565 480.2h2.8v3.2h-2.8zM1514.2 681.4h1.8v4.4h-1.8zM1539.4 465.1h1.6v4.2h-1.6zM1566.7 933.6h2.4v3.8h-2.4zM1522.1 399.1h2.6v3.7h-2.6zM1483 624.2h1.2v2.1h-1.2zM1585.5 403.4h2.7v2.9h-2.7zM1795.7 303.4h2.6v2.3h-2.6zM1850.9 545.6h1.5v3h-1.5zM1683.8 792.2h2.4v3.7h-2.4zM1726.9 550h1.5v2.3h-1.5zM1753 398.8h1.7v1.6h-1.7zM1735 645h1.4v4.1h-1.4zM1683.6 738.5h2.9v3.2h-2.9zM1851 426.8h1.3v3h-1.3zM1884.4 982.8h3v4.1h-3zM1664.1 588h3.1v1.7h-3.1zM1650.6 581.9h3.1v4.3h-3.1zM1702.3 525.3h1.6v2.8h-1.6zM1649.4 634.2h1.6v3.4h-1.6zM1658.6 484.3h3.1v2.4h-3.1zM1785.5 642.9h3v2.5h-3zM1743.1 975.3h1.4v1.7h-1.4zM1854.5 669.7h2.3v2.9h-2.3zM1735.2 621.4h1.5v1.8h-1.5zM1781 407.9h1.2v3h-1.2zM1659.1 944.7h2.7v4.4h-2.7zM1797.6 737.6h3v4.4h-3zM1656.9 978.1h2.9v2.4h-2.9zM1869 369.9h1.6v1.6h-1.6zM1792.1 513.9h1.7v2.5h-1.7zM1722.8 425.5h1.7v4h-1.7zM1644.8 644.9h2.9v3.5h-2.9zM1644.7 392.8h1.8v3.6h-1.8zM1731.9 454.6h2v3.6h-2zM1758.9 653h2.5v3.6h-2.5zM1862.3 946.2h1.8v3.4h-1.8zM1745.9 401.8h2.3v1.6h-2.3zM1786.4 754.2h2.6v2.2h-2.6zM1666.4 473.2h1.4v2h-1.4zM1883.4 364.2h3v4.3h-3zM1873.7 566.8h1.9v3.2h-1.9zM1877.7 675.7h2.5v3.5h-2.5zM2039.4 996.1h1.6v3.1h-1.6zM2138.7 512.8h1.6v3.3h-1.6zM2074.7 466.1h2.6v2h-2.6zM2081.5 996.2h3v2h-3zM2121 552.2h1.5v3h-1.5zM2107.6 1049.4h2.3v4.3h-2.3zM2154.4 868.4h2.2v2.5h-2.2zM2230.1 713.2h1.4v4.2h-1.4zM2099.9 645h2.1v3.1h-2.1zM2208.5 505.6h2.6v4.1h-2.6zM2048.7 401.9h1.6v1.9h-1.6zM2247.9 645.9h1.7v2.2h-1.7zM2176.2 339.9h1.3v3.2h-1.3zM2056.2 441.4h1.7v2.3h-1.7zM2193.7 446.1h2.7v1.6h-2.7zM2197.9 368.8h1.6v3.5h-1.6zM2035 940.6h3.2v2.4h-3.2zM2091.9 415.5h2.3v2.8h-2.3zM2106.2 479.9h1.8v2.1h-1.8zM2021.1 470.4h1.9v1.8h-1.9zM2057.3 572.2h2.8v3.9h-2.8zM2057.7 945.4h3v3.8h-3zM2024.6 560.3h2.9v4.2h-2.9zM2136.4 365.2h1.6v4.5h-1.6zM2191.2 370.1h2.5v3.5h-2.5zM2164.3 597.3h1.6v2.7h-1.6zM2162.7 630.5h1.8v2.9h-1.8zM2144.4 857.3h3.1v1.8h-3.1zM2250.9 499.2h1.9v1.8h-1.9zM2059.7 1008.5h1.8v1.9h-1.8zM2042.7 309.4h1.6v4.4h-1.6zM2264.9 950.2h2.6v1.5h-2.6zM2140 539.9h3.1v2.6h-3.1zM2158.6 740.5h3.1v2.4h-3.1zM2070.6 487.6h1.7v3.7h-1.7zM2141.7 213.8h1.3v1.8h-1.3zM2052.7 322.7h1.4v3.9h-1.4zM2025 264.3h2v3.3h-2zM2160.5 807.9h2.9v1.8h-2.9zM2088.4 652.9h1.9v4.1h-1.9zM2034.8 709.3h1.5v3.7h-1.5zM2120.3 964.3h3v3.9h-3zM2024.3 419.4h3.2v2.6h-3.2zM2118.9 998h2.5v3.2h-2.5zM2147.2 211.9h1.3v4.2h-1.3zM2262.1 818.5h1.6v2.5h-1.6zM2109.6 807h2v2h-2zM2025.8 461.5h1.3v1.9h-1.3zM2187 518.2h2.4v3.1h-2.4zM2231.6 613.5h3.1v1.6h-3.1zM2153.6 182.6h1.8v3.7h-1.8zM2090.1 333.1h2v3h-2zM2202.8 688.7h1.2v3.2h-1.2z"/>
<path fill="#b0b0ff" d="M1016.1 716.4h1.9v3.6h-1.9zM1088.2 927.5h3.2v4.3h-3.2zM954.1 713.5h2.2v3.3h-2.2zM981.9 810.2h1.9v3.8h-1.9zM1040.2 853h1.7v2.6h-1.7zM990 540.2h2.6v2.1h-2.6zM1053 904.1h2.8v2.9h-2.8zM961 613.7h1.4v4.3h-1.4zM1001.9 865.7h1.5v2.9h-1.5zM1150.8 637.8h2.2v3.5h-2.2zM1069.2 508.3h1.9v3.3h-1.9zM1154.8 592.3h2.4v3.6h-2.4zM1143.4 739.9h1.3v3.1h-1.3zM987.2 530h2.9v4.3h-2.9zM1172.3 875.7h3.1v3.3h-3.1zM1158.8 569.3h1.5v1.5h-1.5zM1050.4 797.9h3v3.3h-3zM997.8 746.5h1.8v2.6h-1.8zM1107.4 575.9h3v2.9h-3zM1074.9 910.9h3.2v1.5h-3.2zM975.4 878.8h2.5v2.5h-2.5zM1161.7 469.4h2.3v3.8h-2.3zM1110.4 545.8h1.3v4.2h-1.3zM1112.6 856.4h2v2.3h-2zM976.8 808.6h3.1v3.4h-3.1zM1160.8 387.4h2v4.4h-2zM969.9 918.5h3.1v3.9h-3.1zM1203.9 858.7h2.1v1.8h-2.1zM1094.3 637.7h2.1v3.2h-2.1zM1000 857.1h3v2.1h-3zM1092.4 796.2h3.2v1.6h-3.2zM1101.1 552.4h2.6v3.5h-2.6zM1063 465h2.1v4.4h-2.1zM938.4 589h2.3v3.3h-2.3zM937.8 942h2.5v2.2h-2.5zM1138.4 869.6h3.1v3.6h-3.1zM1138.1 864.3h2.2v2.8h-2.2zM1343 788.3h3.1v2.7h-3.1zM1293.5 736.6h2v1.9h-2zM1314.2 542.6h2.8v3.4h-2.8zM1301 711.9h2v2.9h-2zM1321.9 635.6h1.6v2.5h-1.6zM1329.8 947h2.6v2.5h-2.6zM1310.4 871.3h1.5v3h-1.5zM1427.7 589.9h2.1v3.4h-2.1zM1425.4 334.4h1.4v3.9h-1.4zM1381.7 456.5h2.6v2.1h-2.6zM1378.9 585.6h2.7v3h-2.7zM1416.5 433.2h2.4v4h-2.4zM1387 463.6h1.9v3.8h-1.9zM1407.1 345.1h3v1.8h-3zM1371.9 934.1h2.6v2.6h-2.6zM1607.3 704.9h1.6v3h-1.6zM1496.3 693.7h1.4v2.8h-1.4zM1543.7 702.3h2.4v4h-2.4zM1491.4 903h1.6v1.7h-1.6zM1565.8 954.2h1.7v3h-1.7zM1549.8 826.4h2.2v2.2h-2.2zM1509.7 676h3v2.3h-3zM1505.5 365.6h2.3v1.7h-2.3zM1489.1 915.1h3v2.3h-3zM1530.3 702.9h1.3v3.8h-1.3zM1600.1 751.5h2.9v1.9h-2.9zM1612.9 900.3h2.8v4h-2.8zM1481.1 307.4h1.3v2.8h-1.3zM1599 449.4h2.6v2.1h-2.6zM1533.5 449.9h1.3v3.9h-1.3zM1590 521.7h1.4v1.6h-1.4zM1588.5 624h2.6v4.5h-2.6zM1499.7 432.8h2v4.4h-2zM1584.8 797.7h2.8v3.2h-2.8zM1479.6 445.9h1.9v4.1h-1.9zM1550.8 688.1h1.6v2.9h-1.6zM1606.3 541.3h3v4.2h-3zM1596 909.6h1.7v4h-1.7zM1595.8 952h2v3.6h-2zM1553.1 858.3h2.7v4.3h-2.7zM1532.9 352.2h2.2v2.4h-2.2zM1752.4 256.7h3.2v3.3h-3.2zM1777.6 415.2h2.2v4.5h-2.2zM1844.9 515.3h1.8v1.7h-1.8zM1861.4 620.8h1.7v3.1h-1.7zM1649.5 910.2h1.8v3.8h-1.8zM1763.8 831h3v3h-3zM1710.9 978.2h3v2.2h-3zM1804.6 905.8h1.2v2.9h-1.2zM1679.7 991.8h3.1v3.8h-3.1zM1797.5 521.2h1.9v2.7h-1.9zM1745.5 261.3h2.7v2.6h-2.7zM1711.7 454.5h3.1v4.4h-3.1zM1807.3 694.5h2.7v2.5h-2.7zM1729.5 958.2h2.9v3.1h-2.9zM1662.4 860.9h1.8v2.5h-1.8zM1717.7 546.3h1.7v3.2h-1.7zM1841.8 503.2h3v1.5h-3zM1754.9 691.7h2.1v4.1h-2.1zM1702.4 299.1h2.1v3.2h-2.1zM1740.2 687.7h2v3.7h-2zM1672.4 784.8h1.9v3h-1.9zM1802 293.2h2.4v3.7h-2.4zM1742.5 364.6h1.6v2.8h-1.6zM1724.7 901.1h2.1v4.2h-2.1zM1676.3 881.1h2.1v3.7h-2.1zM1715.9 478.5h1.5v3h-1.5zM1802.2 730.3h2v4.1h-2zM1774 365.4h2.2v2.2h-2.2zM1707 417.2h1.5v2.8h-1.5zM1805.8 904.7h2.6v1.7h-2.6zM1738.2 841.8h3v3.8h-3zM1734.4 607.7h2.6v2.1h-2.6zM1809 347.3h2.2v1.9h-2.2zM1754 430.1h1.4v4.5h-1.4zM1672.1 644.2h1.8v2.4h-1.8zM1874.2 267.2h2.1v2h-2.1zM2201.6 819.7h2.8v3.9h-2.8zM2147.2 330.6h2.7v3.1h-2.7zM2095.6 264.1h2.2v4.2h-2.2zM2176.2 301.4h2.3v3.4h-2.3zM2159.2 393.9h1.4v3.8h-1.4zM2100.5 364.6h2.8v3.8h-2.8zM2058.6 295.8h2.4v4.1h-2.4zM2093.1 527h2.1v2.1h-2.1zM2066.9 1038.1h3.2v2h-3.2zM2073.3 416.4h1.6v3.4h-1.6zM2195.8 544.3h2.9v2.4h-2.9zM2121.4 574.7h1.5v2.4h-1.5zM2098.8 810.1h3v3.3h-3zM2042.5 275.1h3.1v3.2h-3.1zM2153.8 391.5h1.6v3.1h-1.6zM2114.7 622.8h1.6v2.8h-1.6zM2111.6 967.6h1.4v1.6h-1.4zM2157.8 771.7h1.4v1.7h-1.4zM2044.7 1016.1h1.9v4.3h-1.9zM2264.8 459.9h1.4v1.9h-1.4zM2076.6 870.7h2.6v4.1h-2.6zM2050.4 748.2h2.1v3.9h-2.1zM2246.9 234.2h3v1.8h-3zM2062.7 369.3h1.9v2h-1.9zM2220.6 471.4h3v2.7h-3zM2240.4 427.9h3.2v2.4h-3.2zM2247.6 234.3h1.9v2.5h-1.9zM2041.1 378.7h2.9v2.8h-2.9zM2214.9 183.6h2.6v4.1h-2.6zM2251.2 929.5h1.5v1.6h-1.5zM2255.6 171.1h3.1v2.4h-3.1zM2142.4 813.1h1.8v1.6h-1.8zM2129.3 443.7h1.3v2.7h-1.3zM2066.1 397.4h2.8v3.6h-2.8zM2131.9 287.1h2.2v2.6h-2.2zM2061.9 469.2h2.4v3.4h-2.4zM2062.2 471.8h1.6v4h-1.6zM2059.8 293.1h2.9v3.2h-2.9zM2085.7 340.2h2.2v1.7h-2.2z"/>
<path fill="#d8d8ff" d="M1029.6 517.6h1.6v3.3h-1.6zM1081.4 761.8h3v4.4h-3zM1010.1 524h2.5v4.5h-2.5zM1176.9 792.8h1.2v2h-1.2zM1177.2 803.7h2.8v3.8h-2.8zM1028.4 959.1h2.7v1.6h-2.7zM1060.6 730h1.7v4.3h-1.7zM1008.9 833.6h1.8v3h-1.8zM1114.6 776.6h2.6v3.7h-2.6zM1102.4 409.9h3v3.6h-3zM991.7 543.7h3v2.3h-3zM1109.8 746.4h2.5v1.7h-2.5zM1149 571h1.7v4.1h-1.7zM959 749.3h1.3v2.9h-1.3zM1052.6 482.9h1.3v3.3h-1.3zM1062.7 830.7h1.7v2.8h-1.7zM1003.9 584.8h2.1v2.3h-2.1zM1154.8 827.6h1.4v2.3h-1.4zM951.5 580.2h2.7v3.6h-2.7zM1039.9 754.5h2.7v4.3h-2.7zM1099.6 530.3h1.5v3.2h-1.5zM1009.1 824.1h1.6v4.5h-1.6zM1198.4 924.2h1.3v2.4h-1.3zM943.9 542.4h2.9v2.1h-2.9zM985.4 530.6h2.9v2.5h-2.9zM973.6 501.6h1.5v3.1h-1.5zM1090.8 484.5h1.9v3.2h-1.9zM968 942.9h1.5v2.1h-1.5zM937.1 830.2h2.6v3.6h-2.6zM1202 787.5h1.4v2.1h-1.4zM939.1 765.5h2.3v3.5h-2.3zM1044.2 628.1h2.4v1.8h-2.4zM1314.9 657h1.9v2h-1.9zM1334.5 943.1h3v3.3h-3zM1305.3 529.9h3v1.8h-3zM1300.6 912.6h2.8v2.2h-2.8zM1294.5 705h1.4v1.7h-1.4zM1306.5 368.4h3v3.9h-3zM1296.9 758.3h1.5v3.9h-1.5zM1307.8 670.5h1.9v2.8h-1.9zM1423.6 559.3h2.9v1.6h-2.9zM1429.4 373.1h2.1v1.8h-2.1zM1387.1 501.1h2.6v1.7h-2.6zM1437.9 542.3h3v2.5h-3zM1429.1 957.6h2.9v1.9h-2.9zM1381 922.5h2v4h-2zM1599.8 767.5h3.1v1.9h-3.1zM1525.3 370.2h2.4v2.8h-2.4zM1584.9 464.1h1.6v1.8h-1.6zM1509.7 672.6h2.8v4.1h-2.8zM1546.7 927.8h2v2.3h-2zM1569 504h3.2v4.3h-3.2zM1601.9 861.8h2.1v3h-2.1zM1492.7 546.9h1.4v3.5h-1.4zM1566.6 309.1h2v1.6h-2zM1583.1 415.7h2.6v1.6h-2.6zM1560.9 948.4h1.9v2.1h-1.9zM1594.3 652.7h1.6v1.9h-1.6zM1544.6 444.8h2.7v1.7h-2.7zM1525 537.1h1.6v3.6h-1.6zM1539 633.8h1.7v4.2h-1.7zM1505.4 505.3h2.1v3.1h-2.1zM1548.1 606h2.5v4.2h-2.5zM1535.5 856.4h2.1v3.2h-2.1zM1491.8 879.6h1.3v2.4h-1.3zM1482.9 322.3h2.9v1.6h-2.9zM1534.9 714.4h2v4.4h-2zM1516 579.1h3v1.9h-3zM1560.4 391.8h2.9v2.1h-2.9zM1583.2 625.6h3.2v3.6h-3.2zM1526.2 883h2.7v3.5h-2.7zM1597.2 773.6h2.2v1.8h-2.2zM1548.3 527.4h3.2v3.8h-3.2zM1531 582h1.2v1.7h-1.2zM1504.1 549.4h2.4v3.6h-2.4zM1536.5 918.6h1.3v2.6h-1.3zM1527.8 830.2h1.3v4.5h-1.3zM1612.6 806h2.9v2.7h-2.9zM1559 737.6h2.6v1.7h-2.6zM1534.4 872.6h2v3.4h-2zM1572.6 721.5h2.4v2.1h-2.4zM1537.6 891.3h1.4v4.4h-1.4zM1488.9 688.7h3.1v4.5h-3.1zM1595.3 820.9h3v4.2h-3zM1537.4 789.6h1.6v2.5h-1.6zM1657.4 990.3h2.6v1.7h-2.6zM1858 615.6h1.4v3.7h-1.4zM1705.3 904.8h3.1v2.7h-3.1zM1749.1 270.6h2.6v2.6h-2.6zM1732.7 542.9h1.9v3h-1.9zM1749.1 966.3h2.4v2.3h-2.4zM1817.9 462.7h2.9v2.2h-2.9zM1728.4 851.7h2.6v2.2h-2.6zM1708.9 815h3v2.7h-3zM1690 636.8h2v4h-2zM1892.7 820h2.5v2.3h-2.5zM1695.1 463h2.5v1.9h-2.5zM1770 401.9h2.1v2.1h-2.1zM1705.4 805.1h2.5v4.5h-2.5zM1666.9 969.2h2.2v2.9h-2.2zM1893.6 668.6h1.6v3.9h-1.6zM1701.2 306.7h2.1v3.1h-2.1zM1744.9 492.8h3.1v4.2h-3.1zM1805.1 985.7h2.5v4.4h-2.5zM1761 393.3h2v1.8h-2zM1684.1 759.5h2.2v1.8h-2.2zM1652.3 916.8h3v1.8h-3zM1698.4 960.8h3.1v2.3h-3.1zM1705.7 856.2h2.9v3.2h-2.9zM1675.8 921h2.7v1.6h-2.7zM1703.8 485.2h2.1v3.8h-2.1zM1882.6 344h1.3v3.7h-1.3zM1646.5 306.9h2.8v2.9h-2.8zM1840.5 454.9h3.1v3.7h-3.1zM1749.5 743h1.6v3.3h-1.6zM1774.9 952.3h2.8v1.8h-2.8zM1727.6 474.9h3.1v4h-3.1zM1726.1 472.8h1.6v2.2h-1.6zM1831 587.5h1.6v1.9h-1.6zM2208.5 437.2h1.6v2.3h-1.6zM2232.4 406.6h2v2.2h-2zM2243.9 636.5h2.5v1.8h-2.5zM2219.7 872.1h1.6v3.8h-1.6zM2144.1 894.2h2.8v1.5h-2.8zM2263.9 208.1h1.9v2.9h-1.9zM2171.9 994.7h2.9v2h-2.9zM2129.6 1039h1.6v3.2h-1.6zM2110.3 996.3h1.8v2.5h-1.8zM2130 244.6h2.3v3.1h-2.3zM2124 325.5h1.8v2.3h-1.8zM2175 835.2h1.6v2.6h-1.6zM2215.4 214.5h2.8v4h-2.8zM2105.1 1034h2.4v2.7h-2.4zM2254.1 845.4h3v4.2h-3zM2198.6 458.5h2.7v4.1h-2.7zM2158.2 416.2h2.6v3.1h-2.6zM2102 984.2h1.9v2.2h-1.9zM2242.7 492h3v2.9h-3zM2122.1 404.6h1.6v2.8h-1.6zM2158.5 830.4h1.8v2.9h-1.8zM2175.9 478.1h1.4v2.3h-1.4zM2119.7 915.7h1.7v2.6h-1.7zM2120.3 928.2h1.7v4.3h-1.7zM2074 401.9h2.6v1.6h-2.6zM2163.6 957.3h3.1v2.2h-3.1zM2247.6 407.9h2.8v3.3h-2.8zM2261.4 478.2h1.5v4.1h-1.5zM2075.4 1026.2h1.3v1.7h-1.3zM2257.8 270.4h2.5v3.9h-2.5zM2264 1032h1.4v1.9h-1.4zM2166 684.6h2v3.2h-2zM2062.1 1019h2v3.7h-2zM2039.2 719.8h2v2.8h-2zM2181 485.2h1.6v3.3h-1.6zM2185.8 808.5h1.8v3.5h-1.8zM2219 519.5h1.4v3.3h-1.4zM2166.7 544.3h1.9v2.8h-1.9zM2234.8 738.1h2.2v1.5h-2.2zM2226.4 186.2h2v2.2h-2zM2085.5 522.4h2.8v2.6h-2.8zM2160.3 593h1.9v3.6h-1.9zM2162.5 900.5h1.6v2.2h-1.6zM2141.8 907h1.6v1.9h-1.6zM2154.6 723.7h2.6v3.3h-2.6zM2087.3 597.4h2.9v3.9h-2.9z"/>
<path fill="#ffffff" d="M1158.9 866.9h1.5v4.1h-1.5zM988.6 906.9h2.8v4.2h-2.8zM1151 860.2h2v2.7h-2zM1008.7 739.4h2.4v3.2h-2.4zM1080.7 863.8h1.3v3.4h-1.3zM1184.3 844.6h2.6v4.4h-2.6zM1111.3 943.6h3.1v3.9h-3.1zM1186.8 939.9h1.3v3.8h-1.3zM1087.4 870.2h1.7v3.5h-1.7zM1104.4 769.1h2.2v3h-2.2zM1180.7 853.1h1.6v4.5h-1.6zM985.7 799h2v3.8h-2zM1144.7 613.3h2.8v2.6h-2.8zM1055.1 731.4h1.8v3.3h-1.8zM937.5 706.2h3.2v4h-3.2zM992.2 635h1.4v3.5h-1.4zM957.7 859.7h1.7v2.2h-1.7zM1148.5 836.1h2.8v3.2h-2.8zM984 595.8h2.5v4.2h-2.5zM1008.9 572.2h2.8v3.9h-2.8zM942.1 689.2h1.7v2.7h-1.7zM993.5 832.9h2.6v3.1h-2.6zM1104.7 595.3h2.7v4h-2.7zM1017.8 826.1h2v1.9h-2zM1183.4 536.6h2.2v2.5h-2.2zM1048.3 547.5h1.3v3.9h-1.3zM1179.9 634.5h1.3v1.7h-1.3zM1115.3 698.6h1.9v3h-1.9zM983.6 609.1h2.3v2h-2.3zM1017.5 665.6h1.9v2.4h-1.9zM1024.6 594.8h1.5v3.2h-1.5zM1105.1 589.1h1.9v2.3h-1.9zM1169 604.5h2.7v2.5h-2.7zM1176.4 944h3.1v4.5h-3.1zM1110.5 463.5h1.4v1.8h-1.4zM1079.8 826.7h2.1v1.7h-2.1zM986.1 741.7h1.6v2.5h-1.6zM1171 735.1h1.6v2.1h-1.6zM1140.4 478.6h1.9v3h-1.9zM1119 769.7h2.7v2.2h-2.7zM1319.7 455.5h1.9v2.9h-1.9zM1313.5 844.9h3.1v4.3h-3.1zM1318 384.8h3v2.4h-3zM1291 627h2.5v4.2h-2.5zM1330.5 911.8h3v1.8h-3zM1340.4 384.7h1.2v1.8h-1.2zM1444.9 421.5h1.8v3.4h-1.8zM1412.1 363.3h2.4v3.9h-2.4zM1381.9 383.7h1.3v3.5h-1.3zM1385.6 431.6h2.9v3.6h-2.9zM1375 453.5h2.7v2.9h-2.7zM1421.2 432.5h2.4v3.3h-2.4zM1411 899.9h1.9v3.3h-1.9zM1409.6 945.3h1.7v3.6h-1.7zM1547.1 358.4h2.5v1.8h-2.5zM1610.7 812.5h2.1v2.9h-2.1zM1475 514.1h2.7v2.5h-2.7zM1482.2 708.6h2.4v3.7h-2.4zM1549.4 311.6h2.4v2h-2.4zM1612.5 785.6h1.3v2.7h-1.3zM1614.1 406.7h2.7v4h-2.7zM1599.7 757.9h2.6v3.6h-2.6zM1512.5 415.5h1.5v4.1h-1.5zM1562.6 783.2h1.2v2.7h-1.2zM1567.8 290.1h1.8v1.9h-1.8zM1507 540.7h2.6v4.1h-2.6zM1479.4 487.3h2.2v3.2h-2.2zM1582.7 273.2h1.8v2.1h-1.8zM1514 557.9h1.6v3.7h-1.6zM1597.3 484.5h1.5v2.8h-1.5zM1579.8 287.4h2.5v3.3h-2.5zM1606.5 386.8h1.5v3.8h-1.5zM1476.5 970.1h1.6v1.8h-1.6zM1600.4 980.5h2.2v3.1h-2.2zM1476.6 920.7h2.5v1.9h-2.5zM1902.3 582h2.2v2h-2.2zM1885.3 906.3h1.6v1.8h-1.6zM1684.3 380.1h3v2.6h-3zM1735 971.8h1.6v1.7h-1.6zM1654.2 648.1h1.6v1.6h-1.6zM1679.8 755.7h1.6v4.4h-1.6zM1722.2 294.5h3.1v2.4h-3.1zM1866.6 811.4h1.4v4.1h-1.4zM1659.9 900.5h1.4v2.2h-1.4zM1727.8 263.4h2.4v3.1h-2.4zM1723.2 279.8h1.2v3.4h-1.2zM1664.3 730h2.2v3.2h-2.2zM1676.5 559.7h2.4v3.1h-2.4zM1664.4 555.7h1.9v2.8h-1.9zM1747.7 672.2h2.8v3.7h-2.8zM1750 358.8h3.1v3.6h-3.1zM1827.1 630h2.3v4.1h-2.3zM1752.3 859.5h1.4v1.6h-1.4zM1793.4 795.9h2.7v2h-2.7zM1793.7 344.2h2.5v4.1h-2.5zM1672.8 842h3.1v3h-3.1zM1773.4 710.1h1.3v1.9h-1.3zM1766.4 489.8h2.8v1.7h-2.8zM1723.8 493.9h3.2v4h-3.2zM1684.1 895.7h2.7v2.8h-2.7zM1887.6 697.4h2.7v3.1h-2.7zM1717 388.7h1.6v2.3h-1.6zM1702.9 655.7h1.8v3h-1.8zM1801.2 823.4h1.8v2.4h-1.8zM1824.5 400.1h2.5v1.5h-2.5zM1707.2 291.7h1.3v2.1h-1.3zM1758.6 678.9h2.2v4.1h-2.2zM1823.8 403.2h2.9v3.1h-2.9zM1757.1 904.8h1.3v4.5h-1.3zM1794.7 635.7h1.3v3.8h-1.3zM1877.2 705.6h2.8v3.4h-2.8zM1722.6 823.2h1.3v1.6h-1.3zM1719.5 522.7h1.8v3.9h-1.8zM1728.3 942.3h1.9v4.3h-1.9zM1741.7 958.3h2v1.8h-2zM1804.4 510.2h1.4v2.1h-1.4zM1661.4 756.4h2.8v3.2h-2.8zM1685.4 267.5h1.9v1.6h-1.9zM1858 824h2.9v1.6h-2.9zM2211.1 906.2h2.6v4.4h-2.6zM2230.5 834.9h1.9v2.5h-1.9zM2025.4 283.4h3.1v3.1h-3.1zM2105.6 299.7h2.5v2.9h-2.5zM2081.5 574.9h3.1v3.4h-3.1zM2089.3 320.3h2.1v1.6h-2.1zM2099.2 932.2h3.2v2.7h-3.2zM2132.6 244h3v2.1h-3zM2252.6 1025.7h3.2v3.8h-3.2zM2098.8 297h3.1v4.1h-3.1zM2259.5 536.8h1.7v2.5h-1.7zM2037.6 196.2h2.3v4.2h-2.3zM2135 920h1.4v3.2h-1.4zM2029.4 409.1h1.3v2.4h-1.3zM2038.5 1016.9h1.6v3.9h-1.6zM2122 352.1h2.6v3.3h-2.6zM2173.9 295.8h1.3v1.9h-1.3zM2193.4 271.1h1.6v3.1h-1.6zM2260.2 937.1h2.4v1.6h-2.4zM2118.6 356.7h1.9v3.7h-1.9zM2094.8 648.5h2.7v2.1h-2.7zM2027.3 589.9h2.3v3.8h-2.3zM2031.7 804.5h2.3v3.3h-2.3zM2091.2 327h2v4.4h-2zM2066 907.1h3.1v1.5h-3.1zM2171.5 671.1h1.4v4h-1.4zM2248.4 289.6h2.1v2.3h-2.1zM2223.7 969.9h2.4v4.3h-2.4zM2118.1 420.6h2.7v3.4h-2.7zM2158 468h1.5v2.7h-1.5zM2255.5 430.1h1.5v1.5h-1.5zM2039.3 580.6h2.1v3.4h-2.1zM2077.8 472.1h2.3v4.4h-2.3zM2252.8 490.4h3.1v3.1h-3.1zM2216.2 602.2h2.1v3.8h-2.1zM2262.8 459.9h2.5v3.1h-2.5zM2200.2 538.7h2.2v4.1h-2.2zM2065.4 219.2h2.4v4.4h-2.4zM2230.3 869h2.6v3.3h-2.6zM2159 527.9h2.7v3.7h-2.7zM2180.4 292.6h1.6v2.6h-1.6zM2065 981.1h1.6v1.9h-1.6zM2131.7 200.3h2.4v4.2h-2.4zM2221.6 842.2h1.5v3.2h-1.5zM2083.7 508.1h3.2v1.7h-3.2zM2060.6 894.8h2.4v2.8h-2.4zM2159.3 407.9h1.5v3.7h-1.5zM2079.2 927.2h1.6v3.2h-1.6zM2115 960.1h1.9v3.4h-1.9zM2039.5 564.5h2.6v3.3h-2.6zM2123.5 172.1h1.3v3.9h-1.3zM2236.8 178.4h3v3.2h-3z"/>
</g>
<g id="guides">
<rect x="684.4" y="58" width="5.2" height="1303.5" fill="#f00" opacity="0.92"/>
<rect x="722.7" y="58" width="5.2" height="1303.5" fill="#f00" opacity="0.92"/>
<rect x="927.2" y="58" width="5.2" height="1303.5" fill="#f00" opacity="0.92"/>
<rect x="1965.4" y="58" width="5.2" height="1303.5" fill="#f00" opacity="0.92"/>
<rect x="2011.0" y="58" width="5.2" height="1303.5" fill="#f00" opacity="0.92"/>
</g>
<g id="legend">
<rect x="317.5" y="1030.5" width="906" height="297" fill="#fff" stroke="#8c8c8c" stroke-width="2.6"/>
<text x="356" y="1109.3" font-size="84.0">P<tspan font-size="56.0" dy="11.8">n</tspan><tspan dy="-11.8" dx="1.5">:Periodic motion</tspan></text>
<text x="356" y="1201" font-size="84.0">Q:Quasi-periodic motion</text>
<text x="356" y="1293.1" font-size="84.0">C:Chaotic motion</text>
</g>
<g id="region-labels">
<text x="465" y="791" font-size="84.0" fill="#f00">P<tspan font-size="56.0" dy="11.8" dx="-3">1</tspan></text>
<text x="795.2" y="706.2" font-size="84.0" fill="#f00">P<tspan font-size="56.0" dy="11.8" dx="-3">1</tspan></text>
<text x="1429.2" y="1131.9" font-size="84.0" fill="#f00">P<tspan font-size="56.0" dy="11.8" dx="-0.4">n</tspan><tspan dy="-11.8" dx="1.4">/</tspan><tspan dx="0.8">C</tspan></text>
<text x="2053.2" y="1304" font-size="84.0" fill="#f00">P<tspan font-size="56.0" dy="11.8" dx="-0.4">n</tspan><tspan dy="-11.8" dx="1.4">/</tspan><tspan dx="0.8">C</tspan></text>
<text x="1917" y="151.5" font-size="84.0" fill="#f00">P<tspan font-size="56.0" dy="11.8" dx="-0.3">4</tspan><tspan dy="-11.8">/P</tspan><tspan font-size="56.0" dy="11.8" dx="1.2">8</tspan></text>
<text x="674" y="263" font-size="84.0" fill="#f00">C</text>
</g>
<g id="axis-labels">
<text x="264.8" y="85.8" text-anchor="end" font-size="84.0">4.0</text>
<text x="264.2" y="735.6" text-anchor="end" font-size="84.0">1.0</text>
<text x="264.5" y="1383.4" text-anchor="end" font-size="84.0">-2.0</text>
<text x="284.5" y="1445.8" text-anchor="middle" font-size="84.0">7.0</text>
<text x="777" y="1445.8" text-anchor="middle" font-size="84.0">23</text>
<text x="1276" y="1445.8" text-anchor="middle" font-size="84.0">39</text>
<text x="1769" y="1445.8" text-anchor="middle" font-size="84.0">55</text>
<text x="2262.3" y="1445.8" text-anchor="middle" font-size="84.0">71</text>
<text x="1026.5" y="1547.5" font-size="84.0" xml:space="preserve">Speed  <tspan font-style="italic">ω</tspan>/rad/s</text>
<text transform="translate(87.9,1070.5) rotate(-90)" font-size="84.0" xml:space="preserve"><tspan font-style="italic">y</tspan><tspan font-size="56.0" dy="11.8">1</tspan><tspan dy="-11.8"> Amplitude/m×10</tspan><tspan font-size="56.0" dy="-26.5">-3</tspan></text>
</g>
</svg>
</body></html>
